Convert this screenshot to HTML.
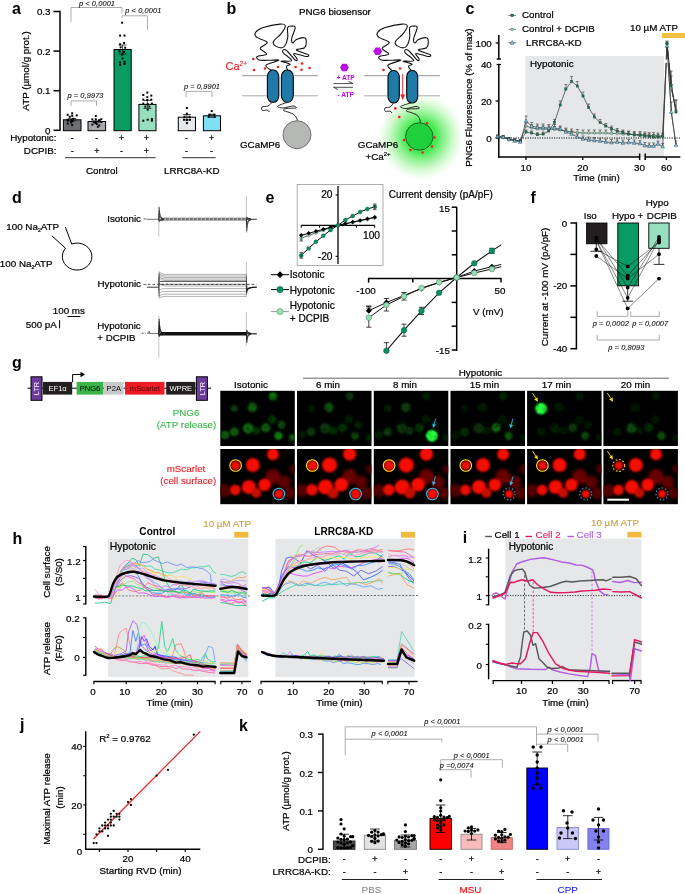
<!DOCTYPE html>
<html><head><meta charset="utf-8"><title>Figure</title>
<style>html,body{margin:0;padding:0;background:#fff}svg{display:block}text{font-family:'Liberation Sans', Arial, sans-serif}</style>
</head><body>
<svg width="685" height="894" viewBox="0 0 685 894" font-family="'Liberation Sans', Arial, sans-serif">
<rect width="685" height="894" fill="#fff"/>
<g id="pa">
<text x="12.0" y="14.0" font-size="16" font-weight="bold">a</text>
<line x1="60.0" y1="10.8" x2="60.0" y2="131.0" stroke="#000" stroke-width="1.5"/>
<line x1="53.5" y1="130.3" x2="60.0" y2="130.3" stroke="#000" stroke-width="1.5"/>
<text x="50.5" y="133.8" font-size="9.8" text-anchor="end" stroke="#000" stroke-width="0.22">0</text>
<line x1="53.5" y1="90.7" x2="60.0" y2="90.7" stroke="#000" stroke-width="1.5"/>
<text x="50.5" y="94.2" font-size="9.8" text-anchor="end" stroke="#000" stroke-width="0.22">0.1</text>
<line x1="53.5" y1="51.1" x2="60.0" y2="51.1" stroke="#000" stroke-width="1.5"/>
<text x="50.5" y="54.6" font-size="9.8" text-anchor="end" stroke="#000" stroke-width="0.22">0.2</text>
<line x1="53.5" y1="11.5" x2="60.0" y2="11.5" stroke="#000" stroke-width="1.5"/>
<text x="50.5" y="15.0" font-size="9.8" text-anchor="end" stroke="#000" stroke-width="0.22">0.3</text>
<text x="28.7" y="71.0" font-size="9.8" text-anchor="middle" stroke="#000" stroke-width="0.22" transform="rotate(-90 28.7 71.0)">ATP (µmol/g prot.)</text>
<rect x="63.4" y="119.8" width="17.6" height="10.9" fill="#6d6e71" stroke="#000" stroke-width="1"/>
<line x1="72.2" y1="118.6" x2="72.2" y2="121.0" stroke="#000" stroke-width="0.7"/>
<line x1="68.2" y1="118.6" x2="76.2" y2="118.6" stroke="#000" stroke-width="0.7"/>
<line x1="68.2" y1="121.0" x2="76.2" y2="121.0" stroke="#000" stroke-width="0.7"/>
<rect x="75.7" y="114.4" width="2.0" height="2.0" fill="#000"/>
<rect x="66.7" y="113.8" width="2.0" height="2.0" fill="#000"/>
<rect x="71.2" y="119.1" width="2.0" height="2.0" fill="#000"/>
<rect x="71.2" y="114.8" width="2.0" height="2.0" fill="#000"/>
<rect x="66.7" y="122.6" width="2.0" height="2.0" fill="#000"/>
<rect x="71.2" y="124.1" width="2.0" height="2.0" fill="#000"/>
<rect x="71.2" y="112.3" width="2.0" height="2.0" fill="#000"/>
<rect x="72.2" y="117.8" width="2.0" height="2.0" fill="#000"/>
<rect x="71.2" y="119.0" width="2.0" height="2.0" fill="#000"/>
<rect x="70.2" y="119.2" width="2.0" height="2.0" fill="#000"/>
<rect x="66.7" y="119.5" width="2.0" height="2.0" fill="#000"/>
<rect x="70.2" y="121.5" width="2.0" height="2.0" fill="#000"/>
<rect x="72.2" y="118.2" width="2.0" height="2.0" fill="#000"/>
<rect x="66.7" y="118.8" width="2.0" height="2.0" fill="#000"/>
<rect x="68.7" y="115.8" width="2.0" height="2.0" fill="#000"/>
<rect x="71.2" y="120.3" width="2.0" height="2.0" fill="#000"/>
<rect x="88.0" y="121.5" width="17.6" height="9.2" fill="#a7a9ac" stroke="#000" stroke-width="1"/>
<line x1="96.8" y1="120.8" x2="96.8" y2="122.2" stroke="#000" stroke-width="0.7"/>
<line x1="92.8" y1="120.8" x2="100.8" y2="120.8" stroke="#000" stroke-width="0.7"/>
<line x1="92.8" y1="122.2" x2="100.8" y2="122.2" stroke="#000" stroke-width="0.7"/>
<rect x="100.3" y="121.0" width="2.0" height="2.0" fill="#000"/>
<rect x="95.8" y="123.0" width="2.0" height="2.0" fill="#000"/>
<rect x="94.8" y="118.3" width="2.0" height="2.0" fill="#000"/>
<rect x="93.3" y="121.5" width="2.0" height="2.0" fill="#000"/>
<rect x="94.8" y="122.1" width="2.0" height="2.0" fill="#000"/>
<rect x="91.3" y="123.6" width="2.0" height="2.0" fill="#000"/>
<rect x="98.3" y="124.4" width="2.0" height="2.0" fill="#000"/>
<rect x="91.3" y="118.4" width="2.0" height="2.0" fill="#000"/>
<rect x="100.3" y="118.2" width="2.0" height="2.0" fill="#000"/>
<rect x="94.8" y="114.9" width="2.0" height="2.0" fill="#000"/>
<rect x="98.3" y="119.3" width="2.0" height="2.0" fill="#000"/>
<rect x="98.3" y="119.4" width="2.0" height="2.0" fill="#000"/>
<rect x="96.8" y="125.8" width="2.0" height="2.0" fill="#000"/>
<rect x="114.0" y="49.5" width="17.2" height="81.2" fill="#0a9a63" stroke="#000" stroke-width="1"/>
<line x1="122.6" y1="45.0" x2="122.6" y2="54.0" stroke="#000" stroke-width="0.7"/>
<line x1="118.6" y1="45.0" x2="126.6" y2="45.0" stroke="#000" stroke-width="0.7"/>
<line x1="118.6" y1="54.0" x2="126.6" y2="54.0" stroke="#000" stroke-width="0.7"/>
<rect x="138.9" y="104.4" width="17.1" height="26.3" fill="#98dfc0" stroke="#000" stroke-width="1"/>
<line x1="147.4" y1="100.4" x2="147.4" y2="108.4" stroke="#000" stroke-width="0.7"/>
<line x1="143.4" y1="100.4" x2="151.4" y2="100.4" stroke="#000" stroke-width="0.7"/>
<line x1="143.4" y1="108.4" x2="151.4" y2="108.4" stroke="#000" stroke-width="0.7"/>
<rect x="178.3" y="117.2" width="17.2" height="13.5" fill="#e6e7e8" stroke="#000" stroke-width="1"/>
<line x1="186.9" y1="114.5" x2="186.9" y2="119.9" stroke="#000" stroke-width="0.7"/>
<line x1="182.9" y1="114.5" x2="190.9" y2="114.5" stroke="#000" stroke-width="0.7"/>
<line x1="182.9" y1="119.9" x2="190.9" y2="119.9" stroke="#000" stroke-width="0.7"/>
<rect x="203.4" y="115.8" width="17.1" height="14.9" fill="#7fdff5" stroke="#000" stroke-width="1"/>
<line x1="211.9" y1="114.3" x2="211.9" y2="117.3" stroke="#000" stroke-width="0.7"/>
<line x1="207.9" y1="114.3" x2="215.9" y2="114.3" stroke="#000" stroke-width="0.7"/>
<line x1="207.9" y1="117.3" x2="215.9" y2="117.3" stroke="#000" stroke-width="0.7"/>
<rect x="121.1" y="21.7" width="2.0" height="2.0" fill="#000"/>
<rect x="119.1" y="34.6" width="2.0" height="2.0" fill="#000"/>
<rect x="123.5" y="34.6" width="2.0" height="2.0" fill="#000"/>
<rect x="119.1" y="43.3" width="2.0" height="2.0" fill="#000"/>
<rect x="123.1" y="41.9" width="2.0" height="2.0" fill="#000"/>
<rect x="119.7" y="46.3" width="2.0" height="2.0" fill="#000"/>
<rect x="124.2" y="46.7" width="2.0" height="2.0" fill="#000"/>
<rect x="118.5" y="50.3" width="2.0" height="2.0" fill="#000"/>
<rect x="123.1" y="50.9" width="2.0" height="2.0" fill="#000"/>
<rect x="121.1" y="53.7" width="2.0" height="2.0" fill="#000"/>
<rect x="121.5" y="57.4" width="2.0" height="2.0" fill="#000"/>
<rect x="119.1" y="61.4" width="2.0" height="2.0" fill="#000"/>
<rect x="123.5" y="60.8" width="2.0" height="2.0" fill="#000"/>
<rect x="119.1" y="63.8" width="2.0" height="2.0" fill="#000"/>
<rect x="123.5" y="63.0" width="2.0" height="2.0" fill="#000"/>
<rect x="146.3" y="91.6" width="2.0" height="2.0" fill="#000"/>
<rect x="142.3" y="94.0" width="2.0" height="2.0" fill="#000"/>
<rect x="150.3" y="94.6" width="2.0" height="2.0" fill="#000"/>
<rect x="146.3" y="96.2" width="2.0" height="2.0" fill="#000"/>
<rect x="142.3" y="98.6" width="2.0" height="2.0" fill="#000"/>
<rect x="146.3" y="99.0" width="2.0" height="2.0" fill="#000"/>
<rect x="150.3" y="98.6" width="2.0" height="2.0" fill="#000"/>
<rect x="142.3" y="102.6" width="2.0" height="2.0" fill="#000"/>
<rect x="146.7" y="103.2" width="2.0" height="2.0" fill="#000"/>
<rect x="150.9" y="102.6" width="2.0" height="2.0" fill="#000"/>
<rect x="144.3" y="105.6" width="2.0" height="2.0" fill="#000"/>
<rect x="148.3" y="105.6" width="2.0" height="2.0" fill="#000"/>
<rect x="146.7" y="108.7" width="2.0" height="2.0" fill="#000"/>
<rect x="142.3" y="119.7" width="2.0" height="2.0" fill="#000"/>
<rect x="146.7" y="118.7" width="2.0" height="2.0" fill="#000"/>
<rect x="150.9" y="118.1" width="2.0" height="2.0" fill="#000"/>
<rect x="150.9" y="119.7" width="2.0" height="2.0" fill="#000"/>
<rect x="185.9" y="107.0" width="2.0" height="2.0" fill="#000"/>
<rect x="185.9" y="112.7" width="2.0" height="2.0" fill="#000"/>
<rect x="183.5" y="115.7" width="2.0" height="2.0" fill="#000"/>
<rect x="188.5" y="115.7" width="2.0" height="2.0" fill="#000"/>
<rect x="183.1" y="118.7" width="2.0" height="2.0" fill="#000"/>
<rect x="185.9" y="119.1" width="2.0" height="2.0" fill="#000"/>
<rect x="188.9" y="118.7" width="2.0" height="2.0" fill="#000"/>
<rect x="185.9" y="122.1" width="2.0" height="2.0" fill="#000"/>
<rect x="210.7" y="110.1" width="2.0" height="2.0" fill="#000"/>
<rect x="208.7" y="113.7" width="2.0" height="2.0" fill="#000"/>
<rect x="213.1" y="113.7" width="2.0" height="2.0" fill="#000"/>
<rect x="207.7" y="115.7" width="2.0" height="2.0" fill="#000"/>
<rect x="213.7" y="115.7" width="2.0" height="2.0" fill="#000"/>
<text x="56.5" y="141.0" font-size="9.8" text-anchor="end" stroke="#000" stroke-width="0.22">Hypotonic:</text>
<text x="56.5" y="154.0" font-size="9.8" text-anchor="end" stroke="#000" stroke-width="0.22">DCPIB:</text>
<text x="72.2" y="140.5" font-size="9" text-anchor="middle" stroke="#000" stroke-width="0.22">-</text>
<text x="72.2" y="153.5" font-size="9" text-anchor="middle" stroke="#000" stroke-width="0.22">-</text>
<text x="96.8" y="140.5" font-size="9" text-anchor="middle" stroke="#000" stroke-width="0.22">-</text>
<text x="96.8" y="153.5" font-size="9" text-anchor="middle" stroke="#000" stroke-width="0.22">+</text>
<text x="121.4" y="140.5" font-size="9" text-anchor="middle" stroke="#000" stroke-width="0.22">+</text>
<text x="121.4" y="153.5" font-size="9" text-anchor="middle" stroke="#000" stroke-width="0.22">-</text>
<text x="146.4" y="140.5" font-size="9" text-anchor="middle" stroke="#000" stroke-width="0.22">+</text>
<text x="146.4" y="153.5" font-size="9" text-anchor="middle" stroke="#000" stroke-width="0.22">+</text>
<text x="186.6" y="140.5" font-size="9" text-anchor="middle" stroke="#000" stroke-width="0.22">-</text>
<text x="186.6" y="153.5" font-size="9" text-anchor="middle" stroke="#000" stroke-width="0.22">-</text>
<text x="211.6" y="140.5" font-size="9" text-anchor="middle" stroke="#000" stroke-width="0.22">+</text>
<text x="211.6" y="153.5" font-size="9" text-anchor="middle" stroke="#000" stroke-width="0.22">-</text>
<line x1="65.0" y1="157.7" x2="155.7" y2="157.7" stroke="#333" stroke-width="1"/>
<line x1="182.3" y1="157.7" x2="215.7" y2="157.7" stroke="#333" stroke-width="1"/>
<text x="86.0" y="174.0" font-size="9.8" stroke="#000" stroke-width="0.22">Control</text>
<text x="164.0" y="174.0" font-size="9.8" stroke="#000" stroke-width="0.22">LRRC8A-KD</text>
<path d="M71.0,22.0 V7.5 H122.0 V13.0" fill="none" stroke="#8a8a8a" stroke-width="0.7"/>
<text x="97.0" y="5.6" font-size="7.4" text-anchor="middle" font-style="italic" fill="#111" stroke="#111" stroke-width="0.11" letter-spacing="0.1">p &lt; 0,0001</text>
<path d="M122.0,17.5 V15.8 H147.4 V30.0" fill="none" stroke="#8a8a8a" stroke-width="0.7"/>
<text x="143.3" y="13.2" font-size="7.4" text-anchor="middle" font-style="italic" fill="#111" stroke="#111" stroke-width="0.11" letter-spacing="0.1">p &lt; 0,0001</text>
<path d="M71.0,105.9 V100.9 H96.5 V105.9" fill="none" stroke="#8a8a8a" stroke-width="0.7"/>
<text x="85.5" y="98.4" font-size="7.4" text-anchor="middle" font-style="italic" fill="#111" stroke="#111" stroke-width="0.11" letter-spacing="0.1">p = 0,9973</text>
<path d="M186.0,97.0 V91.4 H212.0 V97.0" fill="none" stroke="#8a8a8a" stroke-width="0.7"/>
<text x="202.0" y="88.6" font-size="7.4" text-anchor="middle" font-style="italic" fill="#111" stroke="#111" stroke-width="0.11" letter-spacing="0.1">p = 0,9901</text>
</g>
<g id="pb">
<defs><radialGradient id="glow"><stop offset="0" stop-color="#2fe03a" stop-opacity="1"/><stop offset="0.35" stop-color="#3fe84a" stop-opacity="0.95"/><stop offset="0.62" stop-color="#7bf07a" stop-opacity="0.6"/><stop offset="0.85" stop-color="#b8f8b0" stop-opacity="0.25"/><stop offset="1" stop-color="#ffffff" stop-opacity="0"/></radialGradient></defs>
<text x="226.5" y="13.5" font-size="16" font-weight="bold">b</text>
<text x="299.0" y="14.5" font-size="9.8" stroke="#000" stroke-width="0.22">PNG6 biosensor</text>
<circle cx="421.0" cy="137.0" r="45" fill="url(#glow)"/>
<line x1="242.0" y1="75.7" x2="267.0" y2="75.7" stroke="#777" stroke-width="0.8"/>
<line x1="294.0" y1="75.7" x2="318.0" y2="75.7" stroke="#777" stroke-width="0.8"/>
<line x1="242.0" y1="95.8" x2="267.0" y2="95.8" stroke="#b0b0b0" stroke-width="1.1"/>
<line x1="294.0" y1="95.8" x2="318.0" y2="95.8" stroke="#b0b0b0" stroke-width="1.1"/>
<path d="M272.5,71.0 C271.3,69.9 264.9,67.2 266.0,65.2 C267.2,63.3 278.4,61.2 278.9,60.3 C279.3,59.4 272.0,60.4 268.4,60.3 C264.7,60.2 261.0,60.7 259.0,60.0 C257.0,59.3 255.9,57.5 257.3,56.5 C258.7,55.4 266.1,55.6 266.6,54.1 C267.1,52.6 260.1,50.4 260.2,48.3 C260.3,46.1 267.8,44.5 267.2,42.4 C266.5,40.4 258.8,39.0 256.7,37.2 C254.5,35.4 254.4,34.2 255.5,32.5 C256.6,30.8 258.0,29.4 262.5,27.8 C267.0,26.3 275.9,24.4 280.0,24.1 C284.2,23.8 285.1,24.3 285.3,26.1 C285.5,27.9 283.3,30.9 281.2,33.7 C279.1,36.5 274.7,39.0 273.6,41.3 C272.5,43.5 273.5,44.9 275.4,45.9 C277.2,47.0 281.3,48.5 283.5,47.1 C285.8,45.7 286.9,41.9 287.6,38.4 C288.4,34.8 286.9,30.1 287.6,27.8 C288.4,25.6 290.3,26.1 291.7,26.1 C293.1,26.1 295.2,25.6 295.2,27.8 C295.2,30.1 292.1,35.6 291.7,38.4 C291.3,41.1 292.0,42.8 292.9,43.0 C293.7,43.2 294.2,40.5 296.4,39.5 C298.5,38.6 302.7,37.3 304.6,37.8 C306.4,38.2 306.3,40.0 306.3,41.9 C306.3,43.7 306.4,46.2 304.6,47.7 C302.7,49.2 295.7,48.8 296.4,50.0 C297.0,51.3 306.4,53.5 308.1,54.7 C309.8,55.9 308.3,56.7 305.7,56.5 C303.2,56.2 295.7,53.1 294.1,53.5 C292.4,54.0 296.8,57.6 297.0,58.8 C297.2,60.0 297.3,61.6 295.2,60.0 C293.2,58.4 288.1,51.4 285.9,50.0 C283.6,48.6 281.9,50.4 283.0,52.4 C284.0,54.3 292.0,58.9 291.7,60.5 C291.4,62.2 281.5,60.5 281.2,61.1 C280.9,61.8 289.0,63.1 290.0,64.1 C290.9,65.0 286.8,65.1 286.5,66.4 C286.1,67.7 287.7,70.2 288.0,71.0" fill="none" stroke="#111" stroke-width="1.1" stroke-linecap="round" stroke-linejoin="round"/>
<rect x="267.4" y="70.0" width="11.4" height="32.3" rx="5.2" ry="6.7" fill="#1f7aa8" stroke="#000" stroke-width="1.1"/>
<rect x="281.4" y="70.0" width="11.9" height="32.3" rx="5.5" ry="7.0" fill="#1f7aa8" stroke="#000" stroke-width="1.1"/>
<text x="225.5" y="69.5" font-size="11" fill="#ed1c24" stroke="#ed1c24" stroke-width="0.11">Ca<tspan font-size="6.5" dy="-4">2+</tspan></text>
<circle cx="253.3" cy="59.0" r="1.3" fill="#ed1c24"/>
<circle cx="254.0" cy="70.0" r="1.3" fill="#ed1c24"/>
<circle cx="265.0" cy="68.5" r="1.3" fill="#ed1c24"/>
<circle cx="278.0" cy="67.0" r="1.3" fill="#ed1c24"/>
<circle cx="295.6" cy="67.0" r="1.3" fill="#ed1c24"/>
<circle cx="302.0" cy="63.5" r="1.3" fill="#ed1c24"/>
<circle cx="301.5" cy="69.8" r="1.3" fill="#ed1c24"/>
<circle cx="309.6" cy="68.0" r="1.3" fill="#ed1c24"/>
<path d="M272.0,102.5 C271.3,103.1 269.7,105.2 268.0,106.0 C266.3,106.8 262.9,106.2 262.0,107.0 C261.1,107.8 261.7,110.0 262.5,110.5 C263.3,111.0 265.8,109.8 267.0,110.0 C268.2,110.2 269.1,111.7 269.5,112.0" fill="none" stroke="#111" stroke-width="0.9"/>
<path d="M287.0,102.5 C286.0,102.8 282.6,103.8 281.0,104.5 C279.4,105.2 277.2,105.9 277.5,106.5 C277.8,107.1 280.4,108.1 283.0,108.0 C285.6,107.9 290.8,106.0 293.0,106.0 C295.2,106.0 297.2,107.6 296.0,108.0 C294.8,108.4 288.1,108.1 286.0,108.5 C283.9,108.9 283.2,109.9 283.5,110.5 C283.8,111.1 286.4,111.4 288.0,112.0 C289.6,112.6 291.7,113.2 293.0,114.0 C294.3,114.8 295.2,115.9 296.0,117.0 C296.8,118.1 297.2,119.9 297.5,120.5" fill="none" stroke="#111" stroke-width="0.9"/>
<circle cx="297.0" cy="134.7" r="14" fill="#b5b8b5" stroke="#555" stroke-width="0.8"/>
<text x="240.0" y="148.0" font-size="9.8" stroke="#000" stroke-width="0.22">GCaMP6</text>
<polygon points="348.8,67.5 346.6,71.3 342.2,71.3 340.0,67.5 342.2,63.7 346.6,63.7" fill="#b80ce8"/>
<polygon points="382.1,51.2 379.9,55.0 375.5,55.0 373.3,51.2 375.5,47.4 379.9,47.4" fill="#b80ce8"/>
<text x="345.7" y="79.5" font-size="6.6" text-anchor="middle" font-weight="bold" fill="#b80ce8">+ ATP</text>
<text x="345.7" y="96.8" font-size="6.6" text-anchor="middle" font-weight="bold" fill="#b80ce8">- ATP</text>
<path d="M333.5,83.6 H353 L348.5,81.4" fill="none" stroke="#222" stroke-width="0.8"/>
<path d="M353,87.3 H333.5 L338,89.5" fill="none" stroke="#222" stroke-width="0.8"/>
<line x1="364.0" y1="75.7" x2="387.5" y2="75.7" stroke="#777" stroke-width="0.8"/>
<line x1="418.0" y1="75.7" x2="440.0" y2="75.7" stroke="#777" stroke-width="0.8"/>
<line x1="364.0" y1="95.8" x2="387.5" y2="95.8" stroke="#b0b0b0" stroke-width="1.1"/>
<line x1="418.0" y1="95.8" x2="440.0" y2="95.8" stroke="#b0b0b0" stroke-width="1.1"/>
<path d="M393.5,71.5 C392.5,70.3 386.7,67.3 388.0,65.2 C389.4,63.2 400.4,61.2 400.9,60.3 C401.3,59.4 394.0,60.4 390.4,60.3 C386.7,60.2 383.0,60.7 381.0,60.0 C379.0,59.3 377.9,57.5 379.3,56.5 C380.7,55.4 388.1,55.6 388.6,54.1 C389.1,52.6 382.1,50.4 382.2,48.3 C382.3,46.1 389.8,44.5 389.2,42.4 C388.5,40.4 380.8,39.0 378.7,37.2 C376.5,35.4 376.4,34.2 377.5,32.5 C378.6,30.8 380.0,29.4 384.5,27.8 C389.0,26.3 397.9,24.4 402.0,24.1 C406.2,23.8 407.1,24.3 407.3,26.1 C407.5,27.9 405.3,30.9 403.2,33.7 C401.1,36.5 396.7,39.0 395.6,41.3 C394.5,43.5 395.5,44.9 397.4,45.9 C399.2,47.0 403.3,48.5 405.5,47.1 C407.8,45.7 408.9,41.9 409.6,38.4 C410.4,34.8 408.9,30.1 409.6,27.8 C410.4,25.6 412.3,26.1 413.7,26.1 C415.1,26.1 417.2,25.6 417.2,27.8 C417.2,30.1 414.1,35.6 413.7,38.4 C413.3,41.1 414.0,42.8 414.9,43.0 C415.7,43.2 416.2,40.5 418.4,39.5 C420.5,38.6 424.7,37.3 426.6,37.8 C428.4,38.2 428.3,40.0 428.3,41.9 C428.3,43.7 428.4,46.2 426.6,47.7 C424.7,49.2 417.7,48.8 418.4,50.0 C419.0,51.3 428.4,53.5 430.1,54.7 C431.8,55.9 430.3,56.7 427.7,56.5 C425.2,56.2 417.7,53.1 416.1,53.5 C414.4,54.0 418.8,57.6 419.0,58.8 C419.2,60.0 419.3,61.6 417.2,60.0 C415.2,58.4 410.1,51.4 407.9,50.0 C405.6,48.6 403.9,50.4 405.0,52.4 C406.0,54.3 414.0,58.9 413.7,60.5 C413.4,62.2 403.5,60.5 403.2,61.1 C402.9,61.8 411.0,63.1 412.0,64.1 C412.9,65.0 408.5,65.0 408.5,66.4 C408.5,67.8 411.4,70.6 412.0,71.5" fill="none" stroke="#111" stroke-width="1.1" stroke-linecap="round" stroke-linejoin="round"/>
<rect x="388.0" y="70.5" width="11.3" height="32.5" rx="5.2" ry="6.7" fill="#1f7aa8" stroke="#000" stroke-width="1.1"/>
<rect x="406.7" y="70.5" width="11.0" height="32.5" rx="5.0" ry="6.5" fill="#1f7aa8" stroke="#000" stroke-width="1.1"/>
<line x1="402.7" y1="74.0" x2="402.7" y2="96.0" stroke="#ed1c24" stroke-width="0.9"/>
<polygon points="400.3,94.5 405.1,94.5 402.7,100" fill="#ed1c24"/>
<circle cx="383.5" cy="70.0" r="1.3" fill="#ed1c24"/>
<circle cx="400.0" cy="68.5" r="1.3" fill="#ed1c24"/>
<circle cx="395.4" cy="108.4" r="1.3" fill="#ed1c24"/>
<circle cx="399.3" cy="117.0" r="1.3" fill="#ed1c24"/>
<path d="M393.5,103.0 C392.9,103.7 391.4,106.2 390.0,107.0 C388.6,107.8 385.8,107.2 385.0,108.0 C384.2,108.8 384.7,111.0 385.5,111.5 C386.3,112.0 388.9,110.8 390.0,111.0 C391.1,111.2 391.7,112.7 392.0,113.0" fill="none" stroke="#111" stroke-width="0.9"/>
<path d="M411.0,103.0 C409.8,103.3 405.8,104.3 404.0,105.0 C402.2,105.7 400.2,106.4 400.5,107.0 C400.8,107.6 403.4,108.6 406.0,108.5 C408.6,108.4 413.8,106.5 416.0,106.5 C418.2,106.5 420.2,108.1 419.0,108.5 C417.8,108.9 411.1,108.6 409.0,109.0 C406.9,109.4 406.2,110.4 406.5,111.0 C406.8,111.6 409.4,111.9 411.0,112.5 C412.6,113.1 414.7,113.7 416.0,114.5 C417.3,115.3 418.2,116.2 419.0,117.5 C419.8,118.8 420.2,121.7 420.5,122.5" fill="none" stroke="#111" stroke-width="0.9"/>
<circle cx="419.3" cy="136.5" r="13.7" fill="#1fd03c" stroke="#0a4a12" stroke-width="0.8"/>
<circle cx="427.0" cy="123.3" r="1.3" fill="#ed1c24"/>
<circle cx="434.5" cy="137.5" r="1.3" fill="#ed1c24"/>
<circle cx="432.0" cy="146.5" r="1.3" fill="#ed1c24"/>
<circle cx="422.6" cy="152.5" r="1.3" fill="#ed1c24"/>
<circle cx="410.5" cy="150.0" r="1.3" fill="#ed1c24"/>
<circle cx="404.0" cy="140.0" r="1.3" fill="#ed1c24"/>
<text x="378.0" y="147.5" font-size="9.8" text-anchor="middle" stroke="#000" stroke-width="0.22">GCaMP6</text>
<text x="378.0" y="159.5" font-size="9.8" text-anchor="middle" stroke="#000" stroke-width="0.22">+Ca<tspan font-size="6" dy="-3.5">2+</tspan></text>
</g>
<g id="pc">
<text x="465.5" y="13.7" font-size="16" font-weight="bold">c</text>
<rect x="525.4" y="56.0" width="138.6" height="101.0" fill="#e6e7e8"/>
<text x="530.0" y="67.0" font-size="9.8" stroke="#000" stroke-width="0.22">Hypotonic</text>
<rect x="662.0" y="33.0" width="23.0" height="5.0" fill="#f2c040"/>
<text x="630.0" y="30.7" font-size="9.8" stroke="#000" stroke-width="0.22">10 µM ATP</text>
<line x1="498.8" y1="35.0" x2="498.8" y2="59.6" stroke="#000" stroke-width="1.5"/>
<line x1="496.6" y1="59.0" x2="501.0" y2="59.0" stroke="#000" stroke-width="1.3"/>
<line x1="495.6" y1="43.0" x2="498.8" y2="43.0" stroke="#000" stroke-width="1.3"/>
<line x1="498.8" y1="64.0" x2="498.8" y2="157.7" stroke="#000" stroke-width="1.5"/>
<line x1="496.6" y1="64.5" x2="501.0" y2="64.5" stroke="#000" stroke-width="1.3"/>
<line x1="495.6" y1="138.0" x2="498.8" y2="138.0" stroke="#000" stroke-width="1.3"/>
<text x="491.8" y="141.5" font-size="9.8" text-anchor="end" stroke="#000" stroke-width="0.22">0</text>
<line x1="495.6" y1="101.0" x2="498.8" y2="101.0" stroke="#000" stroke-width="1.3"/>
<text x="491.8" y="104.5" font-size="9.8" text-anchor="end" stroke="#000" stroke-width="0.22">20</text>
<text x="491.8" y="67.5" font-size="9.8" text-anchor="end" stroke="#000" stroke-width="0.22">40</text>
<text x="491.8" y="46.5" font-size="9.8" text-anchor="end" stroke="#000" stroke-width="0.22">100</text>
<text x="472.0" y="97.5" font-size="9.8" text-anchor="middle" stroke="#000" stroke-width="0.22" transform="rotate(-90 472.0 97.5)">PNG6 Fluorescence (% of max)</text>
<line x1="498.1" y1="157.0" x2="640.2" y2="157.0" stroke="#000" stroke-width="1.5"/>
<line x1="644.8" y1="157.0" x2="680.4" y2="157.0" stroke="#000" stroke-width="1.5"/>
<line x1="639.6" y1="153.5" x2="639.6" y2="160.0" stroke="#000" stroke-width="1.5"/>
<line x1="645.2" y1="153.5" x2="645.2" y2="160.0" stroke="#000" stroke-width="1.5"/>
<line x1="526.0" y1="157.0" x2="526.0" y2="160.0" stroke="#000" stroke-width="1.3"/>
<text x="526.0" y="171.0" font-size="9.8" text-anchor="middle" stroke="#000" stroke-width="0.22">10</text>
<line x1="582.7" y1="157.0" x2="582.7" y2="160.0" stroke="#000" stroke-width="1.3"/>
<text x="582.7" y="171.0" font-size="9.8" text-anchor="middle" stroke="#000" stroke-width="0.22">20</text>
<text x="639.5" y="171.0" font-size="9.8" text-anchor="middle" stroke="#000" stroke-width="0.22">30</text>
<line x1="666.4" y1="157.0" x2="666.4" y2="160.0" stroke="#000" stroke-width="1.3"/>
<text x="666.4" y="171.0" font-size="9.8" text-anchor="middle" stroke="#000" stroke-width="0.22">60</text>
<text x="596.6" y="181.0" font-size="9.8" text-anchor="middle" stroke="#000" stroke-width="0.22">Time (min)</text>
<line x1="498.8" y1="138.0" x2="681.0" y2="138.0" stroke="#000" stroke-width="0.9" stroke-dasharray="1.2,1.2"/>
<polyline points="662.7,136.5 667.0,43.0 671.3,85.0 676.0,112.0" fill="none" stroke="#333" stroke-width="0.7"/>
<polyline points="662.7,136.0 667.0,44.0 671.3,88.0 676.0,110.0" fill="none" stroke="#333" stroke-width="0.7"/>
<polyline points="662.7,146.5 667.0,46.0 671.3,112.0 676.0,145.0" fill="none" stroke="#333" stroke-width="0.7"/>
<rect x="664.2" y="59.6" width="17.0" height="3.2" fill="#fff"/>
<polyline points="497.5,137.0 503.2,137.5 508.9,139.0 514.6,140.0 520.3,141.0 526.0,126.0 531.7,128.0 537.4,129.0 543.1,129.0 548.8,129.0 554.5,129.5 560.2,130.0 565.9,131.0 571.6,132.0 577.3,132.5 583.0,133.0 588.7,133.0 594.4,133.0 600.1,133.0 605.8,133.0 611.5,133.3 617.2,133.5 622.9,134.0 628.6,134.0 634.3,134.5 640.0,134.5 644.8,135.0 649.2,135.5 653.6,135.5 658.0,136.0 662.7,136.0" fill="none" stroke="#333" stroke-width="0.7"/>
<line x1="497.5" y1="135.5" x2="497.5" y2="137.0" stroke="#3a3a3a" stroke-width="0.6"/>
<line x1="496.0" y1="135.5" x2="499.0" y2="135.5" stroke="#3a3a3a" stroke-width="0.6"/>
<line x1="503.2" y1="136.0" x2="503.2" y2="137.5" stroke="#3a3a3a" stroke-width="0.6"/>
<line x1="501.7" y1="136.0" x2="504.7" y2="136.0" stroke="#3a3a3a" stroke-width="0.6"/>
<line x1="508.9" y1="137.5" x2="508.9" y2="139.0" stroke="#3a3a3a" stroke-width="0.6"/>
<line x1="507.4" y1="137.5" x2="510.4" y2="137.5" stroke="#3a3a3a" stroke-width="0.6"/>
<line x1="514.6" y1="138.5" x2="514.6" y2="140.0" stroke="#3a3a3a" stroke-width="0.6"/>
<line x1="513.1" y1="138.5" x2="516.1" y2="138.5" stroke="#3a3a3a" stroke-width="0.6"/>
<line x1="520.3" y1="139.5" x2="520.3" y2="141.0" stroke="#3a3a3a" stroke-width="0.6"/>
<line x1="518.8" y1="139.5" x2="521.8" y2="139.5" stroke="#3a3a3a" stroke-width="0.6"/>
<line x1="526.0" y1="123.0" x2="526.0" y2="126.0" stroke="#3a3a3a" stroke-width="0.6"/>
<line x1="524.5" y1="123.0" x2="527.5" y2="123.0" stroke="#3a3a3a" stroke-width="0.6"/>
<line x1="531.7" y1="125.0" x2="531.7" y2="128.0" stroke="#3a3a3a" stroke-width="0.6"/>
<line x1="530.2" y1="125.0" x2="533.2" y2="125.0" stroke="#3a3a3a" stroke-width="0.6"/>
<line x1="537.4" y1="126.0" x2="537.4" y2="129.0" stroke="#3a3a3a" stroke-width="0.6"/>
<line x1="535.9" y1="126.0" x2="538.9" y2="126.0" stroke="#3a3a3a" stroke-width="0.6"/>
<line x1="543.1" y1="126.0" x2="543.1" y2="129.0" stroke="#3a3a3a" stroke-width="0.6"/>
<line x1="541.6" y1="126.0" x2="544.6" y2="126.0" stroke="#3a3a3a" stroke-width="0.6"/>
<line x1="548.8" y1="126.0" x2="548.8" y2="129.0" stroke="#3a3a3a" stroke-width="0.6"/>
<line x1="547.3" y1="126.0" x2="550.3" y2="126.0" stroke="#3a3a3a" stroke-width="0.6"/>
<line x1="554.5" y1="126.5" x2="554.5" y2="129.5" stroke="#3a3a3a" stroke-width="0.6"/>
<line x1="553.0" y1="126.5" x2="556.0" y2="126.5" stroke="#3a3a3a" stroke-width="0.6"/>
<line x1="560.2" y1="127.0" x2="560.2" y2="130.0" stroke="#3a3a3a" stroke-width="0.6"/>
<line x1="558.7" y1="127.0" x2="561.7" y2="127.0" stroke="#3a3a3a" stroke-width="0.6"/>
<line x1="565.9" y1="128.0" x2="565.9" y2="131.0" stroke="#3a3a3a" stroke-width="0.6"/>
<line x1="564.4" y1="128.0" x2="567.4" y2="128.0" stroke="#3a3a3a" stroke-width="0.6"/>
<line x1="571.6" y1="129.0" x2="571.6" y2="132.0" stroke="#3a3a3a" stroke-width="0.6"/>
<line x1="570.1" y1="129.0" x2="573.1" y2="129.0" stroke="#3a3a3a" stroke-width="0.6"/>
<line x1="577.3" y1="129.5" x2="577.3" y2="132.5" stroke="#3a3a3a" stroke-width="0.6"/>
<line x1="575.8" y1="129.5" x2="578.8" y2="129.5" stroke="#3a3a3a" stroke-width="0.6"/>
<line x1="583.0" y1="130.0" x2="583.0" y2="133.0" stroke="#3a3a3a" stroke-width="0.6"/>
<line x1="581.5" y1="130.0" x2="584.5" y2="130.0" stroke="#3a3a3a" stroke-width="0.6"/>
<line x1="588.7" y1="130.0" x2="588.7" y2="133.0" stroke="#3a3a3a" stroke-width="0.6"/>
<line x1="587.2" y1="130.0" x2="590.2" y2="130.0" stroke="#3a3a3a" stroke-width="0.6"/>
<line x1="594.4" y1="130.0" x2="594.4" y2="133.0" stroke="#3a3a3a" stroke-width="0.6"/>
<line x1="592.9" y1="130.0" x2="595.9" y2="130.0" stroke="#3a3a3a" stroke-width="0.6"/>
<line x1="600.1" y1="130.0" x2="600.1" y2="133.0" stroke="#3a3a3a" stroke-width="0.6"/>
<line x1="598.6" y1="130.0" x2="601.6" y2="130.0" stroke="#3a3a3a" stroke-width="0.6"/>
<line x1="605.8" y1="130.0" x2="605.8" y2="133.0" stroke="#3a3a3a" stroke-width="0.6"/>
<line x1="604.3" y1="130.0" x2="607.3" y2="130.0" stroke="#3a3a3a" stroke-width="0.6"/>
<line x1="611.5" y1="130.3" x2="611.5" y2="133.3" stroke="#3a3a3a" stroke-width="0.6"/>
<line x1="610.0" y1="130.3" x2="613.0" y2="130.3" stroke="#3a3a3a" stroke-width="0.6"/>
<line x1="617.2" y1="130.5" x2="617.2" y2="133.5" stroke="#3a3a3a" stroke-width="0.6"/>
<line x1="615.7" y1="130.5" x2="618.7" y2="130.5" stroke="#3a3a3a" stroke-width="0.6"/>
<line x1="622.9" y1="131.0" x2="622.9" y2="134.0" stroke="#3a3a3a" stroke-width="0.6"/>
<line x1="621.4" y1="131.0" x2="624.4" y2="131.0" stroke="#3a3a3a" stroke-width="0.6"/>
<line x1="628.6" y1="131.0" x2="628.6" y2="134.0" stroke="#3a3a3a" stroke-width="0.6"/>
<line x1="627.1" y1="131.0" x2="630.1" y2="131.0" stroke="#3a3a3a" stroke-width="0.6"/>
<line x1="634.3" y1="131.5" x2="634.3" y2="134.5" stroke="#3a3a3a" stroke-width="0.6"/>
<line x1="632.8" y1="131.5" x2="635.8" y2="131.5" stroke="#3a3a3a" stroke-width="0.6"/>
<line x1="640.0" y1="131.5" x2="640.0" y2="134.5" stroke="#3a3a3a" stroke-width="0.6"/>
<line x1="638.5" y1="131.5" x2="641.5" y2="131.5" stroke="#3a3a3a" stroke-width="0.6"/>
<line x1="644.8" y1="132.0" x2="644.8" y2="135.0" stroke="#3a3a3a" stroke-width="0.6"/>
<line x1="643.3" y1="132.0" x2="646.3" y2="132.0" stroke="#3a3a3a" stroke-width="0.6"/>
<line x1="649.2" y1="132.5" x2="649.2" y2="135.5" stroke="#3a3a3a" stroke-width="0.6"/>
<line x1="647.7" y1="132.5" x2="650.7" y2="132.5" stroke="#3a3a3a" stroke-width="0.6"/>
<line x1="653.6" y1="132.5" x2="653.6" y2="135.5" stroke="#3a3a3a" stroke-width="0.6"/>
<line x1="652.1" y1="132.5" x2="655.1" y2="132.5" stroke="#3a3a3a" stroke-width="0.6"/>
<line x1="658.0" y1="133.0" x2="658.0" y2="136.0" stroke="#3a3a3a" stroke-width="0.6"/>
<line x1="656.5" y1="133.0" x2="659.5" y2="133.0" stroke="#3a3a3a" stroke-width="0.6"/>
<line x1="662.7" y1="133.0" x2="662.7" y2="136.0" stroke="#3a3a3a" stroke-width="0.6"/>
<line x1="661.2" y1="133.0" x2="664.2" y2="133.0" stroke="#3a3a3a" stroke-width="0.6"/>
<circle cx="497.5" cy="137.0" r="1.35" fill="#8fd6b0" stroke="#3a5a4a" stroke-width="0.4"/>
<circle cx="503.2" cy="137.5" r="1.35" fill="#8fd6b0" stroke="#3a5a4a" stroke-width="0.4"/>
<circle cx="508.9" cy="139.0" r="1.35" fill="#8fd6b0" stroke="#3a5a4a" stroke-width="0.4"/>
<circle cx="514.6" cy="140.0" r="1.35" fill="#8fd6b0" stroke="#3a5a4a" stroke-width="0.4"/>
<circle cx="520.3" cy="141.0" r="1.35" fill="#8fd6b0" stroke="#3a5a4a" stroke-width="0.4"/>
<circle cx="526.0" cy="126.0" r="1.35" fill="#8fd6b0" stroke="#3a5a4a" stroke-width="0.4"/>
<circle cx="531.7" cy="128.0" r="1.35" fill="#8fd6b0" stroke="#3a5a4a" stroke-width="0.4"/>
<circle cx="537.4" cy="129.0" r="1.35" fill="#8fd6b0" stroke="#3a5a4a" stroke-width="0.4"/>
<circle cx="543.1" cy="129.0" r="1.35" fill="#8fd6b0" stroke="#3a5a4a" stroke-width="0.4"/>
<circle cx="548.8" cy="129.0" r="1.35" fill="#8fd6b0" stroke="#3a5a4a" stroke-width="0.4"/>
<circle cx="554.5" cy="129.5" r="1.35" fill="#8fd6b0" stroke="#3a5a4a" stroke-width="0.4"/>
<circle cx="560.2" cy="130.0" r="1.35" fill="#8fd6b0" stroke="#3a5a4a" stroke-width="0.4"/>
<circle cx="565.9" cy="131.0" r="1.35" fill="#8fd6b0" stroke="#3a5a4a" stroke-width="0.4"/>
<circle cx="571.6" cy="132.0" r="1.35" fill="#8fd6b0" stroke="#3a5a4a" stroke-width="0.4"/>
<circle cx="577.3" cy="132.5" r="1.35" fill="#8fd6b0" stroke="#3a5a4a" stroke-width="0.4"/>
<circle cx="583.0" cy="133.0" r="1.35" fill="#8fd6b0" stroke="#3a5a4a" stroke-width="0.4"/>
<circle cx="588.7" cy="133.0" r="1.35" fill="#8fd6b0" stroke="#3a5a4a" stroke-width="0.4"/>
<circle cx="594.4" cy="133.0" r="1.35" fill="#8fd6b0" stroke="#3a5a4a" stroke-width="0.4"/>
<circle cx="600.1" cy="133.0" r="1.35" fill="#8fd6b0" stroke="#3a5a4a" stroke-width="0.4"/>
<circle cx="605.8" cy="133.0" r="1.35" fill="#8fd6b0" stroke="#3a5a4a" stroke-width="0.4"/>
<circle cx="611.5" cy="133.3" r="1.35" fill="#8fd6b0" stroke="#3a5a4a" stroke-width="0.4"/>
<circle cx="617.2" cy="133.5" r="1.35" fill="#8fd6b0" stroke="#3a5a4a" stroke-width="0.4"/>
<circle cx="622.9" cy="134.0" r="1.35" fill="#8fd6b0" stroke="#3a5a4a" stroke-width="0.4"/>
<circle cx="628.6" cy="134.0" r="1.35" fill="#8fd6b0" stroke="#3a5a4a" stroke-width="0.4"/>
<circle cx="634.3" cy="134.5" r="1.35" fill="#8fd6b0" stroke="#3a5a4a" stroke-width="0.4"/>
<circle cx="640.0" cy="134.5" r="1.35" fill="#8fd6b0" stroke="#3a5a4a" stroke-width="0.4"/>
<circle cx="644.8" cy="135.0" r="1.35" fill="#8fd6b0" stroke="#3a5a4a" stroke-width="0.4"/>
<circle cx="649.2" cy="135.5" r="1.35" fill="#8fd6b0" stroke="#3a5a4a" stroke-width="0.4"/>
<circle cx="653.6" cy="135.5" r="1.35" fill="#8fd6b0" stroke="#3a5a4a" stroke-width="0.4"/>
<circle cx="658.0" cy="136.0" r="1.35" fill="#8fd6b0" stroke="#3a5a4a" stroke-width="0.4"/>
<circle cx="662.7" cy="136.0" r="1.35" fill="#8fd6b0" stroke="#3a5a4a" stroke-width="0.4"/>
<polyline points="497.5,137.0 503.2,137.0 508.9,139.0 514.6,140.5 520.3,141.0 526.0,132.0 531.7,133.0 537.4,134.7 543.1,134.0 548.8,131.0 554.5,122.5 560.2,105.0 565.9,89.0 571.6,81.5 577.3,86.0 583.0,96.0 588.7,107.5 594.4,117.0 600.1,122.5 605.8,126.0 611.5,128.6 617.2,131.0 622.9,132.5 628.6,134.0 634.3,135.0 640.0,135.5 644.8,136.0 649.2,136.5 653.6,137.0 658.0,137.0 662.7,136.5" fill="none" stroke="#333" stroke-width="0.7"/>
<line x1="497.5" y1="135.5" x2="497.5" y2="137.0" stroke="#3a3a3a" stroke-width="0.6"/>
<line x1="496.0" y1="135.5" x2="499.0" y2="135.5" stroke="#3a3a3a" stroke-width="0.6"/>
<line x1="503.2" y1="135.5" x2="503.2" y2="137.0" stroke="#3a3a3a" stroke-width="0.6"/>
<line x1="501.7" y1="135.5" x2="504.7" y2="135.5" stroke="#3a3a3a" stroke-width="0.6"/>
<line x1="508.9" y1="137.5" x2="508.9" y2="139.0" stroke="#3a3a3a" stroke-width="0.6"/>
<line x1="507.4" y1="137.5" x2="510.4" y2="137.5" stroke="#3a3a3a" stroke-width="0.6"/>
<line x1="514.6" y1="139.0" x2="514.6" y2="140.5" stroke="#3a3a3a" stroke-width="0.6"/>
<line x1="513.1" y1="139.0" x2="516.1" y2="139.0" stroke="#3a3a3a" stroke-width="0.6"/>
<line x1="520.3" y1="139.5" x2="520.3" y2="141.0" stroke="#3a3a3a" stroke-width="0.6"/>
<line x1="518.8" y1="139.5" x2="521.8" y2="139.5" stroke="#3a3a3a" stroke-width="0.6"/>
<line x1="526.0" y1="130.0" x2="526.0" y2="132.0" stroke="#3a3a3a" stroke-width="0.6"/>
<line x1="524.5" y1="130.0" x2="527.5" y2="130.0" stroke="#3a3a3a" stroke-width="0.6"/>
<line x1="531.7" y1="131.0" x2="531.7" y2="133.0" stroke="#3a3a3a" stroke-width="0.6"/>
<line x1="530.2" y1="131.0" x2="533.2" y2="131.0" stroke="#3a3a3a" stroke-width="0.6"/>
<line x1="537.4" y1="132.7" x2="537.4" y2="134.7" stroke="#3a3a3a" stroke-width="0.6"/>
<line x1="535.9" y1="132.7" x2="538.9" y2="132.7" stroke="#3a3a3a" stroke-width="0.6"/>
<line x1="543.1" y1="132.0" x2="543.1" y2="134.0" stroke="#3a3a3a" stroke-width="0.6"/>
<line x1="541.6" y1="132.0" x2="544.6" y2="132.0" stroke="#3a3a3a" stroke-width="0.6"/>
<line x1="548.8" y1="128.5" x2="548.8" y2="131.0" stroke="#3a3a3a" stroke-width="0.6"/>
<line x1="547.3" y1="128.5" x2="550.3" y2="128.5" stroke="#3a3a3a" stroke-width="0.6"/>
<line x1="554.5" y1="119.5" x2="554.5" y2="122.5" stroke="#3a3a3a" stroke-width="0.6"/>
<line x1="553.0" y1="119.5" x2="556.0" y2="119.5" stroke="#3a3a3a" stroke-width="0.6"/>
<line x1="560.2" y1="101.0" x2="560.2" y2="105.0" stroke="#3a3a3a" stroke-width="0.6"/>
<line x1="558.7" y1="101.0" x2="561.7" y2="101.0" stroke="#3a3a3a" stroke-width="0.6"/>
<line x1="565.9" y1="84.5" x2="565.9" y2="89.0" stroke="#3a3a3a" stroke-width="0.6"/>
<line x1="564.4" y1="84.5" x2="567.4" y2="84.5" stroke="#3a3a3a" stroke-width="0.6"/>
<line x1="571.6" y1="76.5" x2="571.6" y2="81.5" stroke="#3a3a3a" stroke-width="0.6"/>
<line x1="570.1" y1="76.5" x2="573.1" y2="76.5" stroke="#3a3a3a" stroke-width="0.6"/>
<line x1="577.3" y1="81.5" x2="577.3" y2="86.0" stroke="#3a3a3a" stroke-width="0.6"/>
<line x1="575.8" y1="81.5" x2="578.8" y2="81.5" stroke="#3a3a3a" stroke-width="0.6"/>
<line x1="583.0" y1="92.0" x2="583.0" y2="96.0" stroke="#3a3a3a" stroke-width="0.6"/>
<line x1="581.5" y1="92.0" x2="584.5" y2="92.0" stroke="#3a3a3a" stroke-width="0.6"/>
<line x1="588.7" y1="104.0" x2="588.7" y2="107.5" stroke="#3a3a3a" stroke-width="0.6"/>
<line x1="587.2" y1="104.0" x2="590.2" y2="104.0" stroke="#3a3a3a" stroke-width="0.6"/>
<line x1="594.4" y1="114.0" x2="594.4" y2="117.0" stroke="#3a3a3a" stroke-width="0.6"/>
<line x1="592.9" y1="114.0" x2="595.9" y2="114.0" stroke="#3a3a3a" stroke-width="0.6"/>
<line x1="600.1" y1="119.5" x2="600.1" y2="122.5" stroke="#3a3a3a" stroke-width="0.6"/>
<line x1="598.6" y1="119.5" x2="601.6" y2="119.5" stroke="#3a3a3a" stroke-width="0.6"/>
<line x1="605.8" y1="123.5" x2="605.8" y2="126.0" stroke="#3a3a3a" stroke-width="0.6"/>
<line x1="604.3" y1="123.5" x2="607.3" y2="123.5" stroke="#3a3a3a" stroke-width="0.6"/>
<line x1="611.5" y1="126.1" x2="611.5" y2="128.6" stroke="#3a3a3a" stroke-width="0.6"/>
<line x1="610.0" y1="126.1" x2="613.0" y2="126.1" stroke="#3a3a3a" stroke-width="0.6"/>
<line x1="617.2" y1="128.5" x2="617.2" y2="131.0" stroke="#3a3a3a" stroke-width="0.6"/>
<line x1="615.7" y1="128.5" x2="618.7" y2="128.5" stroke="#3a3a3a" stroke-width="0.6"/>
<line x1="622.9" y1="130.0" x2="622.9" y2="132.5" stroke="#3a3a3a" stroke-width="0.6"/>
<line x1="621.4" y1="130.0" x2="624.4" y2="130.0" stroke="#3a3a3a" stroke-width="0.6"/>
<line x1="628.6" y1="131.5" x2="628.6" y2="134.0" stroke="#3a3a3a" stroke-width="0.6"/>
<line x1="627.1" y1="131.5" x2="630.1" y2="131.5" stroke="#3a3a3a" stroke-width="0.6"/>
<line x1="634.3" y1="132.5" x2="634.3" y2="135.0" stroke="#3a3a3a" stroke-width="0.6"/>
<line x1="632.8" y1="132.5" x2="635.8" y2="132.5" stroke="#3a3a3a" stroke-width="0.6"/>
<line x1="640.0" y1="133.0" x2="640.0" y2="135.5" stroke="#3a3a3a" stroke-width="0.6"/>
<line x1="638.5" y1="133.0" x2="641.5" y2="133.0" stroke="#3a3a3a" stroke-width="0.6"/>
<line x1="644.8" y1="133.5" x2="644.8" y2="136.0" stroke="#3a3a3a" stroke-width="0.6"/>
<line x1="643.3" y1="133.5" x2="646.3" y2="133.5" stroke="#3a3a3a" stroke-width="0.6"/>
<line x1="649.2" y1="134.0" x2="649.2" y2="136.5" stroke="#3a3a3a" stroke-width="0.6"/>
<line x1="647.7" y1="134.0" x2="650.7" y2="134.0" stroke="#3a3a3a" stroke-width="0.6"/>
<line x1="653.6" y1="134.5" x2="653.6" y2="137.0" stroke="#3a3a3a" stroke-width="0.6"/>
<line x1="652.1" y1="134.5" x2="655.1" y2="134.5" stroke="#3a3a3a" stroke-width="0.6"/>
<line x1="658.0" y1="134.5" x2="658.0" y2="137.0" stroke="#3a3a3a" stroke-width="0.6"/>
<line x1="656.5" y1="134.5" x2="659.5" y2="134.5" stroke="#3a3a3a" stroke-width="0.6"/>
<line x1="662.7" y1="134.0" x2="662.7" y2="136.5" stroke="#3a3a3a" stroke-width="0.6"/>
<line x1="661.2" y1="134.0" x2="664.2" y2="134.0" stroke="#3a3a3a" stroke-width="0.6"/>
<rect x="496.4" y="135.9" width="2.2" height="2.2" fill="#0d7d57" stroke="#1a3a2a" stroke-width="0.4"/>
<rect x="502.1" y="135.9" width="2.2" height="2.2" fill="#0d7d57" stroke="#1a3a2a" stroke-width="0.4"/>
<rect x="507.8" y="137.9" width="2.2" height="2.2" fill="#0d7d57" stroke="#1a3a2a" stroke-width="0.4"/>
<rect x="513.5" y="139.4" width="2.2" height="2.2" fill="#0d7d57" stroke="#1a3a2a" stroke-width="0.4"/>
<rect x="519.2" y="139.9" width="2.2" height="2.2" fill="#0d7d57" stroke="#1a3a2a" stroke-width="0.4"/>
<rect x="524.9" y="130.9" width="2.2" height="2.2" fill="#0d7d57" stroke="#1a3a2a" stroke-width="0.4"/>
<rect x="530.6" y="131.9" width="2.2" height="2.2" fill="#0d7d57" stroke="#1a3a2a" stroke-width="0.4"/>
<rect x="536.3" y="133.6" width="2.2" height="2.2" fill="#0d7d57" stroke="#1a3a2a" stroke-width="0.4"/>
<rect x="542.0" y="132.9" width="2.2" height="2.2" fill="#0d7d57" stroke="#1a3a2a" stroke-width="0.4"/>
<rect x="547.7" y="129.9" width="2.2" height="2.2" fill="#0d7d57" stroke="#1a3a2a" stroke-width="0.4"/>
<rect x="553.4" y="121.4" width="2.2" height="2.2" fill="#0d7d57" stroke="#1a3a2a" stroke-width="0.4"/>
<rect x="559.1" y="103.9" width="2.2" height="2.2" fill="#0d7d57" stroke="#1a3a2a" stroke-width="0.4"/>
<rect x="564.8" y="87.9" width="2.2" height="2.2" fill="#0d7d57" stroke="#1a3a2a" stroke-width="0.4"/>
<rect x="570.5" y="80.4" width="2.2" height="2.2" fill="#0d7d57" stroke="#1a3a2a" stroke-width="0.4"/>
<rect x="576.2" y="84.9" width="2.2" height="2.2" fill="#0d7d57" stroke="#1a3a2a" stroke-width="0.4"/>
<rect x="581.9" y="94.9" width="2.2" height="2.2" fill="#0d7d57" stroke="#1a3a2a" stroke-width="0.4"/>
<rect x="587.6" y="106.4" width="2.2" height="2.2" fill="#0d7d57" stroke="#1a3a2a" stroke-width="0.4"/>
<rect x="593.3" y="115.9" width="2.2" height="2.2" fill="#0d7d57" stroke="#1a3a2a" stroke-width="0.4"/>
<rect x="599.0" y="121.4" width="2.2" height="2.2" fill="#0d7d57" stroke="#1a3a2a" stroke-width="0.4"/>
<rect x="604.7" y="124.9" width="2.2" height="2.2" fill="#0d7d57" stroke="#1a3a2a" stroke-width="0.4"/>
<rect x="610.4" y="127.5" width="2.2" height="2.2" fill="#0d7d57" stroke="#1a3a2a" stroke-width="0.4"/>
<rect x="616.1" y="129.9" width="2.2" height="2.2" fill="#0d7d57" stroke="#1a3a2a" stroke-width="0.4"/>
<rect x="621.8" y="131.4" width="2.2" height="2.2" fill="#0d7d57" stroke="#1a3a2a" stroke-width="0.4"/>
<rect x="627.5" y="132.9" width="2.2" height="2.2" fill="#0d7d57" stroke="#1a3a2a" stroke-width="0.4"/>
<rect x="633.2" y="133.9" width="2.2" height="2.2" fill="#0d7d57" stroke="#1a3a2a" stroke-width="0.4"/>
<rect x="638.9" y="134.4" width="2.2" height="2.2" fill="#0d7d57" stroke="#1a3a2a" stroke-width="0.4"/>
<rect x="643.7" y="134.9" width="2.2" height="2.2" fill="#0d7d57" stroke="#1a3a2a" stroke-width="0.4"/>
<rect x="648.1" y="135.4" width="2.2" height="2.2" fill="#0d7d57" stroke="#1a3a2a" stroke-width="0.4"/>
<rect x="652.5" y="135.9" width="2.2" height="2.2" fill="#0d7d57" stroke="#1a3a2a" stroke-width="0.4"/>
<rect x="656.9" y="135.9" width="2.2" height="2.2" fill="#0d7d57" stroke="#1a3a2a" stroke-width="0.4"/>
<rect x="661.6" y="135.4" width="2.2" height="2.2" fill="#0d7d57" stroke="#1a3a2a" stroke-width="0.4"/>
<polyline points="497.5,136.5 503.2,137.0 508.9,139.5 514.6,141.0 520.3,142.0 526.0,121.0 531.7,126.0 537.4,127.5 543.1,127.5 548.8,128.0 554.5,128.0 560.2,129.0 565.9,132.0 571.6,134.0 577.3,137.0 583.0,139.0 588.7,140.0 594.4,140.5 600.1,141.0 605.8,142.0 611.5,142.5 617.2,142.0 622.9,143.0 628.6,142.5 634.3,143.0 640.0,143.5 644.8,145.5 649.2,146.0 653.6,146.0 658.0,144.0 662.7,146.5" fill="none" stroke="#333" stroke-width="0.7"/>
<line x1="497.5" y1="135.0" x2="497.5" y2="136.5" stroke="#3a3a3a" stroke-width="0.6"/>
<line x1="496.0" y1="135.0" x2="499.0" y2="135.0" stroke="#3a3a3a" stroke-width="0.6"/>
<line x1="503.2" y1="135.5" x2="503.2" y2="137.0" stroke="#3a3a3a" stroke-width="0.6"/>
<line x1="501.7" y1="135.5" x2="504.7" y2="135.5" stroke="#3a3a3a" stroke-width="0.6"/>
<line x1="508.9" y1="138.0" x2="508.9" y2="139.5" stroke="#3a3a3a" stroke-width="0.6"/>
<line x1="507.4" y1="138.0" x2="510.4" y2="138.0" stroke="#3a3a3a" stroke-width="0.6"/>
<line x1="514.6" y1="139.5" x2="514.6" y2="141.0" stroke="#3a3a3a" stroke-width="0.6"/>
<line x1="513.1" y1="139.5" x2="516.1" y2="139.5" stroke="#3a3a3a" stroke-width="0.6"/>
<line x1="520.3" y1="140.5" x2="520.3" y2="142.0" stroke="#3a3a3a" stroke-width="0.6"/>
<line x1="518.8" y1="140.5" x2="521.8" y2="140.5" stroke="#3a3a3a" stroke-width="0.6"/>
<line x1="526.0" y1="116.0" x2="526.0" y2="121.0" stroke="#3a3a3a" stroke-width="0.6"/>
<line x1="524.5" y1="116.0" x2="527.5" y2="116.0" stroke="#3a3a3a" stroke-width="0.6"/>
<line x1="531.7" y1="122.5" x2="531.7" y2="126.0" stroke="#3a3a3a" stroke-width="0.6"/>
<line x1="530.2" y1="122.5" x2="533.2" y2="122.5" stroke="#3a3a3a" stroke-width="0.6"/>
<line x1="537.4" y1="124.0" x2="537.4" y2="127.5" stroke="#3a3a3a" stroke-width="0.6"/>
<line x1="535.9" y1="124.0" x2="538.9" y2="124.0" stroke="#3a3a3a" stroke-width="0.6"/>
<line x1="543.1" y1="124.0" x2="543.1" y2="127.5" stroke="#3a3a3a" stroke-width="0.6"/>
<line x1="541.6" y1="124.0" x2="544.6" y2="124.0" stroke="#3a3a3a" stroke-width="0.6"/>
<line x1="548.8" y1="124.5" x2="548.8" y2="128.0" stroke="#3a3a3a" stroke-width="0.6"/>
<line x1="547.3" y1="124.5" x2="550.3" y2="124.5" stroke="#3a3a3a" stroke-width="0.6"/>
<line x1="554.5" y1="124.5" x2="554.5" y2="128.0" stroke="#3a3a3a" stroke-width="0.6"/>
<line x1="553.0" y1="124.5" x2="556.0" y2="124.5" stroke="#3a3a3a" stroke-width="0.6"/>
<line x1="560.2" y1="126.0" x2="560.2" y2="129.0" stroke="#3a3a3a" stroke-width="0.6"/>
<line x1="558.7" y1="126.0" x2="561.7" y2="126.0" stroke="#3a3a3a" stroke-width="0.6"/>
<line x1="565.9" y1="129.0" x2="565.9" y2="132.0" stroke="#3a3a3a" stroke-width="0.6"/>
<line x1="564.4" y1="129.0" x2="567.4" y2="129.0" stroke="#3a3a3a" stroke-width="0.6"/>
<line x1="571.6" y1="131.0" x2="571.6" y2="134.0" stroke="#3a3a3a" stroke-width="0.6"/>
<line x1="570.1" y1="131.0" x2="573.1" y2="131.0" stroke="#3a3a3a" stroke-width="0.6"/>
<line x1="577.3" y1="134.0" x2="577.3" y2="137.0" stroke="#3a3a3a" stroke-width="0.6"/>
<line x1="575.8" y1="134.0" x2="578.8" y2="134.0" stroke="#3a3a3a" stroke-width="0.6"/>
<line x1="583.0" y1="136.0" x2="583.0" y2="139.0" stroke="#3a3a3a" stroke-width="0.6"/>
<line x1="581.5" y1="136.0" x2="584.5" y2="136.0" stroke="#3a3a3a" stroke-width="0.6"/>
<line x1="588.7" y1="137.0" x2="588.7" y2="140.0" stroke="#3a3a3a" stroke-width="0.6"/>
<line x1="587.2" y1="137.0" x2="590.2" y2="137.0" stroke="#3a3a3a" stroke-width="0.6"/>
<line x1="594.4" y1="137.5" x2="594.4" y2="140.5" stroke="#3a3a3a" stroke-width="0.6"/>
<line x1="592.9" y1="137.5" x2="595.9" y2="137.5" stroke="#3a3a3a" stroke-width="0.6"/>
<line x1="600.1" y1="138.0" x2="600.1" y2="141.0" stroke="#3a3a3a" stroke-width="0.6"/>
<line x1="598.6" y1="138.0" x2="601.6" y2="138.0" stroke="#3a3a3a" stroke-width="0.6"/>
<line x1="605.8" y1="139.0" x2="605.8" y2="142.0" stroke="#3a3a3a" stroke-width="0.6"/>
<line x1="604.3" y1="139.0" x2="607.3" y2="139.0" stroke="#3a3a3a" stroke-width="0.6"/>
<line x1="611.5" y1="139.5" x2="611.5" y2="142.5" stroke="#3a3a3a" stroke-width="0.6"/>
<line x1="610.0" y1="139.5" x2="613.0" y2="139.5" stroke="#3a3a3a" stroke-width="0.6"/>
<line x1="617.2" y1="139.0" x2="617.2" y2="142.0" stroke="#3a3a3a" stroke-width="0.6"/>
<line x1="615.7" y1="139.0" x2="618.7" y2="139.0" stroke="#3a3a3a" stroke-width="0.6"/>
<line x1="622.9" y1="140.0" x2="622.9" y2="143.0" stroke="#3a3a3a" stroke-width="0.6"/>
<line x1="621.4" y1="140.0" x2="624.4" y2="140.0" stroke="#3a3a3a" stroke-width="0.6"/>
<line x1="628.6" y1="139.5" x2="628.6" y2="142.5" stroke="#3a3a3a" stroke-width="0.6"/>
<line x1="627.1" y1="139.5" x2="630.1" y2="139.5" stroke="#3a3a3a" stroke-width="0.6"/>
<line x1="634.3" y1="140.0" x2="634.3" y2="143.0" stroke="#3a3a3a" stroke-width="0.6"/>
<line x1="632.8" y1="140.0" x2="635.8" y2="140.0" stroke="#3a3a3a" stroke-width="0.6"/>
<line x1="640.0" y1="140.5" x2="640.0" y2="143.5" stroke="#3a3a3a" stroke-width="0.6"/>
<line x1="638.5" y1="140.5" x2="641.5" y2="140.5" stroke="#3a3a3a" stroke-width="0.6"/>
<line x1="644.8" y1="142.5" x2="644.8" y2="145.5" stroke="#3a3a3a" stroke-width="0.6"/>
<line x1="643.3" y1="142.5" x2="646.3" y2="142.5" stroke="#3a3a3a" stroke-width="0.6"/>
<line x1="649.2" y1="143.0" x2="649.2" y2="146.0" stroke="#3a3a3a" stroke-width="0.6"/>
<line x1="647.7" y1="143.0" x2="650.7" y2="143.0" stroke="#3a3a3a" stroke-width="0.6"/>
<line x1="653.6" y1="143.0" x2="653.6" y2="146.0" stroke="#3a3a3a" stroke-width="0.6"/>
<line x1="652.1" y1="143.0" x2="655.1" y2="143.0" stroke="#3a3a3a" stroke-width="0.6"/>
<line x1="658.0" y1="141.0" x2="658.0" y2="144.0" stroke="#3a3a3a" stroke-width="0.6"/>
<line x1="656.5" y1="141.0" x2="659.5" y2="141.0" stroke="#3a3a3a" stroke-width="0.6"/>
<line x1="662.7" y1="143.5" x2="662.7" y2="146.5" stroke="#3a3a3a" stroke-width="0.6"/>
<line x1="661.2" y1="143.5" x2="664.2" y2="143.5" stroke="#3a3a3a" stroke-width="0.6"/>
<polygon points="497.5,134.5 495.7,137.8 499.3,137.8" fill="#7fd0ea" stroke="#223a55" stroke-width="0.5"/>
<polygon points="503.2,135.0 501.4,138.3 505.0,138.3" fill="#7fd0ea" stroke="#223a55" stroke-width="0.5"/>
<polygon points="508.9,137.5 507.1,140.8 510.7,140.8" fill="#7fd0ea" stroke="#223a55" stroke-width="0.5"/>
<polygon points="514.6,139.0 512.8,142.3 516.4,142.3" fill="#7fd0ea" stroke="#223a55" stroke-width="0.5"/>
<polygon points="520.3,140.0 518.5,143.3 522.1,143.3" fill="#7fd0ea" stroke="#223a55" stroke-width="0.5"/>
<polygon points="526.0,119.0 524.2,122.3 527.8,122.3" fill="#7fd0ea" stroke="#223a55" stroke-width="0.5"/>
<polygon points="531.7,124.0 529.9,127.3 533.5,127.3" fill="#7fd0ea" stroke="#223a55" stroke-width="0.5"/>
<polygon points="537.4,125.5 535.6,128.8 539.2,128.8" fill="#7fd0ea" stroke="#223a55" stroke-width="0.5"/>
<polygon points="543.1,125.5 541.3,128.8 544.9,128.8" fill="#7fd0ea" stroke="#223a55" stroke-width="0.5"/>
<polygon points="548.8,126.0 547.0,129.3 550.6,129.3" fill="#7fd0ea" stroke="#223a55" stroke-width="0.5"/>
<polygon points="554.5,126.0 552.7,129.3 556.3,129.3" fill="#7fd0ea" stroke="#223a55" stroke-width="0.5"/>
<polygon points="560.2,127.0 558.4,130.3 562.0,130.3" fill="#7fd0ea" stroke="#223a55" stroke-width="0.5"/>
<polygon points="565.9,130.0 564.1,133.3 567.7,133.3" fill="#7fd0ea" stroke="#223a55" stroke-width="0.5"/>
<polygon points="571.6,132.0 569.8,135.3 573.4,135.3" fill="#7fd0ea" stroke="#223a55" stroke-width="0.5"/>
<polygon points="577.3,135.0 575.5,138.3 579.1,138.3" fill="#7fd0ea" stroke="#223a55" stroke-width="0.5"/>
<polygon points="583.0,137.0 581.2,140.3 584.8,140.3" fill="#7fd0ea" stroke="#223a55" stroke-width="0.5"/>
<polygon points="588.7,138.0 586.9,141.3 590.5,141.3" fill="#7fd0ea" stroke="#223a55" stroke-width="0.5"/>
<polygon points="594.4,138.5 592.6,141.8 596.2,141.8" fill="#7fd0ea" stroke="#223a55" stroke-width="0.5"/>
<polygon points="600.1,139.0 598.3,142.3 601.9,142.3" fill="#7fd0ea" stroke="#223a55" stroke-width="0.5"/>
<polygon points="605.8,140.0 604.0,143.3 607.6,143.3" fill="#7fd0ea" stroke="#223a55" stroke-width="0.5"/>
<polygon points="611.5,140.5 609.7,143.8 613.3,143.8" fill="#7fd0ea" stroke="#223a55" stroke-width="0.5"/>
<polygon points="617.2,140.0 615.4,143.3 619.0,143.3" fill="#7fd0ea" stroke="#223a55" stroke-width="0.5"/>
<polygon points="622.9,141.0 621.1,144.3 624.7,144.3" fill="#7fd0ea" stroke="#223a55" stroke-width="0.5"/>
<polygon points="628.6,140.5 626.8,143.8 630.4,143.8" fill="#7fd0ea" stroke="#223a55" stroke-width="0.5"/>
<polygon points="634.3,141.0 632.5,144.3 636.1,144.3" fill="#7fd0ea" stroke="#223a55" stroke-width="0.5"/>
<polygon points="640.0,141.5 638.2,144.8 641.8,144.8" fill="#7fd0ea" stroke="#223a55" stroke-width="0.5"/>
<polygon points="644.8,143.5 643.0,146.8 646.6,146.8" fill="#7fd0ea" stroke="#223a55" stroke-width="0.5"/>
<polygon points="649.2,144.0 647.4,147.3 651.0,147.3" fill="#7fd0ea" stroke="#223a55" stroke-width="0.5"/>
<polygon points="653.6,144.0 651.8,147.3 655.4,147.3" fill="#7fd0ea" stroke="#223a55" stroke-width="0.5"/>
<polygon points="658.0,142.0 656.2,145.3 659.8,145.3" fill="#7fd0ea" stroke="#223a55" stroke-width="0.5"/>
<polygon points="662.7,144.5 660.9,147.8 664.5,147.8" fill="#7fd0ea" stroke="#223a55" stroke-width="0.5"/>
<polyline points="667.0,44.0 671.3,88.0 676.0,110.0" fill="none" stroke="#333" stroke-width="0.7"/>
<line x1="667.0" y1="42.0" x2="667.0" y2="44.0" stroke="#3a3a3a" stroke-width="0.6"/>
<line x1="665.5" y1="42.0" x2="668.5" y2="42.0" stroke="#3a3a3a" stroke-width="0.6"/>
<line x1="671.3" y1="76.0" x2="671.3" y2="88.0" stroke="#3a3a3a" stroke-width="0.6"/>
<line x1="669.8" y1="76.0" x2="672.8" y2="76.0" stroke="#3a3a3a" stroke-width="0.6"/>
<line x1="676.0" y1="100.0" x2="676.0" y2="110.0" stroke="#3a3a3a" stroke-width="0.6"/>
<line x1="674.5" y1="100.0" x2="677.5" y2="100.0" stroke="#3a3a3a" stroke-width="0.6"/>
<circle cx="667.0" cy="44.0" r="1.35" fill="#8fd6b0" stroke="#3a5a4a" stroke-width="0.4"/>
<circle cx="671.3" cy="88.0" r="1.35" fill="#8fd6b0" stroke="#3a5a4a" stroke-width="0.4"/>
<circle cx="676.0" cy="110.0" r="1.35" fill="#8fd6b0" stroke="#3a5a4a" stroke-width="0.4"/>
<polyline points="667.0,43.0 671.3,85.0 676.0,112.0" fill="none" stroke="#333" stroke-width="0.7"/>
<line x1="667.0" y1="41.0" x2="667.0" y2="43.0" stroke="#3a3a3a" stroke-width="0.6"/>
<line x1="665.5" y1="41.0" x2="668.5" y2="41.0" stroke="#3a3a3a" stroke-width="0.6"/>
<line x1="671.3" y1="71.0" x2="671.3" y2="85.0" stroke="#3a3a3a" stroke-width="0.6"/>
<line x1="669.8" y1="71.0" x2="672.8" y2="71.0" stroke="#3a3a3a" stroke-width="0.6"/>
<line x1="676.0" y1="100.0" x2="676.0" y2="112.0" stroke="#3a3a3a" stroke-width="0.6"/>
<line x1="674.5" y1="100.0" x2="677.5" y2="100.0" stroke="#3a3a3a" stroke-width="0.6"/>
<rect x="665.9" y="41.9" width="2.2" height="2.2" fill="#0d7d57" stroke="#1a3a2a" stroke-width="0.4"/>
<rect x="670.2" y="83.9" width="2.2" height="2.2" fill="#0d7d57" stroke="#1a3a2a" stroke-width="0.4"/>
<rect x="674.9" y="110.9" width="2.2" height="2.2" fill="#0d7d57" stroke="#1a3a2a" stroke-width="0.4"/>
<polyline points="667.0,46.0 671.3,112.0 676.0,145.0" fill="none" stroke="#333" stroke-width="0.7"/>
<line x1="667.0" y1="44.0" x2="667.0" y2="46.0" stroke="#3a3a3a" stroke-width="0.6"/>
<line x1="665.5" y1="44.0" x2="668.5" y2="44.0" stroke="#3a3a3a" stroke-width="0.6"/>
<line x1="671.3" y1="102.0" x2="671.3" y2="112.0" stroke="#3a3a3a" stroke-width="0.6"/>
<line x1="669.8" y1="102.0" x2="672.8" y2="102.0" stroke="#3a3a3a" stroke-width="0.6"/>
<line x1="676.0" y1="141.0" x2="676.0" y2="145.0" stroke="#3a3a3a" stroke-width="0.6"/>
<line x1="674.5" y1="141.0" x2="677.5" y2="141.0" stroke="#3a3a3a" stroke-width="0.6"/>
<polygon points="667.0,44.0 665.2,47.3 668.8,47.3" fill="#7fd0ea" stroke="#223a55" stroke-width="0.5"/>
<polygon points="671.3,110.0 669.5,113.3 673.1,113.3" fill="#7fd0ea" stroke="#223a55" stroke-width="0.5"/>
<polygon points="676.0,143.0 674.2,146.3 677.8,146.3" fill="#7fd0ea" stroke="#223a55" stroke-width="0.5"/>
<line x1="508.5" y1="15.4" x2="516.0" y2="15.4" stroke="#444" stroke-width="0.7"/>
<rect x="510.9" y="14.1" width="2.6" height="2.6" fill="#0d7d57" stroke="#1a3a2a" stroke-width="0.4"/>
<text x="522.0" y="18.2" font-size="9.8" stroke="#000" stroke-width="0.22">Control</text>
<line x1="508.5" y1="29.3" x2="516.0" y2="29.3" stroke="#444" stroke-width="0.7"/>
<circle cx="512.2" cy="29.3" r="1.4" fill="#8fd6b0" stroke="#3a5a4a" stroke-width="0.4"/>
<text x="522.0" y="32.4" font-size="9.8" stroke="#000" stroke-width="0.22">Control + DCPIB</text>
<line x1="508.5" y1="42.7" x2="516.0" y2="42.7" stroke="#444" stroke-width="0.7"/>
<polygon points="512.2,40.6 510.2,44.2 514.2,44.2" fill="#7fd0ea" stroke="#223a55" stroke-width="0.5"/>
<text x="526.0" y="46.0" font-size="9.8" stroke="#000" stroke-width="0.22">LRRC8A-KD</text>
</g>
<g id="pd">
<text x="12.0" y="202.8" font-size="16" font-weight="bold">d</text>
<text x="6.3" y="230.0" font-size="9.8" stroke="#000" stroke-width="0.22">100 Na<tspan font-size="5.2" dy="2.2">2</tspan><tspan dy="-2.2">ATP</tspan></text>
<text x="-0.2" y="267.2" font-size="9.8" stroke="#000" stroke-width="0.22">100 Na<tspan font-size="5.2" dy="2.2">2</tspan><tspan dy="-2.2">ATP</tspan></text>
<path d="M65.3,227 L71.7,244.0 A14.8,13.5 0 1 1 65.5,248.2 L51.8,235.8" fill="none" stroke="#000" stroke-width="1"/>
<text x="52.8" y="313.5" font-size="9.8" stroke="#000" stroke-width="0.22">100 ms</text>
<line x1="67.5" y1="316.5" x2="80.4" y2="316.5" stroke="#000" stroke-width="1"/>
<text x="25.8" y="327.5" font-size="9.8" stroke="#000" stroke-width="0.22">500 pA</text>
<line x1="59.6" y1="320.0" x2="59.6" y2="328.4" stroke="#000" stroke-width="1"/>
<text x="141.0" y="222.0" font-size="9.8" text-anchor="end" stroke="#000" stroke-width="0.22">Isotonic</text>
<text x="141.0" y="286.7" font-size="9.8" text-anchor="end" stroke="#000" stroke-width="0.22">Hypotonic</text>
<text x="97.2" y="328.8" font-size="9.8" stroke="#000" stroke-width="0.22">Hypotonic</text>
<text x="97.2" y="341.0" font-size="9.8" stroke="#000" stroke-width="0.22">+ DCPIB</text>
<line x1="158.8" y1="206.0" x2="158.8" y2="236.6" stroke="#9a9a9a" stroke-width="0.6"/>
<line x1="246.4" y1="196.0" x2="246.4" y2="233.0" stroke="#9a9a9a" stroke-width="0.6"/>
<line x1="158.8" y1="272.5" x2="158.8" y2="297.0" stroke="#9a9a9a" stroke-width="0.6"/>
<line x1="246.4" y1="262.0" x2="246.4" y2="295.0" stroke="#9a9a9a" stroke-width="0.6"/>
<line x1="158.8" y1="316.0" x2="158.8" y2="357.5" stroke="#9a9a9a" stroke-width="0.6"/>
<line x1="246.4" y1="312.0" x2="246.4" y2="345.7" stroke="#9a9a9a" stroke-width="0.6"/>
<line x1="143.5" y1="219.0" x2="146.5" y2="219.0" stroke="#222" stroke-width="0.7"/>
<line x1="147.0" y1="219.3" x2="158.8" y2="219.3" stroke="#333" stroke-width="0.7"/>
<line x1="160.8" y1="217.9" x2="246.4" y2="217.9" stroke="#666" stroke-width="0.45"/>
<line x1="160.8" y1="218.5" x2="246.4" y2="218.5" stroke="#666" stroke-width="0.45"/>
<line x1="160.8" y1="219.9" x2="246.4" y2="219.9" stroke="#666" stroke-width="0.45"/>
<line x1="160.8" y1="220.4" x2="246.4" y2="220.4" stroke="#666" stroke-width="0.45"/>
<line x1="161.8" y1="219.1" x2="246.4" y2="219.1" stroke="#222" stroke-width="0.9" stroke-dasharray="3,1"/>
<path d="M158.8,219.3 L159.2,216.3 Q159.7,218.7 163.3,218.9" fill="none" stroke="#222" stroke-width="0.5"/>
<path d="M158.8,219.3 L159.2,219.9 Q159.7,219.9 163.3,219.7" fill="none" stroke="#222" stroke-width="0.5"/>
<path d="M158.8,219.3 L159.2,213.3 Q159.7,218.7 163.3,218.9" fill="none" stroke="#222" stroke-width="0.5"/>
<path d="M158.8,219.3 L159.2,220.6 Q159.7,219.9 163.3,219.7" fill="none" stroke="#222" stroke-width="0.5"/>
<path d="M158.8,219.3 L159.2,210.3 Q159.7,218.7 163.3,218.9" fill="none" stroke="#222" stroke-width="0.5"/>
<path d="M158.8,219.3 L159.2,221.2 Q159.7,219.9 163.3,219.7" fill="none" stroke="#222" stroke-width="0.5"/>
<path d="M158.8,219.3 L159.2,207.3 Q159.7,218.7 163.3,218.9" fill="none" stroke="#222" stroke-width="0.5"/>
<path d="M158.8,219.3 L159.2,221.8 Q159.7,219.9 163.3,219.7" fill="none" stroke="#222" stroke-width="0.5"/>
<path d="M246.4,219.3 L246.8,218.7 Q247.3,218.7 250.9,218.9" fill="none" stroke="#222" stroke-width="0.5"/>
<path d="M246.4,219.3 L246.8,222.3 Q247.3,219.9 250.9,219.7" fill="none" stroke="#222" stroke-width="0.5"/>
<path d="M246.4,219.3 L246.8,218.1 Q247.3,218.7 250.9,218.9" fill="none" stroke="#222" stroke-width="0.5"/>
<path d="M246.4,219.3 L246.8,225.3 Q247.3,219.9 250.9,219.7" fill="none" stroke="#222" stroke-width="0.5"/>
<path d="M246.4,219.3 L246.8,217.4 Q247.3,218.7 250.9,218.9" fill="none" stroke="#222" stroke-width="0.5"/>
<path d="M246.4,219.3 L246.8,228.3 Q247.3,219.9 250.9,219.7" fill="none" stroke="#222" stroke-width="0.5"/>
<path d="M246.4,219.3 L246.8,216.8 Q247.3,218.7 250.9,218.9" fill="none" stroke="#222" stroke-width="0.5"/>
<path d="M246.4,219.3 L246.8,231.3 Q247.3,219.9 250.9,219.7" fill="none" stroke="#222" stroke-width="0.5"/>
<line x1="246.4" y1="219.3" x2="256.9" y2="219.3" stroke="#222" stroke-width="0.9"/>
<line x1="143.5" y1="284.4" x2="146.5" y2="284.4" stroke="#222" stroke-width="0.7"/>
<line x1="148.0" y1="284.4" x2="256.4" y2="284.4" stroke="#222" stroke-width="0.8" stroke-dasharray="2.5,2"/>
<line x1="147.0" y1="287.2" x2="158.8" y2="287.2" stroke="#222" stroke-width="0.9"/>
<path d="M158.8,287.2 L159.2,271.7 Q160.8,274.2 164.8,274.4 H246.4 L246.7,290.2" fill="none" stroke="#444" stroke-width="0.42"/>
<path d="M158.8,287.2 L159.2,273.3 Q160.8,275.8 164.8,276.0 H246.4 L246.7,290.2" fill="none" stroke="#444" stroke-width="0.42"/>
<path d="M158.8,287.2 L159.2,274.8 Q160.8,277.3 164.8,277.5 H246.4 L246.7,290.2" fill="none" stroke="#444" stroke-width="0.42"/>
<path d="M158.8,287.2 L159.2,276.3 Q160.8,278.8 164.8,279.0 H246.4 L246.7,290.2" fill="none" stroke="#444" stroke-width="0.42"/>
<path d="M158.8,287.2 L159.2,277.7 Q160.8,280.2 164.8,280.4 H246.4 L246.7,290.2" fill="none" stroke="#444" stroke-width="0.42"/>
<path d="M158.8,287.2 L159.2,283.3 Q160.8,285.8 164.8,286.0 H246.4 L246.7,290.2" fill="none" stroke="#444" stroke-width="0.42"/>
<path d="M158.8,287.2 L159.2,290.3 Q160.8,288.8 164.8,288.6 H246.4 L246.7,286.2" fill="none" stroke="#444" stroke-width="0.42"/>
<path d="M158.8,287.2 L159.2,293.1 Q160.8,291.6 164.8,291.4 H246.4 L246.7,286.2" fill="none" stroke="#444" stroke-width="0.42"/>
<path d="M158.8,287.2 L159.2,295.9 Q160.8,294.4 164.8,294.2 H246.4 L246.7,286.2" fill="none" stroke="#444" stroke-width="0.42"/>
<path d="M158.8,287.2 L159.2,298.1 Q160.8,296.6 164.8,296.4 H246.4 L246.7,286.2" fill="none" stroke="#444" stroke-width="0.42"/>
<line x1="159.8" y1="281.4" x2="246.4" y2="281.4" stroke="#222" stroke-width="0.8"/>
<line x1="159.8" y1="284.3" x2="246.4" y2="284.3" stroke="#333" stroke-width="0.6"/>
<path d="M246.4,287.2 L246.8,289.2 Q247.3,287.8 250.9,287.6" fill="none" stroke="#222" stroke-width="0.5"/>
<path d="M246.4,287.2 L246.8,291.2 Q247.3,287.8 250.9,287.6" fill="none" stroke="#222" stroke-width="0.5"/>
<path d="M246.4,287.2 L246.8,293.2 Q247.3,287.8 250.9,287.6" fill="none" stroke="#222" stroke-width="0.5"/>
<path d="M246.9,290.2 Q248.4,287.2 256.9,287.2" fill="none" stroke="#111" stroke-width="1.2"/>
<line x1="141.5" y1="333.3" x2="146.0" y2="333.3" stroke="#222" stroke-width="0.7" stroke-dasharray="2.2,1.8"/>
<path d="M147,333.2 H149 V331.3 L149.5,333.4 H158.8" fill="none" stroke="#333" stroke-width="0.7"/>
<line x1="161.3" y1="333.8" x2="246.4" y2="333.8" stroke="#111" stroke-width="3.4"/>
<line x1="159.8" y1="334.0" x2="164.8" y2="334.0" stroke="#333" stroke-width="2.4"/>
<path d="M158.8,333.8 L159.2,330.8 Q159.7,333.2 163.3,333.4" fill="none" stroke="#111" stroke-width="0.5"/>
<path d="M158.8,333.8 L159.2,334.4 Q159.7,334.4 163.3,334.2" fill="none" stroke="#111" stroke-width="0.5"/>
<path d="M158.8,333.8 L159.2,327.8 Q159.7,333.2 163.3,333.4" fill="none" stroke="#111" stroke-width="0.5"/>
<path d="M158.8,333.8 L159.2,335.0 Q159.7,334.4 163.3,334.2" fill="none" stroke="#111" stroke-width="0.5"/>
<path d="M158.8,333.8 L159.2,324.8 Q159.7,333.2 163.3,333.4" fill="none" stroke="#111" stroke-width="0.5"/>
<path d="M158.8,333.8 L159.2,335.6 Q159.7,334.4 163.3,334.2" fill="none" stroke="#111" stroke-width="0.5"/>
<path d="M158.8,333.8 L159.2,321.8 Q159.7,333.2 163.3,333.4" fill="none" stroke="#111" stroke-width="0.5"/>
<path d="M158.8,333.8 L159.2,336.2 Q159.7,334.4 163.3,334.2" fill="none" stroke="#111" stroke-width="0.5"/>
<path d="M158.8,333.8 L159.2,318.8 Q159.7,333.2 163.3,333.4" fill="none" stroke="#111" stroke-width="0.5"/>
<path d="M158.8,333.8 L159.2,336.8 Q159.7,334.4 163.3,334.2" fill="none" stroke="#111" stroke-width="0.5"/>
<path d="M246.4,333.8 L246.8,332.8 Q247.3,333.2 250.9,333.4" fill="none" stroke="#111" stroke-width="0.5"/>
<path d="M246.4,333.8 L246.8,336.1 Q247.3,334.4 250.9,334.2" fill="none" stroke="#111" stroke-width="0.5"/>
<path d="M246.4,333.8 L246.8,331.8 Q247.3,333.2 250.9,333.4" fill="none" stroke="#111" stroke-width="0.5"/>
<path d="M246.4,333.8 L246.8,338.3 Q247.3,334.4 250.9,334.2" fill="none" stroke="#111" stroke-width="0.5"/>
<path d="M246.4,333.8 L246.8,330.8 Q247.3,333.2 250.9,333.4" fill="none" stroke="#111" stroke-width="0.5"/>
<path d="M246.4,333.8 L246.8,340.6 Q247.3,334.4 250.9,334.2" fill="none" stroke="#111" stroke-width="0.5"/>
<path d="M246.4,333.8 L246.8,329.8 Q247.3,333.2 250.9,333.4" fill="none" stroke="#111" stroke-width="0.5"/>
<path d="M246.4,333.8 L246.8,342.8 Q247.3,334.4 250.9,334.2" fill="none" stroke="#111" stroke-width="0.5"/>
<line x1="246.4" y1="333.8" x2="256.9" y2="333.8" stroke="#111" stroke-width="1.1"/>
</g>
<g id="pe">
<text x="265.5" y="202.8" font-size="16" font-weight="bold">e</text>
<rect x="297.2" y="184.4" width="85.8" height="81.0" fill="#fff" stroke="#999" stroke-width="0.8"/>
<line x1="338.0" y1="186.0" x2="338.0" y2="264.0" stroke="#000" stroke-width="1.3"/>
<line x1="301.2" y1="225.3" x2="374.7" y2="225.3" stroke="#000" stroke-width="1.3"/>
<line x1="335.5" y1="195.0" x2="338.0" y2="195.0" stroke="#000" stroke-width="1"/>
<line x1="335.5" y1="256.3" x2="338.0" y2="256.3" stroke="#000" stroke-width="1"/>
<line x1="301.2" y1="225.3" x2="301.2" y2="227.8" stroke="#000" stroke-width="1"/>
<line x1="319.6" y1="225.3" x2="319.6" y2="227.8" stroke="#000" stroke-width="1"/>
<line x1="356.4" y1="225.3" x2="356.4" y2="227.8" stroke="#000" stroke-width="1"/>
<line x1="374.7" y1="225.3" x2="374.7" y2="227.8" stroke="#000" stroke-width="1"/>
<text x="332.5" y="198.4" font-size="10.2" text-anchor="end" stroke="#000" stroke-width="0.22">20</text>
<text x="332.5" y="260.0" font-size="10.2" text-anchor="end" stroke="#000" stroke-width="0.22">-20</text>
<text x="380.0" y="238.8" font-size="10.2" text-anchor="end" stroke="#000" stroke-width="0.22">100</text>
<polyline points="301.2,238.2 308.6,235.5 315.9,232.8 323.3,230.2 330.6,227.7 338.0,225.3 345.4,223.8 352.7,222.3 360.1,220.8 367.4,219.3 374.8,217.8" fill="none" stroke="#333" stroke-width="0.8"/>
<circle cx="301.2" cy="238.2" r="1.7" fill="#98dcb8" stroke="#4a7a62" stroke-width="0.4"/>
<circle cx="308.6" cy="235.5" r="1.7" fill="#98dcb8" stroke="#4a7a62" stroke-width="0.4"/>
<circle cx="315.9" cy="232.8" r="1.7" fill="#98dcb8" stroke="#4a7a62" stroke-width="0.4"/>
<circle cx="323.3" cy="230.2" r="1.7" fill="#98dcb8" stroke="#4a7a62" stroke-width="0.4"/>
<circle cx="330.6" cy="227.7" r="1.7" fill="#98dcb8" stroke="#4a7a62" stroke-width="0.4"/>
<circle cx="338.0" cy="225.3" r="1.7" fill="#98dcb8" stroke="#4a7a62" stroke-width="0.4"/>
<circle cx="345.4" cy="223.8" r="1.7" fill="#98dcb8" stroke="#4a7a62" stroke-width="0.4"/>
<circle cx="352.7" cy="222.3" r="1.7" fill="#98dcb8" stroke="#4a7a62" stroke-width="0.4"/>
<circle cx="360.1" cy="220.8" r="1.7" fill="#98dcb8" stroke="#4a7a62" stroke-width="0.4"/>
<circle cx="367.4" cy="219.3" r="1.7" fill="#98dcb8" stroke="#4a7a62" stroke-width="0.4"/>
<circle cx="374.8" cy="217.8" r="1.7" fill="#98dcb8" stroke="#4a7a62" stroke-width="0.4"/>
<polyline points="301.2,235.3 308.6,233.3 315.9,231.3 323.3,229.3 330.6,227.3 338.0,225.3 345.4,223.7 352.7,222.0 360.1,220.4 367.4,218.8 374.8,217.2" fill="none" stroke="#000" stroke-width="1"/>
<polygon points="301.2,233.1 303.4,235.3 301.2,237.5 299.1,235.3" fill="#000"/>
<polygon points="308.6,231.1 310.8,233.3 308.6,235.5 306.4,233.3" fill="#000"/>
<polygon points="315.9,229.1 318.1,231.3 315.9,233.5 313.8,231.3" fill="#000"/>
<polygon points="323.3,227.1 325.5,229.3 323.3,231.5 321.1,229.3" fill="#000"/>
<polygon points="330.6,225.1 332.8,227.3 330.6,229.5 328.4,227.3" fill="#000"/>
<polygon points="338.0,223.1 340.2,225.3 338.0,227.5 335.8,225.3" fill="#000"/>
<polygon points="345.4,221.5 347.6,223.7 345.4,225.9 343.2,223.7" fill="#000"/>
<polygon points="352.7,219.8 354.9,222.0 352.7,224.2 350.5,222.0" fill="#000"/>
<polygon points="360.1,218.2 362.2,220.4 360.1,222.6 357.9,220.4" fill="#000"/>
<polygon points="367.4,216.6 369.6,218.8 367.4,221.0 365.2,218.8" fill="#000"/>
<polygon points="374.8,215.0 376.9,217.2 374.8,219.4 372.6,217.2" fill="#000"/>
<polyline points="301.2,255.4 308.6,248.4 315.9,241.8 323.3,235.8 330.6,230.0 338.0,225.3 345.4,220.0 352.7,216.0 360.1,212.0 367.4,209.0 374.8,206.8" fill="none" stroke="#000" stroke-width="1"/>
<circle cx="301.2" cy="255.4" r="2" fill="#0a8f5d" stroke="#06603e" stroke-width="0.4"/>
<circle cx="308.6" cy="248.4" r="2" fill="#0a8f5d" stroke="#06603e" stroke-width="0.4"/>
<circle cx="315.9" cy="241.8" r="2" fill="#0a8f5d" stroke="#06603e" stroke-width="0.4"/>
<circle cx="323.3" cy="235.8" r="2" fill="#0a8f5d" stroke="#06603e" stroke-width="0.4"/>
<circle cx="330.6" cy="230.0" r="2" fill="#0a8f5d" stroke="#06603e" stroke-width="0.4"/>
<circle cx="338.0" cy="225.3" r="2" fill="#0a8f5d" stroke="#06603e" stroke-width="0.4"/>
<circle cx="345.4" cy="220.0" r="2" fill="#0a8f5d" stroke="#06603e" stroke-width="0.4"/>
<circle cx="352.7" cy="216.0" r="2" fill="#0a8f5d" stroke="#06603e" stroke-width="0.4"/>
<circle cx="360.1" cy="212.0" r="2" fill="#0a8f5d" stroke="#06603e" stroke-width="0.4"/>
<circle cx="367.4" cy="209.0" r="2" fill="#0a8f5d" stroke="#06603e" stroke-width="0.4"/>
<circle cx="374.8" cy="206.8" r="2" fill="#0a8f5d" stroke="#06603e" stroke-width="0.4"/>
<line x1="301.2" y1="252.6" x2="301.2" y2="258.2" stroke="#222" stroke-width="0.7"/>
<line x1="299.4" y1="252.6" x2="303.1" y2="252.6" stroke="#222" stroke-width="0.7"/>
<line x1="299.4" y1="258.2" x2="303.1" y2="258.2" stroke="#222" stroke-width="0.7"/>
<line x1="374.8" y1="204.0" x2="374.8" y2="209.6" stroke="#222" stroke-width="0.7"/>
<line x1="372.9" y1="204.0" x2="376.6" y2="204.0" stroke="#222" stroke-width="0.7"/>
<line x1="372.9" y1="209.6" x2="376.6" y2="209.6" stroke="#222" stroke-width="0.7"/>
<line x1="301.2" y1="235.4" x2="301.2" y2="241.0" stroke="#222" stroke-width="0.7"/>
<line x1="299.4" y1="235.4" x2="303.1" y2="235.4" stroke="#222" stroke-width="0.7"/>
<line x1="299.4" y1="241.0" x2="303.1" y2="241.0" stroke="#222" stroke-width="0.7"/>
<line x1="271.0" y1="274.7" x2="289.0" y2="274.7" stroke="#000" stroke-width="1"/>
<polygon points="280.0,271.3 283.4,274.7 280.0,278.1 276.6,274.7" fill="#000"/>
<text x="289.8" y="278.4" font-size="10.1" stroke="#000" stroke-width="0.22">Isotonic</text>
<line x1="271.0" y1="289.6" x2="289.0" y2="289.6" stroke="#000" stroke-width="1"/>
<circle cx="280.0" cy="289.6" r="3.2" fill="#0a8f5d" stroke="#06603e" stroke-width="0.5"/>
<text x="289.8" y="293.7" font-size="10.1" stroke="#000" stroke-width="0.22">Hypotonic</text>
<line x1="271.0" y1="311.6" x2="289.0" y2="311.6" stroke="#777" stroke-width="0.8"/>
<circle cx="280.0" cy="311.6" r="3.2" fill="#98dcb8" stroke="#4a9a72" stroke-width="0.5"/>
<text x="289.8" y="309.2" font-size="10.1" stroke="#000" stroke-width="0.22">Hypotonic</text>
<text x="289.8" y="321.8" font-size="10.1" stroke="#000" stroke-width="0.22">+ DCPIB</text>
<text x="388.8" y="198.0" font-size="10" stroke="#000" stroke-width="0.22">Current density (pA/pF)</text>
<line x1="456.7" y1="206.8" x2="456.7" y2="351.0" stroke="#000" stroke-width="1.5"/>
<line x1="451.7" y1="207.2" x2="456.7" y2="207.2" stroke="#000" stroke-width="1.5"/>
<line x1="451.7" y1="231.0" x2="456.7" y2="231.0" stroke="#000" stroke-width="1.5"/>
<line x1="451.7" y1="254.8" x2="456.7" y2="254.8" stroke="#000" stroke-width="1.5"/>
<line x1="451.7" y1="302.4" x2="456.7" y2="302.4" stroke="#000" stroke-width="1.5"/>
<line x1="451.7" y1="326.2" x2="456.7" y2="326.2" stroke="#000" stroke-width="1.5"/>
<line x1="451.7" y1="350.0" x2="456.7" y2="350.0" stroke="#000" stroke-width="1.5"/>
<line x1="368.0" y1="278.6" x2="501.6" y2="278.6" stroke="#000" stroke-width="1.5"/>
<line x1="368.6" y1="278.6" x2="368.6" y2="282.6" stroke="#000" stroke-width="1.5"/>
<line x1="412.8" y1="278.6" x2="412.8" y2="282.6" stroke="#000" stroke-width="1.5"/>
<line x1="501.0" y1="278.6" x2="501.0" y2="282.6" stroke="#000" stroke-width="1.5"/>
<text x="450.0" y="212.0" font-size="9.8" text-anchor="end" stroke="#000" stroke-width="0.22">15</text>
<text x="450.0" y="354.0" font-size="9.8" text-anchor="end" stroke="#000" stroke-width="0.22">-15</text>
<text x="366.0" y="293.7" font-size="9.8" text-anchor="middle" stroke="#000" stroke-width="0.22">-100</text>
<text x="500.0" y="294.2" font-size="9.8" text-anchor="middle" stroke="#000" stroke-width="0.22">50</text>
<text x="488.3" y="315.3" font-size="9.8" text-anchor="middle" stroke="#000" stroke-width="0.22">V (mV)</text>
<clipPath id="ecl"><rect x="360" y="200" width="141.5" height="160"/></clipPath>
<g clip-path="url(#ecl)">
<polyline points="368.8,317.7 386.4,305.0 404.0,296.3 421.5,288.0 439.1,282.3 456.7,277.5 474.3,273.0 491.9,269.0 501.5,266.6" fill="none" stroke="#111" stroke-width="1"/>
<polyline points="368.8,310.7 386.4,302.5 404.0,295.5 421.5,288.5 439.1,282.6 456.7,277.5 474.3,271.0 491.9,266.7 501.5,264.4" fill="none" stroke="#111" stroke-width="1"/>
<polyline points="386.4,350.7 404.0,330.2 421.5,310.9 439.1,292.8 456.7,277.5 474.3,263.3 491.9,250.9 501.5,244.6" fill="none" stroke="#111" stroke-width="1.1"/>
</g>
<line x1="368.8" y1="306.2" x2="368.8" y2="310.7" stroke="#111" stroke-width="0.8"/>
<line x1="366.2" y1="306.2" x2="371.4" y2="306.2" stroke="#111" stroke-width="0.8"/>
<line x1="368.8" y1="317.7" x2="368.8" y2="327.2" stroke="#111" stroke-width="0.8"/>
<line x1="366.2" y1="327.2" x2="371.4" y2="327.2" stroke="#111" stroke-width="0.8"/>
<line x1="368.8" y1="306.2" x2="368.8" y2="306.2" stroke="#111" stroke-width="0.8"/>
<line x1="366.2" y1="306.2" x2="371.4" y2="306.2" stroke="#111" stroke-width="0.8"/>
<line x1="366.2" y1="308.0" x2="371.4" y2="308.0" stroke="#111" stroke-width="0.8"/>
<line x1="386.4" y1="298.5" x2="386.4" y2="302.5" stroke="#111" stroke-width="0.8"/>
<line x1="383.8" y1="298.5" x2="389.0" y2="298.5" stroke="#111" stroke-width="0.8"/>
<line x1="386.4" y1="305.0" x2="386.4" y2="311.0" stroke="#111" stroke-width="0.8"/>
<line x1="383.8" y1="311.0" x2="389.0" y2="311.0" stroke="#111" stroke-width="0.8"/>
<line x1="404.0" y1="292.5" x2="404.0" y2="300.1" stroke="#111" stroke-width="0.8"/>
<line x1="401.4" y1="292.5" x2="406.6" y2="292.5" stroke="#111" stroke-width="0.8"/>
<line x1="401.4" y1="300.1" x2="406.6" y2="300.1" stroke="#111" stroke-width="0.8"/>
<line x1="386.4" y1="342.7" x2="386.4" y2="350.7" stroke="#111" stroke-width="0.8"/>
<line x1="383.8" y1="342.7" x2="389.0" y2="342.7" stroke="#111" stroke-width="0.8"/>
<line x1="404.0" y1="324.2" x2="404.0" y2="336.2" stroke="#111" stroke-width="0.8"/>
<line x1="401.4" y1="324.2" x2="406.6" y2="324.2" stroke="#111" stroke-width="0.8"/>
<line x1="401.4" y1="336.2" x2="406.6" y2="336.2" stroke="#111" stroke-width="0.8"/>
<line x1="421.5" y1="307.3" x2="421.5" y2="314.5" stroke="#111" stroke-width="0.8"/>
<line x1="418.9" y1="307.3" x2="424.1" y2="307.3" stroke="#111" stroke-width="0.8"/>
<line x1="418.9" y1="314.5" x2="424.1" y2="314.5" stroke="#111" stroke-width="0.8"/>
<line x1="491.9" y1="248.3" x2="491.9" y2="253.5" stroke="#111" stroke-width="0.8"/>
<line x1="489.3" y1="248.3" x2="494.5" y2="248.3" stroke="#111" stroke-width="0.8"/>
<line x1="489.3" y1="253.5" x2="494.5" y2="253.5" stroke="#111" stroke-width="0.8"/>
<polygon points="368.8,307.7 371.8,310.7 368.8,313.7 365.8,310.7" fill="#000"/>
<polygon points="386.4,299.5 389.4,302.5 386.4,305.5 383.4,302.5" fill="#000"/>
<polygon points="404.0,292.5 407.0,295.5 404.0,298.5 401.0,295.5" fill="#000"/>
<polygon points="421.5,285.5 424.5,288.5 421.5,291.5 418.5,288.5" fill="#000"/>
<polygon points="439.1,279.6 442.1,282.6 439.1,285.6 436.1,282.6" fill="#000"/>
<polygon points="456.7,274.5 459.7,277.5 456.7,280.5 453.7,277.5" fill="#000"/>
<polygon points="474.3,268.0 477.3,271.0 474.3,274.0 471.3,271.0" fill="#000"/>
<polygon points="491.9,263.7 494.9,266.7 491.9,269.7 488.9,266.7" fill="#000"/>
<circle cx="368.8" cy="317.7" r="2.8" fill="#98dcb8" stroke="#3f7a5c" stroke-width="0.5"/>
<circle cx="386.4" cy="305.0" r="2.8" fill="#98dcb8" stroke="#3f7a5c" stroke-width="0.5"/>
<circle cx="404.0" cy="296.3" r="2.8" fill="#98dcb8" stroke="#3f7a5c" stroke-width="0.5"/>
<circle cx="421.5" cy="288.0" r="2.8" fill="#98dcb8" stroke="#3f7a5c" stroke-width="0.5"/>
<circle cx="439.1" cy="282.3" r="2.8" fill="#98dcb8" stroke="#3f7a5c" stroke-width="0.5"/>
<circle cx="456.7" cy="277.5" r="2.8" fill="#98dcb8" stroke="#3f7a5c" stroke-width="0.5"/>
<circle cx="474.3" cy="273.0" r="2.8" fill="#98dcb8" stroke="#3f7a5c" stroke-width="0.5"/>
<circle cx="491.9" cy="269.0" r="2.8" fill="#98dcb8" stroke="#3f7a5c" stroke-width="0.5"/>
<circle cx="386.4" cy="350.7" r="2.8" fill="#0a8f5d" stroke="#06603e" stroke-width="0.5"/>
<circle cx="404.0" cy="330.2" r="2.8" fill="#0a8f5d" stroke="#06603e" stroke-width="0.5"/>
<circle cx="421.5" cy="310.9" r="2.8" fill="#0a8f5d" stroke="#06603e" stroke-width="0.5"/>
<circle cx="439.1" cy="292.8" r="2.8" fill="#0a8f5d" stroke="#06603e" stroke-width="0.5"/>
<circle cx="456.7" cy="277.5" r="2.8" fill="#0a8f5d" stroke="#06603e" stroke-width="0.5"/>
<circle cx="474.3" cy="263.3" r="2.8" fill="#0a8f5d" stroke="#06603e" stroke-width="0.5"/>
<circle cx="491.9" cy="250.9" r="2.8" fill="#0a8f5d" stroke="#06603e" stroke-width="0.5"/>
<circle cx="456.7" cy="277.5" r="2.8" fill="#98dcb8" stroke="#3f7a5c" stroke-width="0.5"/>
</g>
<g id="pf">
<text x="530.5" y="202.6" font-size="16" font-weight="bold">f</text>
<line x1="576.4" y1="222.3" x2="576.4" y2="349.4" stroke="#000" stroke-width="1.5"/>
<line x1="570.4" y1="223.0" x2="576.4" y2="223.0" stroke="#000" stroke-width="1.5"/>
<line x1="570.4" y1="254.4" x2="576.4" y2="254.4" stroke="#000" stroke-width="1.5"/>
<line x1="570.4" y1="285.9" x2="576.4" y2="285.9" stroke="#000" stroke-width="1.5"/>
<line x1="570.4" y1="317.3" x2="576.4" y2="317.3" stroke="#000" stroke-width="1.5"/>
<line x1="570.4" y1="348.7" x2="576.4" y2="348.7" stroke="#000" stroke-width="1.5"/>
<text x="567.3" y="227.0" font-size="9.8" text-anchor="end" stroke="#000" stroke-width="0.22">0</text>
<text x="567.3" y="289.3" font-size="9.8" text-anchor="end" stroke="#000" stroke-width="0.22">-20</text>
<text x="567.3" y="352.0" font-size="9.8" text-anchor="end" stroke="#000" stroke-width="0.22">-40</text>
<text x="547.8" y="287.0" font-size="9.8" text-anchor="middle" stroke="#000" stroke-width="0.22" transform="rotate(-90 547.8 287.0)">Current at -100 mV (pA/pF)</text>
<text x="590.2" y="218.5" font-size="9.8" text-anchor="middle" stroke="#000" stroke-width="0.22">Iso</text>
<text x="612.0" y="218.5" font-size="9.8" stroke="#000" stroke-width="0.22">Hypo +</text>
<text x="661.8" y="218.5" font-size="9.8" text-anchor="middle" stroke="#000" stroke-width="0.22">DCPIB</text>
<text x="657.2" y="206.0" font-size="9.8" text-anchor="middle" stroke="#000" stroke-width="0.22">Hypo</text>
<rect x="586.6" y="223.0" width="20.4" height="20.8" fill="#231f20" stroke="#000" stroke-width="0.8"/>
<rect x="617.8" y="223.0" width="20.8" height="62.8" fill="#0a9a63" stroke="#000" stroke-width="0.9"/>
<rect x="648.8" y="223.0" width="20.3" height="25.3" fill="#98dfc0" stroke="#000" stroke-width="0.9"/>
<line x1="596.3" y1="243.8" x2="596.3" y2="251.3" stroke="#000" stroke-width="0.8"/>
<line x1="590.3" y1="251.3" x2="602.3" y2="251.3" stroke="#000" stroke-width="0.8"/>
<line x1="627.7" y1="285.8" x2="627.7" y2="301.2" stroke="#000" stroke-width="0.8"/>
<line x1="622.3" y1="301.2" x2="633.1" y2="301.2" stroke="#000" stroke-width="0.8"/>
<line x1="659.0" y1="248.3" x2="659.0" y2="264.4" stroke="#000" stroke-width="0.8"/>
<line x1="653.6" y1="264.4" x2="664.4" y2="264.4" stroke="#000" stroke-width="0.8"/>
<polyline points="596.3,237.7 627.7,287.6 659.0,237.0" fill="none" stroke="#111" stroke-width="0.5"/>
<polyline points="596.3,240.5 627.7,297.8 659.0,239.5" fill="none" stroke="#111" stroke-width="0.5"/>
<polyline points="596.3,240.6 627.7,308.5 659.0,278.6" fill="none" stroke="#111" stroke-width="0.5"/>
<polyline points="596.3,249.5 627.7,266.4 659.0,242.5" fill="none" stroke="#111" stroke-width="0.5"/>
<polyline points="596.3,256.0 627.7,278.6 659.0,254.2" fill="none" stroke="#111" stroke-width="0.5"/>
<polyline points="596.3,238.5 627.7,275.7 659.0,241.0" fill="none" stroke="#111" stroke-width="0.5"/>
<circle cx="596.3" cy="237.7" r="1.9" fill="#000"/>
<circle cx="627.7" cy="287.6" r="1.9" fill="#000"/>
<circle cx="659.0" cy="237.0" r="1.9" fill="#000"/>
<circle cx="596.3" cy="240.5" r="1.9" fill="#000"/>
<circle cx="627.7" cy="297.8" r="1.9" fill="#000"/>
<circle cx="659.0" cy="239.5" r="1.9" fill="#000"/>
<circle cx="596.3" cy="240.6" r="1.9" fill="#000"/>
<circle cx="627.7" cy="308.5" r="1.9" fill="#000"/>
<circle cx="659.0" cy="278.6" r="1.9" fill="#000"/>
<circle cx="596.3" cy="249.5" r="1.9" fill="#000"/>
<circle cx="627.7" cy="266.4" r="1.9" fill="#000"/>
<circle cx="659.0" cy="242.5" r="1.9" fill="#000"/>
<circle cx="596.3" cy="256.0" r="1.9" fill="#000"/>
<circle cx="627.7" cy="278.6" r="1.9" fill="#000"/>
<circle cx="659.0" cy="254.2" r="1.9" fill="#000"/>
<circle cx="596.3" cy="238.5" r="1.9" fill="#000"/>
<circle cx="627.7" cy="275.7" r="1.9" fill="#000"/>
<circle cx="659.0" cy="241.0" r="1.9" fill="#000"/>
<path d="M597.2,311.4 V316.4 H627.7 V311.4" fill="none" stroke="#8a8a8a" stroke-width="0.7"/>
<path d="M630.7,311.4 V316.4 H659.4 V311.4" fill="none" stroke="#8a8a8a" stroke-width="0.7"/>
<path d="M597.2,335 V340 H659.4 V335" fill="none" stroke="#8a8a8a" stroke-width="0.7"/>
<text x="610.8" y="326.0" font-size="7.4" text-anchor="middle" font-style="italic" fill="#111" stroke="#111" stroke-width="0.11" letter-spacing="0.1">p = 0,0002</text>
<text x="650.2" y="326.0" font-size="7.4" text-anchor="middle" font-style="italic" fill="#111" stroke="#111" stroke-width="0.11" letter-spacing="0.1">p = 0,0007</text>
<text x="626.4" y="350.3" font-size="7.4" text-anchor="middle" font-style="italic" fill="#111" stroke="#111" stroke-width="0.11" letter-spacing="0.1">p = 0,8093</text>
</g>
<g id="pg">
<defs><filter id="bl" x="-50%" y="-50%" width="200%" height="200%"><feGaussianBlur stdDeviation="0.9"/></filter><filter id="gtex" x="-50%" y="-50%" width="200%" height="200%"><feGaussianBlur stdDeviation="0.9" result="b"/><feTurbulence type="fractalNoise" baseFrequency="0.28" numOctaves="2" seed="4" result="n"/><feColorMatrix in="n" type="matrix" values="1.1 1.1 0 0 -0.35  1.1 1.1 0 0 -0.35  1.1 1.1 0 0 -0.35  0 0 0 0 1" result="n2"/><feComposite in="b" in2="n2" operator="arithmetic" k1="1.15" k2="0.2" k3="0" k4="0"/></filter><filter id="bl2" x="-50%" y="-50%" width="200%" height="200%"><feGaussianBlur stdDeviation="1.8"/></filter></defs>
<text x="12.0" y="367.5" font-size="16" font-weight="bold">g</text>
<line x1="27.5" y1="388.2" x2="211.0" y2="388.2" stroke="#000" stroke-width="1"/>
<rect x="31.0" y="376.8" width="11.0" height="23.5" fill="#6f3a9e" stroke="#000" stroke-width="1"/>
<text x="39.3" y="388.5" font-size="7.3" text-anchor="middle" fill="#fff" transform="rotate(-90 39.3 388.5)">LTR</text>
<rect x="196.4" y="376.8" width="11.0" height="23.5" fill="#6f3a9e" stroke="#000" stroke-width="1"/>
<text x="204.7" y="388.5" font-size="7.3" text-anchor="middle" fill="#fff" transform="rotate(-90 204.7 388.5)">LTR</text>
<rect x="43.0" y="381.9" width="29.2" height="12.7" fill="#231f20"/>
<text x="57.6" y="391.0" font-size="7.6" text-anchor="middle" fill="#fff">EF1α</text>
<path d="M72.6,382 V374.5 H82" fill="none" stroke="#000" stroke-width="1"/>
<polygon points="80.5,371.7 85,374.5 80.5,377.3" fill="#000"/>
<rect x="76.6" y="381.9" width="26.8" height="12.7" fill="#39b54a"/>
<text x="90.0" y="391.0" font-size="7.6" text-anchor="middle">PNG6</text>
<rect x="104.0" y="381.9" width="19.6" height="12.7" fill="#c9c9c9"/>
<text x="113.8" y="391.0" font-size="7.6" text-anchor="middle">P2A</text>
<rect x="125.0" y="381.9" width="39.5" height="12.7" fill="#ed1c24"/>
<text x="144.8" y="391.0" font-size="7.6" text-anchor="middle" fill="#4a0508">mScarlet</text>
<rect x="166.2" y="381.9" width="29.2" height="12.7" fill="#231f20"/>
<text x="180.8" y="391.0" font-size="7.6" text-anchor="middle" fill="#fff">WPRE</text>
<text x="186.0" y="416.0" font-size="9.8" text-anchor="middle" fill="#39b54a" stroke="#39b54a" stroke-width="0.11">PNG6</text>
<text x="186.5" y="428.3" font-size="9.8" text-anchor="middle" fill="#39b54a" stroke="#39b54a" stroke-width="0.11">(ATP release)</text>
<text x="186.0" y="471.7" font-size="9.8" text-anchor="middle" fill="#ed1c24" stroke="#ed1c24" stroke-width="0.11">mScarlet</text>
<text x="188.3" y="484.0" font-size="9.8" text-anchor="middle" fill="#ed1c24" stroke="#ed1c24" stroke-width="0.11">(cell surface)</text>
<text x="480.5" y="376.0" font-size="9.8" text-anchor="middle" stroke="#000" stroke-width="0.22">Hypotonic</text>
<line x1="303.0" y1="378.2" x2="669.0" y2="378.2" stroke="#555" stroke-width="0.9"/>
<text x="251.0" y="387.6" font-size="9.8" text-anchor="middle" stroke="#000" stroke-width="0.22">Isotonic</text>
<text x="328.0" y="387.6" font-size="9.8" text-anchor="middle" stroke="#000" stroke-width="0.22">6 min</text>
<text x="405.0" y="387.6" font-size="9.8" text-anchor="middle" stroke="#000" stroke-width="0.22">8 min</text>
<text x="484.4" y="387.6" font-size="9.8" text-anchor="middle" stroke="#000" stroke-width="0.22">15 min</text>
<text x="556.5" y="387.6" font-size="9.8" text-anchor="middle" stroke="#000" stroke-width="0.22">17 min</text>
<text x="635.5" y="387.6" font-size="9.8" text-anchor="middle" stroke="#000" stroke-width="0.22">20 min</text>
<clipPath id="cg0"><rect x="220.3" y="390.8" width="74.5" height="55.2"/></clipPath>
<rect x="220.3" y="390.8" width="74.5" height="55.2" fill="#000"/>
<g clip-path="url(#cg0)"><g filter="url(#gtex)">
<circle cx="272.9" cy="396.2" r="3.96" fill="#116f11" opacity="0.83"/>
<circle cx="234.3" cy="408.6" r="3.52" fill="#0b480b" opacity="0.70"/>
<circle cx="252.3" cy="407.3" r="4.84" fill="#0f5f0f" opacity="0.78"/>
<circle cx="272.3" cy="419.5" r="4.4" fill="#093c09" opacity="0.66"/>
<circle cx="248.3" cy="428.2" r="5.28" fill="#106710" opacity="0.80"/>
<circle cx="265.8" cy="427.8" r="4.5760000000000005" fill="#0f5f0f" opacity="0.78"/>
<circle cx="281.5" cy="424.8" r="3.96" fill="#0c500c" opacity="0.73"/>
<circle cx="234.3" cy="431.8" r="4.4" fill="#0f5f0f" opacity="0.78"/>
<circle cx="225.0" cy="434.8" r="4.4" fill="#0e5b0e" opacity="0.76"/>
<circle cx="278.3" cy="435.8" r="4.136" fill="#137713" opacity="0.85"/>
<circle cx="292.3" cy="437.5" r="3.52" fill="#0e580e" opacity="0.75"/>
<circle cx="256.3" cy="430.8" r="3.96" fill="#093909" opacity="0.65"/>
</g></g>
<clipPath id="cr0"><rect x="220.3" y="449" width="74.5" height="55.2"/></clipPath>
<rect x="220.3" y="449.0" width="74.5" height="55.2" fill="#000"/>
<g clip-path="url(#cr0)"><g filter="url(#bl2)">
<circle cx="272.9" cy="476.6" r="7.5" fill="#670000"/>
<circle cx="284.3" cy="482.0" r="6.5" fill="#5b0000"/>
<circle cx="225.0" cy="490.6" r="6.5" fill="#500000"/>
<circle cx="290.3" cy="493.0" r="6" fill="#500000"/>
<circle cx="293.3" cy="469.0" r="4.5" fill="#440000"/>
</g><g filter="url(#bl)">
<circle cx="272.9" cy="454.2" r="6" fill="#f50806"/>
<circle cx="235.6" cy="465.5" r="4.6" fill="#f50806"/>
<circle cx="252.8" cy="465.0" r="7" fill="#f50806"/>
<circle cx="235.3" cy="489.9" r="5.3" fill="#e80806"/>
<circle cx="248.8" cy="487.0" r="7" fill="#f50806"/>
<circle cx="264.6" cy="484.7" r="6.3" fill="#f50806"/>
<circle cx="278.9" cy="494.0" r="4.6" fill="#f50806"/>
<circle cx="256.3" cy="493.0" r="5" fill="#c40806"/>
</g></g>
<circle cx="235.6" cy="465.5" r="5.8" fill="none" stroke="#ffe81a" stroke-width="1.1"/>
<circle cx="278.9" cy="494.0" r="5.8" fill="none" stroke="#3db8ec" stroke-width="1.1"/>
<clipPath id="cg1"><rect x="297" y="390.8" width="74.5" height="55.2"/></clipPath>
<rect x="297.0" y="390.8" width="74.5" height="55.2" fill="#000"/>
<g clip-path="url(#cg1)"><g filter="url(#gtex)">
<circle cx="349.6" cy="396.2" r="3.96" fill="#0a400a" opacity="0.68"/>
<circle cx="311.0" cy="408.6" r="3.52" fill="#062906" opacity="0.60"/>
<circle cx="329.0" cy="407.3" r="4.84" fill="#0d540d" opacity="0.74"/>
<circle cx="349.0" cy="419.5" r="4.4" fill="#062906" opacity="0.60"/>
<circle cx="325.0" cy="428.2" r="5.28" fill="#0a400a" opacity="0.68"/>
<circle cx="342.5" cy="427.8" r="4.5760000000000005" fill="#093c09" opacity="0.66"/>
<circle cx="358.2" cy="424.8" r="3.96" fill="#072c07" opacity="0.61"/>
<circle cx="311.0" cy="431.8" r="4.4" fill="#0a400a" opacity="0.68"/>
<circle cx="301.7" cy="434.8" r="4.4" fill="#062906" opacity="0.60"/>
<circle cx="355.0" cy="435.8" r="4.136" fill="#0b480b" opacity="0.70"/>
<circle cx="369.0" cy="437.5" r="3.52" fill="#073107" opacity="0.62"/>
<circle cx="333.0" cy="430.8" r="3.96" fill="#093c09" opacity="0.66"/>
</g></g>
<clipPath id="cr1"><rect x="297" y="449" width="74.5" height="55.2"/></clipPath>
<rect x="297.0" y="449.0" width="74.5" height="55.2" fill="#000"/>
<g clip-path="url(#cr1)"><g filter="url(#bl2)">
<circle cx="349.6" cy="476.6" r="7.5" fill="#670000"/>
<circle cx="361.0" cy="482.0" r="6.5" fill="#5b0000"/>
<circle cx="301.7" cy="490.6" r="6.5" fill="#500000"/>
<circle cx="367.0" cy="493.0" r="6" fill="#500000"/>
<circle cx="370.0" cy="469.0" r="4.5" fill="#440000"/>
</g><g filter="url(#bl)">
<circle cx="349.6" cy="454.2" r="6.6" fill="#f50806"/>
<circle cx="312.3" cy="465.5" r="5.199999999999999" fill="#f50806"/>
<circle cx="329.5" cy="465.0" r="7.6" fill="#f50806"/>
<circle cx="312.0" cy="489.9" r="5.8999999999999995" fill="#e80806"/>
<circle cx="325.5" cy="487.0" r="7.6" fill="#f50806"/>
<circle cx="341.3" cy="484.7" r="6.8999999999999995" fill="#f50806"/>
<circle cx="355.6" cy="494.0" r="5.199999999999999" fill="#f50806"/>
<circle cx="333.0" cy="493.0" r="5.6" fill="#c40806"/>
</g></g>
<circle cx="312.3" cy="465.5" r="5.8" fill="none" stroke="#ffe81a" stroke-width="1.1"/>
<circle cx="355.6" cy="494.0" r="5.8" fill="none" stroke="#3db8ec" stroke-width="1.1"/>
<clipPath id="cg2"><rect x="373.8" y="390.8" width="74.5" height="55.2"/></clipPath>
<rect x="373.8" y="390.8" width="74.5" height="55.2" fill="#000"/>
<g clip-path="url(#cg2)"><g filter="url(#gtex)">
<circle cx="426.4" cy="396.2" r="3.96" fill="#072c07" opacity="0.61"/>
<circle cx="387.8" cy="408.6" r="3.52" fill="#073007" opacity="0.62"/>
<circle cx="405.8" cy="407.3" r="4.84" fill="#0b460b" opacity="0.69"/>
<circle cx="425.8" cy="419.5" r="4.4" fill="#062606" opacity="0.59"/>
<circle cx="401.8" cy="428.2" r="5.28" fill="#0a3f0a" opacity="0.67"/>
<circle cx="419.3" cy="427.8" r="4.5760000000000005" fill="#093c09" opacity="0.66"/>
<circle cx="435.0" cy="424.8" r="3.96" fill="#062606" opacity="0.59"/>
<circle cx="387.8" cy="431.8" r="4.4" fill="#0a420a" opacity="0.68"/>
<circle cx="378.5" cy="434.8" r="4.4" fill="#062606" opacity="0.59"/>
<circle cx="431.8" cy="435.8" r="5.6" fill="#22f53a" opacity="1.00"/>
<circle cx="445.8" cy="437.5" r="3.52" fill="#062806" opacity="0.60"/>
<circle cx="409.8" cy="430.8" r="3.96" fill="#0a3f0a" opacity="0.67"/>
</g></g>
<clipPath id="cr2"><rect x="373.8" y="449" width="74.5" height="55.2"/></clipPath>
<rect x="373.8" y="449.0" width="74.5" height="55.2" fill="#000"/>
<g clip-path="url(#cr2)"><g filter="url(#bl2)">
<circle cx="426.4" cy="476.6" r="7.5" fill="#670000"/>
<circle cx="437.8" cy="482.0" r="6.5" fill="#5b0000"/>
<circle cx="378.5" cy="490.6" r="6.5" fill="#500000"/>
<circle cx="443.8" cy="493.0" r="6" fill="#500000"/>
<circle cx="446.8" cy="469.0" r="4.5" fill="#440000"/>
</g><g filter="url(#bl)">
<circle cx="426.4" cy="454.2" r="6.6" fill="#f50806"/>
<circle cx="389.1" cy="465.5" r="5.199999999999999" fill="#f50806"/>
<circle cx="406.3" cy="465.0" r="7.6" fill="#f50806"/>
<circle cx="388.8" cy="489.9" r="5.8999999999999995" fill="#e80806"/>
<circle cx="402.3" cy="487.0" r="7.6" fill="#f50806"/>
<circle cx="418.1" cy="484.7" r="6.8999999999999995" fill="#f50806"/>
<circle cx="432.4" cy="494.0" r="5.199999999999999" fill="#f50806"/>
<circle cx="409.8" cy="493.0" r="5.6" fill="#c40806"/>
</g></g>
<circle cx="389.1" cy="465.5" r="5.8" fill="none" stroke="#ffe81a" stroke-width="1.1"/>
<circle cx="432.4" cy="494.0" r="5.8" fill="none" stroke="#3db8ec" stroke-width="1.1"/>
<clipPath id="cg3"><rect x="450.5" y="390.8" width="74.5" height="55.2"/></clipPath>
<rect x="450.5" y="390.8" width="74.5" height="55.2" fill="#000"/>
<g clip-path="url(#cg3)"><g filter="url(#gtex)">
<circle cx="503.1" cy="396.2" r="3.96" fill="#073007" opacity="0.62"/>
<circle cx="464.5" cy="408.6" r="3.52" fill="#052105" opacity="0.57"/>
<circle cx="482.5" cy="407.3" r="4.84" fill="#062606" opacity="0.59"/>
<circle cx="502.5" cy="419.5" r="4.4" fill="#052105" opacity="0.57"/>
<circle cx="478.5" cy="428.2" r="5.28" fill="#0a3f0a" opacity="0.67"/>
<circle cx="496.0" cy="427.8" r="4.5760000000000005" fill="#106610" opacity="0.80"/>
<circle cx="511.7" cy="424.8" r="3.96" fill="#052105" opacity="0.57"/>
<circle cx="464.5" cy="431.8" r="4.4" fill="#093909" opacity="0.65"/>
<circle cx="455.2" cy="434.8" r="4.4" fill="#052005" opacity="0.57"/>
<circle cx="508.5" cy="435.8" r="4.136" fill="#0e580e" opacity="0.75"/>
<circle cx="522.5" cy="437.5" r="3.52" fill="#052305" opacity="0.58"/>
<circle cx="486.5" cy="430.8" r="3.96" fill="#062606" opacity="0.59"/>
</g></g>
<clipPath id="cr3"><rect x="450.5" y="449" width="74.5" height="55.2"/></clipPath>
<rect x="450.5" y="449.0" width="74.5" height="55.2" fill="#000"/>
<g clip-path="url(#cr3)"><g filter="url(#bl2)">
<circle cx="503.1" cy="476.6" r="7.5" fill="#670000"/>
<circle cx="514.5" cy="482.0" r="6.5" fill="#5b0000"/>
<circle cx="455.2" cy="490.6" r="6.5" fill="#500000"/>
<circle cx="520.5" cy="493.0" r="6" fill="#500000"/>
<circle cx="523.5" cy="469.0" r="4.5" fill="#440000"/>
</g><g filter="url(#bl)">
<circle cx="503.1" cy="454.2" r="6" fill="#f50806"/>
<circle cx="465.8" cy="465.5" r="4.6" fill="#f50806"/>
<circle cx="483.0" cy="465.0" r="7" fill="#f50806"/>
<circle cx="465.5" cy="489.9" r="5.3" fill="#e80806"/>
<circle cx="479.0" cy="487.0" r="7" fill="#f50806"/>
<circle cx="494.8" cy="484.7" r="6.3" fill="#f50806"/>
<circle cx="509.1" cy="494.0" r="4.0" fill="#f50806"/>
<circle cx="486.5" cy="493.0" r="5" fill="#c40806"/>
</g></g>
<circle cx="465.8" cy="465.5" r="5.8" fill="none" stroke="#ffe81a" stroke-width="1.1"/>
<circle cx="509.1" cy="494.0" r="6" fill="none" stroke="#35b3e8" stroke-width="1.1" stroke-dasharray="1.3,2.1"/>
<clipPath id="cg4"><rect x="527.1" y="390.8" width="74.5" height="55.2"/></clipPath>
<rect x="527.1" y="390.8" width="74.5" height="55.2" fill="#000"/>
<g clip-path="url(#cg4)"><g filter="url(#gtex)">
<circle cx="579.7" cy="396.2" r="3.96" fill="#062806" opacity="0.60"/>
<circle cx="541.1" cy="408.6" r="5.6" fill="#22f53a" opacity="1.00"/>
<circle cx="559.1" cy="407.3" r="4.84" fill="#052005" opacity="0.57"/>
<circle cx="579.1" cy="419.5" r="4.4" fill="#052005" opacity="0.57"/>
<circle cx="555.1" cy="428.2" r="5.28" fill="#062606" opacity="0.59"/>
<circle cx="572.6" cy="427.8" r="4.5760000000000005" fill="#0a420a" opacity="0.68"/>
<circle cx="588.3" cy="424.8" r="3.96" fill="#052005" opacity="0.57"/>
<circle cx="541.1" cy="431.8" r="4.4" fill="#062806" opacity="0.60"/>
<circle cx="585.1" cy="435.8" r="4.136" fill="#0c4e0c" opacity="0.72"/>
<circle cx="599.1" cy="437.5" r="3.52" fill="#052005" opacity="0.57"/>
<circle cx="563.1" cy="430.8" r="3.96" fill="#052005" opacity="0.57"/>
</g></g>
<clipPath id="cr4"><rect x="527.1" y="449" width="74.5" height="55.2"/></clipPath>
<rect x="527.1" y="449.0" width="74.5" height="55.2" fill="#000"/>
<g clip-path="url(#cr4)"><g filter="url(#bl2)">
<circle cx="579.7" cy="476.6" r="7.5" fill="#670000"/>
<circle cx="591.1" cy="482.0" r="6.5" fill="#5b0000"/>
<circle cx="531.8" cy="490.6" r="6.5" fill="#500000"/>
<circle cx="597.1" cy="493.0" r="6" fill="#500000"/>
<circle cx="600.1" cy="469.0" r="4.5" fill="#440000"/>
</g><g filter="url(#bl)">
<circle cx="579.7" cy="454.2" r="6" fill="#f50806"/>
<circle cx="542.4" cy="465.5" r="4.6" fill="#f50806"/>
<circle cx="559.6" cy="465.0" r="7" fill="#f50806"/>
<circle cx="542.1" cy="489.9" r="5.3" fill="#e80806"/>
<circle cx="555.6" cy="487.0" r="7" fill="#f50806"/>
<circle cx="571.4" cy="484.7" r="6.3" fill="#f50806"/>
<circle cx="585.7" cy="494.0" r="4.0" fill="#f50806"/>
<circle cx="563.1" cy="493.0" r="5" fill="#c40806"/>
</g></g>
<circle cx="542.4" cy="465.5" r="5.8" fill="none" stroke="#ffe81a" stroke-width="1.1"/>
<circle cx="585.7" cy="494.0" r="6" fill="none" stroke="#35b3e8" stroke-width="1.1" stroke-dasharray="1.3,2.1"/>
<clipPath id="cg5"><rect x="603.4" y="390.8" width="74.5" height="55.2"/></clipPath>
<rect x="603.4" y="390.8" width="74.5" height="55.2" fill="#000"/>
<g clip-path="url(#cg5)"><g filter="url(#gtex)">
<circle cx="656.0" cy="396.2" r="3.96" fill="#062806" opacity="0.60"/>
<circle cx="635.4" cy="407.3" r="4.84" fill="#052005" opacity="0.57"/>
<circle cx="655.4" cy="419.5" r="4.4" fill="#052005" opacity="0.57"/>
<circle cx="631.4" cy="428.2" r="5.28" fill="#0c4b0c" opacity="0.71"/>
<circle cx="648.9" cy="427.8" r="4.5760000000000005" fill="#083508" opacity="0.64"/>
<circle cx="617.4" cy="431.8" r="4.4" fill="#052105" opacity="0.57"/>
<circle cx="661.4" cy="435.8" r="4.136" fill="#0e580e" opacity="0.75"/>
<circle cx="675.4" cy="437.5" r="3.52" fill="#052005" opacity="0.57"/>
<circle cx="639.4" cy="430.8" r="3.96" fill="#052005" opacity="0.57"/>
</g></g>
<clipPath id="cr5"><rect x="603.4" y="449" width="74.5" height="55.2"/></clipPath>
<rect x="603.4" y="449.0" width="74.5" height="55.2" fill="#000"/>
<g clip-path="url(#cr5)"><g filter="url(#bl2)">
<circle cx="656.0" cy="476.6" r="7.5" fill="#670000"/>
<circle cx="667.4" cy="482.0" r="6.5" fill="#5b0000"/>
<circle cx="608.1" cy="490.6" r="6.5" fill="#500000"/>
<circle cx="673.4" cy="493.0" r="6" fill="#500000"/>
<circle cx="676.4" cy="469.0" r="4.5" fill="#440000"/>
</g><g filter="url(#bl)">
<circle cx="656.0" cy="454.2" r="6" fill="#f50806"/>
<circle cx="618.7" cy="465.5" r="4.2" fill="#f50806"/>
<circle cx="635.9" cy="465.0" r="7" fill="#f50806"/>
<circle cx="618.4" cy="489.9" r="5.3" fill="#e80806"/>
<circle cx="631.9" cy="487.0" r="7" fill="#f50806"/>
<circle cx="647.7" cy="484.7" r="6.3" fill="#f50806"/>
<circle cx="662.0" cy="494.0" r="4.0" fill="#f50806"/>
<circle cx="639.4" cy="493.0" r="5" fill="#c40806"/>
</g></g>
<circle cx="618.7" cy="465.5" r="6" fill="none" stroke="#ffe01a" stroke-width="1.1" stroke-dasharray="1.6,1.9"/>
<circle cx="662.0" cy="494.0" r="6" fill="none" stroke="#35b3e8" stroke-width="1.1" stroke-dasharray="1.3,2.1"/>
<line x1="435.9" y1="418.4" x2="434.2" y2="424.1" stroke="#35b3e8" stroke-width="0.9"/>
<polygon points="433.0,427.9 432.3,423.5 436.1,424.7" fill="#35b3e8"/>
<line x1="435.4" y1="476.3" x2="434.0" y2="481.8" stroke="#35b3e8" stroke-width="0.9"/>
<polygon points="433.0,485.7 432.1,481.3 435.9,482.3" fill="#35b3e8"/>
<line x1="513.0" y1="418.4" x2="511.3" y2="424.5" stroke="#35b3e8" stroke-width="0.9"/>
<polygon points="510.2,428.4 509.4,424.0 513.2,425.1" fill="#35b3e8"/>
<line x1="513.0" y1="476.3" x2="511.5" y2="481.8" stroke="#35b3e8" stroke-width="0.9"/>
<polygon points="510.4,485.7 509.5,481.3 513.4,482.4" fill="#35b3e8"/>
<line x1="532.5" y1="393.0" x2="535.8" y2="398.3" stroke="#ffe01a" stroke-width="0.9"/>
<polygon points="537.9,401.7 534.1,399.4 537.5,397.2" fill="#ffe01a"/>
<line x1="532.5" y1="451.0" x2="535.8" y2="456.1" stroke="#ffe01a" stroke-width="0.9"/>
<polygon points="537.9,459.5 534.1,457.2 537.4,455.1" fill="#ffe01a"/>
<line x1="607.3" y1="393.0" x2="610.8" y2="398.4" stroke="#ffe01a" stroke-width="0.9"/>
<polygon points="613.0,401.7 609.1,399.5 612.5,397.3" fill="#ffe01a"/>
<line x1="607.3" y1="451.0" x2="610.8" y2="456.2" stroke="#ffe01a" stroke-width="0.9"/>
<polygon points="613.0,459.5 609.1,457.3 612.4,455.1" fill="#ffe01a"/>
<rect x="607.3" y="498.7" width="21.7" height="2.0" fill="#fff"/>
</g>
<g id="ph">
<text x="12.5" y="543.5" font-size="16" font-weight="bold">h</text>
<text x="157.3" y="535.0" font-size="10.1" text-anchor="middle" font-weight="bold">Control</text>
<text x="343.8" y="535.0" font-size="10.1" text-anchor="middle" font-weight="bold">LRRC8A-KD</text>
<text x="203.2" y="527.4" font-size="9.8" fill="#c9a13c" stroke="#c9a13c" stroke-width="0.11">10 µM ATP</text>
<rect x="234.2" y="531.8" width="14.2" height="5.8" fill="#f2b93f"/>
<rect x="401.0" y="531.8" width="14.0" height="5.8" fill="#f2b93f"/>
<rect x="108.1" y="538.9" width="140.3" height="138.1" fill="#e6e7e8"/>
<rect x="275.5" y="538.9" width="139.2" height="138.1" fill="#e6e7e8"/>
<text x="109.7" y="550.0" font-size="10.4" stroke="#000" stroke-width="0.22">Hypotonic</text>
<line x1="85.8" y1="546.0" x2="85.8" y2="604.5" stroke="#000" stroke-width="1.4"/>
<line x1="83.0" y1="546.5" x2="85.8" y2="546.5" stroke="#000" stroke-width="1.1"/>
<line x1="83.0" y1="604.0" x2="85.8" y2="604.0" stroke="#000" stroke-width="1.1"/>
<line x1="83.0" y1="560.5" x2="85.8" y2="560.5" stroke="#000" stroke-width="1.1"/>
<line x1="83.0" y1="578.4" x2="85.8" y2="578.4" stroke="#000" stroke-width="1.1"/>
<line x1="83.0" y1="596.2" x2="85.8" y2="596.2" stroke="#000" stroke-width="1.1"/>
<text x="80.6" y="565.3" font-size="9.8" text-anchor="end" stroke="#000" stroke-width="0.22">1.2</text>
<text x="80.6" y="600.8" font-size="9.8" text-anchor="end" stroke="#000" stroke-width="0.22">1</text>
<text x="50.2" y="572.0" font-size="9.8" text-anchor="middle" stroke="#000" stroke-width="0.22" transform="rotate(-90 50.2 572.0)">Cell surface</text>
<text x="62.0" y="572.0" font-size="9.8" text-anchor="middle" stroke="#000" stroke-width="0.22" transform="rotate(-90 62.0 572.0)">(S/S0)</text>
<line x1="85.8" y1="617.2" x2="85.8" y2="675.8" stroke="#000" stroke-width="1.4"/>
<line x1="83.0" y1="617.8" x2="85.8" y2="617.8" stroke="#000" stroke-width="1.1"/>
<line x1="83.0" y1="675.3" x2="85.8" y2="675.3" stroke="#000" stroke-width="1.1"/>
<line x1="83.0" y1="637.5" x2="85.8" y2="637.5" stroke="#000" stroke-width="1.1"/>
<line x1="83.0" y1="657.4" x2="85.8" y2="657.4" stroke="#000" stroke-width="1.1"/>
<text x="79.7" y="622.3" font-size="9.8" text-anchor="end" stroke="#000" stroke-width="0.22">0.2</text>
<text x="79.7" y="661.2" font-size="9.8" text-anchor="end" stroke="#000" stroke-width="0.22">0</text>
<text x="50.2" y="648.5" font-size="9.8" text-anchor="middle" stroke="#000" stroke-width="0.22" transform="rotate(-90 50.2 648.5)">ATP release</text>
<text x="62.0" y="648.5" font-size="9.8" text-anchor="middle" stroke="#000" stroke-width="0.22" transform="rotate(-90 62.0 648.5)">(F/F0)</text>
<line x1="93.4" y1="681.5" x2="215.6" y2="681.5" stroke="#000" stroke-width="1.4"/>
<line x1="220.3" y1="681.5" x2="251.0" y2="681.5" stroke="#000" stroke-width="1.4"/>
<line x1="93.9" y1="681.5" x2="93.9" y2="684.3" stroke="#000" stroke-width="1.1"/>
<line x1="215.1" y1="681.5" x2="215.1" y2="684.3" stroke="#000" stroke-width="1.1"/>
<line x1="220.8" y1="681.5" x2="220.8" y2="684.3" stroke="#000" stroke-width="1.1"/>
<line x1="126.2" y1="681.5" x2="126.2" y2="684.3" stroke="#000" stroke-width="1.1"/>
<line x1="161.7" y1="681.5" x2="161.7" y2="684.3" stroke="#000" stroke-width="1.1"/>
<line x1="197.5" y1="681.5" x2="197.5" y2="684.3" stroke="#000" stroke-width="1.1"/>
<line x1="241.9" y1="681.5" x2="241.9" y2="684.3" stroke="#000" stroke-width="1.1"/>
<text x="92.9" y="694.6" font-size="9.8" text-anchor="middle" stroke="#000" stroke-width="0.22">0</text>
<text x="124.8" y="694.6" font-size="9.8" text-anchor="middle" stroke="#000" stroke-width="0.22">10</text>
<text x="161.2" y="694.6" font-size="9.8" text-anchor="middle" stroke="#000" stroke-width="0.22">20</text>
<text x="197.5" y="694.6" font-size="9.8" text-anchor="middle" stroke="#000" stroke-width="0.22">30</text>
<text x="241.9" y="694.6" font-size="9.8" text-anchor="middle" stroke="#000" stroke-width="0.22">70</text>
<text x="169.8" y="706.4" font-size="9.8" text-anchor="middle" stroke="#000" stroke-width="0.22">Time (min)</text>
<line x1="260.5" y1="681.5" x2="382.7" y2="681.5" stroke="#000" stroke-width="1.4"/>
<line x1="387.4" y1="681.5" x2="417.6" y2="681.5" stroke="#000" stroke-width="1.4"/>
<line x1="261.0" y1="681.5" x2="261.0" y2="684.3" stroke="#000" stroke-width="1.1"/>
<line x1="382.2" y1="681.5" x2="382.2" y2="684.3" stroke="#000" stroke-width="1.1"/>
<line x1="387.9" y1="681.5" x2="387.9" y2="684.3" stroke="#000" stroke-width="1.1"/>
<line x1="293.4" y1="681.5" x2="293.4" y2="684.3" stroke="#000" stroke-width="1.1"/>
<line x1="328.8" y1="681.5" x2="328.8" y2="684.3" stroke="#000" stroke-width="1.1"/>
<line x1="364.3" y1="681.5" x2="364.3" y2="684.3" stroke="#000" stroke-width="1.1"/>
<line x1="409.0" y1="681.5" x2="409.0" y2="684.3" stroke="#000" stroke-width="1.1"/>
<text x="260.5" y="694.6" font-size="9.8" text-anchor="middle" stroke="#000" stroke-width="0.22">0</text>
<text x="292.4" y="694.6" font-size="9.8" text-anchor="middle" stroke="#000" stroke-width="0.22">10</text>
<text x="328.8" y="694.6" font-size="9.8" text-anchor="middle" stroke="#000" stroke-width="0.22">20</text>
<text x="364.3" y="694.6" font-size="9.8" text-anchor="middle" stroke="#000" stroke-width="0.22">30</text>
<text x="409.0" y="694.6" font-size="9.8" text-anchor="middle" stroke="#000" stroke-width="0.22">70</text>
<text x="339.4" y="706.4" font-size="9.8" text-anchor="middle" stroke="#000" stroke-width="0.22">Time (min)</text>
<line x1="94.0" y1="595.9" x2="251.0" y2="595.9" stroke="#555" stroke-width="0.7" stroke-dasharray="2,1.5"/>
<line x1="262.0" y1="595.5" x2="418.0" y2="595.5" stroke="#333" stroke-width="0.7" stroke-dasharray="2,1.5"/>
<polyline points="94.8,602.9 99.6,603.1 104.5,602.0 110.5,603.6 112.9,597.0 116.5,580.8 121.3,569.9 124.9,565.7 128.6,562.6 132.2,558.3 135.8,559.6 139.4,565.5 143.0,554.2 147.8,554.7 153.1,558.5 158.2,556.8 161.1,565.0 164.7,579.4 169.5,587.4 174.3,591.4 178.0,587.3 181.6,584.5 185.2,592.3 191.2,593.6 194.6,594.7 198.1,595.1 201.5,594.3 205.0,596.7 208.4,595.9 211.9,596.7 215.3,595.9" fill="none" stroke="#22c080" stroke-width="0.85" stroke-linejoin="round"/>
<polyline points="220.3,602.6 224.1,602.9 227.8,603.7 231.6,604.4 235.3,605.5 239.1,605.6 242.8,605.4 246.6,605.4" fill="none" stroke="#22c080" stroke-width="0.85"/>
<polyline points="94.8,596.2 98.4,597.7 102.0,595.9 105.7,596.8 109.3,597.0 114.1,586.9 117.7,579.8 121.3,572.5 126.1,567.1 131.0,566.2 135.0,566.0 139.0,565.0 143.0,565.7 146.9,566.2 150.7,565.9 154.6,568.9 158.4,569.8 162.3,571.0 167.1,572.6 171.9,572.9 176.7,571.4 181.6,569.0 186.4,569.8 191.2,567.9 195.2,567.8 199.2,566.8 203.3,566.8 209.3,565.5 212.9,571.3 216.0,573.3" fill="none" stroke="#3fd6a0" stroke-width="0.85" stroke-linejoin="round"/>
<polyline points="220.3,574.3 224.1,574.5 227.8,575.7 231.6,576.4 235.3,575.3 239.1,572.7 242.8,571.8 246.6,574.1" fill="none" stroke="#3fd6a0" stroke-width="0.85"/>
<polyline points="94.8,595.2 98.4,595.1 102.0,597.3 105.7,597.6 109.3,597.0 115.3,583.6 119.5,575.3 123.7,567.9 127.3,565.9 131.0,564.6 134.6,563.4 138.2,560.3 141.8,562.7 145.4,562.3 149.0,561.8 152.7,559.4 157.5,561.5 162.3,563.6 167.1,561.9 171.9,563.9 176.7,565.6 181.6,564.1 186.4,567.4 191.2,567.0 195.2,567.0 199.2,568.1 203.3,569.0 206.9,571.2 210.5,574.8 211.7,587.6 215.3,589.4" fill="none" stroke="#6a8cff" stroke-width="0.85" stroke-linejoin="round"/>
<polyline points="220.3,584.2 224.1,586.0 227.8,585.6 231.6,585.3 235.3,587.5 239.1,588.5 242.8,587.3 246.6,587.0" fill="none" stroke="#6a8cff" stroke-width="0.85"/>
<polyline points="94.8,589.3 99.6,595.3 104.5,596.4 109.3,599.1 114.1,582.4 120.1,565.2 126.1,560.1 129.8,561.3 133.4,563.5 137.0,566.9 140.6,569.7 145.4,574.0 150.2,578.7 154.3,581.9 158.3,585.5 162.3,588.0 166.3,590.5 170.3,592.7 174.3,594.2 177.7,595.1 181.1,595.2 184.5,596.7 187.8,595.5 191.2,595.0 194.6,595.3 198.1,595.8 201.5,596.8 205.0,595.8 208.4,596.6 211.9,598.1 215.3,596.6" fill="none" stroke="#ff8fd0" stroke-width="0.85" stroke-linejoin="round"/>
<polyline points="220.3,595.5 224.1,597.6 227.8,599.6 231.6,600.5 235.3,601.1 239.1,601.2 242.8,603.0 246.6,603.4" fill="none" stroke="#ff8fd0" stroke-width="0.85"/>
<polyline points="94.8,596.2 98.7,599.3 102.5,597.9 106.4,597.6 110.2,598.5 114.1,598.8 118.9,593.0 123.7,573.7 127.3,570.9 131.0,567.4 135.8,564.2 140.6,564.0 145.4,568.0 150.2,570.9 154.3,573.5 158.3,572.6 162.3,575.8 167.1,575.2 171.9,575.5 176.7,577.7 181.6,576.1 186.4,577.1 190.0,578.5 193.6,584.0 198.4,583.8 203.3,587.1 207.3,588.5 211.3,587.7 215.3,588.2" fill="none" stroke="#ffe066" stroke-width="0.85" stroke-linejoin="round"/>
<polyline points="220.3,589.6 224.1,590.5 227.8,590.2 231.6,590.4 235.3,592.2 239.1,592.1 242.8,591.2 246.6,594.3" fill="none" stroke="#ffe066" stroke-width="0.85"/>
<polyline points="94.8,594.4 98.2,596.3 101.6,595.4 104.9,595.8 108.3,596.4 111.7,596.1 116.5,581.5 120.1,573.0 123.7,566.4 128.6,566.5 133.4,563.2 138.2,564.4 143.0,565.2 147.0,569.3 151.0,570.4 155.1,572.7 158.7,572.3 162.3,574.9 165.9,575.7 169.5,579.2 172.9,580.9 176.3,579.7 179.6,582.9 183.0,583.3 186.4,583.2 189.8,581.8 193.1,585.1 196.5,584.0 199.9,583.8 203.3,584.9 207.3,585.3 211.3,586.7 215.3,585.8" fill="none" stroke="#f4a261" stroke-width="0.85" stroke-linejoin="round"/>
<polyline points="220.3,581.3 224.1,582.3 227.8,581.8 231.6,580.9 235.3,578.6 239.1,577.2 242.8,577.9 246.6,576.2" fill="none" stroke="#f4a261" stroke-width="0.85"/>
<polyline points="94.8,597.5 98.7,598.8 102.7,597.4 106.6,595.6 110.5,597.5 115.3,584.1 121.3,572.1 125.5,567.4 129.8,562.3 134.0,564.7 138.2,567.3 141.8,571.4 145.4,577.3 150.2,580.3 155.1,585.5 158.7,586.5 162.3,587.2 165.9,585.8 169.5,587.8 172.9,584.6 176.3,584.6 179.6,583.1 183.0,585.1 186.4,582.3 190.4,582.6 194.4,581.6 198.4,580.9 202.4,580.8 206.5,582.0 210.5,583.8 215.3,583.4" fill="none" stroke="#c77dff" stroke-width="0.85" stroke-linejoin="round"/>
<polyline points="220.3,581.0 224.1,582.1 227.8,583.2 231.6,582.9 235.3,582.6 239.1,583.9 242.8,586.1 246.6,584.3" fill="none" stroke="#c77dff" stroke-width="0.85"/>
<polyline points="94.8,596.3 98.2,597.9 101.6,597.8 104.9,597.2 108.3,598.0 111.7,597.5 116.5,584.7 120.1,578.4 123.7,573.2 128.6,573.4 133.4,570.8 138.2,575.3 141.8,583.9 147.8,590.4 152.7,592.9 157.5,593.2 162.3,593.3 167.1,589.7 171.9,590.9 176.7,588.8 181.6,590.1 186.4,594.9 190.4,594.5 194.4,593.3 198.4,595.1 201.8,596.3 205.2,595.8 208.6,597.0 211.9,597.2 215.3,596.6" fill="none" stroke="#3a86ff" stroke-width="0.85" stroke-linejoin="round"/>
<polyline points="220.3,594.8 224.1,594.9 227.8,596.1 231.6,595.8 235.3,596.0 239.1,594.1 242.8,597.1 246.6,597.8" fill="none" stroke="#3a86ff" stroke-width="0.85"/>
<polyline points="94.8,597.6 98.2,597.2 101.6,599.1 104.9,595.5 108.3,597.3 111.7,598.8 116.5,587.4 122.5,582.8 128.6,589.9 134.6,591.7 140.6,589.9 144.2,587.2 147.8,582.6 151.4,584.5 155.1,586.0 158.7,588.9 162.3,590.6 166.3,590.8 170.3,590.5 174.3,591.5 177.7,593.1 181.1,592.9 184.5,592.5 187.8,593.0 191.2,596.6 194.6,595.4 198.1,595.1 201.5,592.4 205.0,595.5 208.4,595.5 211.9,596.8 215.3,595.4" fill="none" stroke="#ff6b6b" stroke-width="0.85" stroke-linejoin="round"/>
<polyline points="220.3,597.0 224.1,597.1 227.8,598.1 231.6,596.4 235.3,599.6 239.1,599.5 242.8,599.1 246.6,601.4" fill="none" stroke="#ff6b6b" stroke-width="0.85"/>
<polyline points="94.8,598.5 98.2,595.5 101.6,596.1 104.9,596.8 108.3,596.6 111.7,596.0 116.5,587.3 120.1,587.7 123.7,584.3 128.6,581.7 133.4,581.0 137.4,584.9 141.4,585.5 145.4,587.4 149.4,587.7 153.5,587.4 157.5,589.6 160.8,587.9 164.2,589.7 167.6,590.8 171.0,591.8 174.3,591.2 177.7,591.7 181.1,592.2 184.5,592.1 187.8,592.4 191.2,592.0 194.6,591.6 198.1,592.7 201.5,592.2 205.0,591.5 208.4,591.8 211.9,592.4 215.3,592.5" fill="none" stroke="#9be36d" stroke-width="0.85" stroke-linejoin="round"/>
<polyline points="220.3,591.7 224.1,592.2 227.8,592.3 231.6,592.7 235.3,592.7 239.1,591.9 242.8,593.6 246.6,594.4" fill="none" stroke="#9be36d" stroke-width="0.85"/>
<polyline points="94.8,596.8 98.2,596.5 101.6,597.4 104.9,596.4 108.3,595.8 111.7,597.9 117.7,589.8 121.9,590.1 126.1,587.2 130.2,587.0 134.2,589.7 138.2,593.2 142.2,592.8 146.2,593.3 150.2,595.2 154.3,596.4 158.3,596.4 162.3,596.1 165.7,597.4 169.2,596.8 172.6,596.3 176.1,597.0 179.5,598.1 182.9,597.6 186.4,597.8 190.0,596.0 193.6,596.9 197.2,597.7 200.8,596.8 204.5,598.1 208.1,597.8 211.7,598.1 215.3,597.3" fill="none" stroke="#e040fb" stroke-width="0.85" stroke-linejoin="round"/>
<polyline points="220.3,598.8 224.1,601.7 227.8,600.8 231.6,599.9 235.3,600.5 239.1,603.1 242.8,600.8 246.6,602.2" fill="none" stroke="#e040fb" stroke-width="0.85"/>
<polyline points="94.8,595.8 98.2,595.3 101.6,594.7 104.9,596.3 108.3,596.8 111.7,597.9 116.5,579.3 120.1,573.8 123.7,569.7 128.0,567.6 132.2,565.5 136.4,567.8 140.6,569.9 145.4,572.5 150.2,572.8 154.3,575.2 158.3,577.8 162.3,578.4 166.3,580.6 170.3,580.4 174.3,582.8 177.7,584.6 181.1,585.3 184.5,585.5 187.8,586.1 191.2,585.7 194.6,589.0 198.1,588.1 201.5,589.0 205.0,587.6 208.4,588.5 211.9,587.4 215.3,589.4" fill="none" stroke="#ff9aa2" stroke-width="0.85" stroke-linejoin="round"/>
<polyline points="220.3,588.9 224.1,588.9 227.8,586.1 231.6,587.6 235.3,588.1 239.1,585.7 242.8,585.5 246.6,586.0" fill="none" stroke="#ff9aa2" stroke-width="0.85"/>
<polyline points="94.8,596.8 98.2,596.0 101.6,597.2 104.9,597.3 108.3,597.5 111.7,597.5 115.3,588.3 121.3,579.6 126.1,576.2 131.0,575.7 135.2,577.0 139.4,578.8 145.4,586.9 149.4,588.6 153.5,590.6 157.5,590.4 161.5,589.9 165.5,590.2 169.5,589.2 172.9,588.9 176.3,588.9 179.6,588.0 183.0,589.1 186.4,588.5 190.4,586.9 194.4,585.2 198.4,584.4 202.4,581.7 206.5,582.9 210.5,583.4 215.3,585.8" fill="none" stroke="#8a5cf6" stroke-width="0.85" stroke-linejoin="round"/>
<polyline points="220.3,582.0 224.1,584.8 227.8,585.9 231.6,585.7 235.3,588.0 239.1,589.1 242.8,591.0 246.6,592.4" fill="none" stroke="#8a5cf6" stroke-width="0.85"/>
<polyline points="94.8,596.8 98.2,596.1 101.6,596.7 104.9,596.8 108.3,597.5 111.7,597.1 116.5,583.9 122.5,570.1 126.7,569.5 131.0,567.8 135.8,569.5 140.6,572.4 145.4,575.7 150.2,579.9 154.3,582.6 158.3,584.2 162.3,589.1 165.9,590.3 169.5,595.2 172.9,594.5 176.3,595.5 179.6,592.5 183.0,594.1 186.4,595.2 189.8,595.7 193.1,597.4 196.5,595.8 199.9,596.9 203.3,596.6 207.3,597.1 211.3,597.0 215.3,596.9" fill="none" stroke="#7cc8f2" stroke-width="0.85" stroke-linejoin="round"/>
<polyline points="220.3,595.3 224.1,595.7 227.8,594.1 231.6,596.0 235.3,593.8 239.1,594.8 242.8,596.3 246.6,594.0" fill="none" stroke="#7cc8f2" stroke-width="0.85"/>
<polyline points="94.8,597.8 98.7,599.0 102.7,598.1 106.6,597.5 110.5,598.5 115.3,585.1 118.9,579.8 122.5,573.0 126.7,576.5 131.0,577.6 134.6,579.2 138.2,582.4 141.8,584.2 145.4,588.3 149.0,590.0 152.7,594.8 157.5,594.6 162.3,595.3 165.7,596.6 169.2,597.2 172.6,596.1 176.1,595.6 179.5,597.0 182.9,596.3 186.4,596.7 190.0,597.7 193.6,597.3 197.2,595.7 200.8,598.2 204.5,596.1 208.1,596.7 211.7,595.4 215.3,595.9" fill="none" stroke="#ff5fa2" stroke-width="0.85" stroke-linejoin="round"/>
<polyline points="220.3,600.2 224.1,599.4 227.8,603.2 231.6,603.5 235.3,601.9 239.1,602.3 242.8,602.9 246.6,606.1" fill="none" stroke="#ff5fa2" stroke-width="0.85"/>
<polyline points="94.8,597.4 98.2,597.7 101.6,597.4 104.9,597.4 108.3,596.5 111.7,597.4 115.3,586.9 118.9,586.3 122.5,584.9 126.1,585.8 129.8,586.0 133.4,586.2 137.4,587.9 141.4,588.2 145.4,590.8 148.8,590.6 152.2,590.3 155.5,590.4 158.9,590.7 162.3,591.0 165.7,591.3 169.2,591.7 172.6,591.8 176.1,591.6 179.5,592.8 182.9,590.1 186.4,590.6 190.0,593.2 193.6,589.0 197.2,590.3 200.8,591.0 204.5,591.0 208.1,591.3 211.7,590.8 215.3,591.1" fill="none" stroke="#00c878" stroke-width="0.85" stroke-linejoin="round"/>
<polyline points="220.3,590.9 224.1,591.2 227.8,592.3 231.6,590.4 235.3,591.9 239.1,593.2 242.8,592.8 246.6,593.3" fill="none" stroke="#00c878" stroke-width="0.85"/>
<polyline points="94.8,597.0 98.2,595.9 101.6,597.1 104.9,597.3 108.3,597.0 111.7,597.3 116.5,580.9 120.1,574.3 123.7,570.1 128.0,568.5 132.2,565.5 135.8,566.9 139.4,568.6 143.0,568.1 147.0,571.9 151.0,575.4 155.1,575.6 159.1,577.5 163.1,578.4 167.1,581.1 171.0,580.5 174.8,581.5 178.7,580.6 182.5,581.7 186.4,582.2 189.8,580.7 193.1,583.8 196.5,583.4 199.9,581.2 203.3,583.6 207.3,583.3 211.3,584.4 215.3,584.6" fill="none" stroke="#b8a0ff" stroke-width="0.85" stroke-linejoin="round"/>
<polyline points="220.3,580.1 224.1,578.8 227.8,580.3 231.6,582.1 235.3,580.6 239.1,580.6 242.8,580.6 246.6,581.1" fill="none" stroke="#b8a0ff" stroke-width="0.85"/>
<polyline points="94.8,595.7 98.2,597.3 101.6,596.6 104.9,596.8 108.3,599.0 111.7,596.9 116.5,581.6 120.1,577.8 123.7,573.0 128.6,570.4 133.4,569.1 137.4,571.6 141.4,572.8 145.4,572.6 149.0,574.8 152.7,575.7 156.3,577.8 159.9,578.4 163.5,579.4 167.1,580.0 170.7,582.2 174.3,583.4 177.7,582.6 181.1,584.4 184.5,583.7 187.8,585.1 191.2,586.5 194.6,587.4 198.1,586.0 201.5,586.5 205.0,587.1 208.4,585.8 211.9,587.4 215.3,587.7" fill="none" stroke="#ffb3c1" stroke-width="0.85" stroke-linejoin="round"/>
<polyline points="220.3,586.4 224.1,587.7 227.8,586.7 231.6,586.2 235.3,588.4 239.1,588.9 242.8,588.6 246.6,590.2" fill="none" stroke="#ffb3c1" stroke-width="0.85"/>
<path d="M94.0,596.5 C95.0,596.5 98.8,596.9 101.0,596.8 C103.2,596.7 106.8,597.9 108.6,596.0 C110.4,594.1 111.6,586.9 113.0,584.0 C114.4,581.1 116.0,578.1 117.8,576.5 C119.6,574.9 122.6,573.7 125.0,573.0 C127.4,572.3 130.6,571.6 133.6,571.8 C136.6,572.0 140.5,573.2 145.0,574.5 C149.5,575.8 157.1,579.0 163.8,580.4 C170.6,581.8 182.2,582.8 190.0,583.6 C197.8,584.4 211.8,585.4 215.6,585.7" fill="none" stroke="#000" stroke-width="2.4" stroke-linecap="round"/>
<path d="M220.3,588.8 C222.5,588.5 229.0,587.0 233.4,587.0 C237.8,587.0 244.4,588.7 246.6,589.0" fill="none" stroke="#000" stroke-width="2.4" stroke-linecap="round"/>
<polyline points="94.8,648.4 98.0,651.0 101.2,654.4 104.5,656.1 107.7,656.6 110.9,657.0 114.1,657.0 118.9,633.4 122.5,630.4 126.1,628.1 128.6,638.9 131.4,651.1 134.8,653.0 138.2,655.9 141.4,658.7 144.6,659.4 147.8,663.1 151.8,663.5 155.9,665.8 159.9,667.9 163.1,669.0 166.3,668.4 169.5,668.6 173.5,671.2 177.6,672.4 181.6,673.5 185.6,675.4 189.6,674.9 193.6,675.5" fill="none" stroke="#ff8a8a" stroke-width="0.85" stroke-linejoin="round"/>
<polyline points="220.3,663.2 234.2,663.6 237.5,646.5 241.5,654.0 246.6,657.4" fill="none" stroke="#ff8a8a" stroke-width="0.85"/>
<polyline points="94.8,649.9 98.2,652.5 101.6,652.6 104.9,653.9 108.3,655.9 111.7,657.8 115.0,656.8 118.3,658.1 121.6,657.6 124.9,657.2 128.3,658.1 131.6,657.7 134.9,658.3 138.2,658.6 141.6,658.7 145.1,658.4 148.5,660.8 152.0,661.3 155.4,661.8 158.8,661.4 162.3,662.3 165.5,661.0 168.7,658.5 171.9,658.2 175.5,644.9 181.1,643.7 184.5,652.2 186.9,664.1 191.4,665.5 196.0,666.1 199.2,667.3 202.4,668.1 205.7,668.3 208.9,668.3 212.1,670.5 215.3,670.2" fill="none" stroke="#ff7a7a" stroke-width="0.85" stroke-linejoin="round"/>
<polyline points="220.3,662.9 234.2,663.2 237.5,646.6 241.5,653.7 246.6,654.8" fill="none" stroke="#ff7a7a" stroke-width="0.85"/>
<polyline points="94.8,650.7 98.0,651.4 101.2,652.6 104.5,652.9 107.7,654.0 110.9,653.7 114.1,655.6 118.1,654.5 122.1,653.3 126.1,651.0 128.6,631.7 132.9,620.8 137.0,624.5 139.4,636.5 141.8,646.1 146.6,651.0 152.7,654.4 155.9,655.3 159.1,657.1 162.3,656.8 165.7,658.1 169.2,659.3 172.6,659.1 176.1,660.4 179.5,660.0 182.9,661.2 186.4,661.8 189.6,662.5 192.8,663.8 196.0,665.1 199.2,664.1 202.4,664.8 205.7,666.1 208.9,665.9 212.1,667.4 215.3,667.8" fill="none" stroke="#a855f7" stroke-width="0.85" stroke-linejoin="round"/>
<polyline points="220.3,672.4 234.2,672.7 237.5,644.8 241.5,651.7 246.6,656.0" fill="none" stroke="#a855f7" stroke-width="0.85"/>
<polyline points="94.8,651.1 98.0,651.1 101.2,652.5 104.5,654.0 107.7,653.9 110.9,656.1 114.1,656.6 118.0,655.7 121.9,654.8 125.8,653.7 129.8,653.4 132.9,630.5 135.8,641.3 138.2,632.9 140.6,646.1 145.4,643.7 149.0,652.2 155.1,647.3 157.5,654.7 161.5,655.4 165.5,655.7 169.5,656.8 172.9,658.8 176.3,658.3 179.6,659.6 183.0,659.8 186.4,660.8 189.6,661.0 192.8,660.4 196.0,661.6 199.2,661.5 202.4,662.3 205.7,661.9 208.9,663.2 212.1,662.8 215.3,663.5" fill="none" stroke="#4a7dff" stroke-width="0.85" stroke-linejoin="round"/>
<polyline points="220.3,671.5 234.2,671.1 237.5,648.7 241.5,656.1 246.6,657.9" fill="none" stroke="#4a7dff" stroke-width="0.85"/>
<polyline points="94.8,650.2 98.2,651.7 101.6,653.2 104.9,654.6 108.3,655.4 111.7,657.0 115.1,657.5 118.4,657.8 121.8,658.2 125.2,656.9 128.6,657.2 131.9,656.1 135.3,658.6 138.7,657.2 142.0,657.7 145.4,658.1 148.8,657.1 152.2,658.2 155.5,658.0 158.9,657.1 162.3,658.4 165.7,659.1 169.2,657.7 172.6,659.5 176.1,659.4 179.5,659.8 182.9,660.1 186.4,660.8 189.8,660.2 193.1,661.0 196.5,660.5 199.9,661.3 203.3,661.1 205.7,653.4 208.6,646.1 212.9,648.1 214.8,660.6 215.8,661.8" fill="none" stroke="#6aa0ff" stroke-width="0.85" stroke-linejoin="round"/>
<polyline points="220.3,665.3 234.2,665.7 237.5,649.6 241.5,654.0 246.6,660.0" fill="none" stroke="#6aa0ff" stroke-width="0.85"/>
<polyline points="94.8,651.0 98.0,652.1 101.2,653.0 104.5,654.0 107.7,655.4 110.9,656.2 114.1,657.4 117.7,655.7 121.3,655.3 124.9,655.2 128.6,654.7 132.2,653.6 135.8,653.4 139.4,629.3 141.8,622.0 146.6,624.5 152.7,634.1 157.5,646.1 162.3,652.9 165.5,653.6 168.7,655.0 171.9,656.1 175.5,657.9 179.2,658.0 182.8,659.3 186.4,661.0 189.6,661.6 192.8,661.2 196.0,662.4 199.2,663.6 202.4,664.1 205.7,664.4 208.9,664.8 212.1,665.9 215.3,666.6" fill="none" stroke="#8ef5c8" stroke-width="0.85" stroke-linejoin="round"/>
<polyline points="220.3,672.6 234.2,672.7 237.5,645.8 241.5,651.2 246.6,655.5" fill="none" stroke="#8ef5c8" stroke-width="0.85"/>
<polyline points="94.8,650.5 98.0,652.4 101.2,650.9 104.5,653.3 107.7,654.9 110.9,655.8 114.1,656.6 117.5,657.5 121.0,655.7 124.4,654.0 127.9,654.7 131.3,652.6 134.8,653.5 138.2,652.2 141.8,636.5 144.2,641.3 146.6,638.9 149.0,646.1 153.1,649.8 155.1,646.1 157.5,654.3 161.5,655.5 165.5,656.9 169.5,657.1 172.8,656.9 176.1,657.4 179.3,659.7 182.6,660.1 185.9,660.0 189.1,661.6 192.4,662.1 195.7,662.9 199.0,661.9 202.2,663.7 205.5,665.1 208.8,665.7 212.0,666.4 215.3,666.6" fill="none" stroke="#3b3bff" stroke-width="0.85" stroke-linejoin="round"/>
<polyline points="220.3,664.6 234.2,665.1 237.5,644.3 241.5,652.2 246.6,654.2" fill="none" stroke="#3b3bff" stroke-width="0.85"/>
<polyline points="94.8,650.8 98.0,654.2 101.2,654.2 104.5,653.7 107.7,656.2 110.9,655.4 114.1,656.3 117.5,657.4 120.9,657.6 124.3,656.8 127.8,657.1 131.2,657.1 134.6,655.5 138.0,656.4 141.4,656.5 144.8,655.5 148.2,656.4 151.6,655.7 155.1,655.8 158.7,646.1 161.8,621.6 164.7,646.1 167.1,652.2 170.0,646.1 172.7,638.4 175.5,649.8 180.4,656.0 184.0,657.0 187.6,659.1 191.2,659.5 194.4,659.7 197.6,659.3 200.8,660.6 205.2,653.4 207.6,659.0 211.4,661.6 215.3,661.8" fill="none" stroke="#22d38a" stroke-width="0.85" stroke-linejoin="round"/>
<polyline points="220.3,663.8 234.2,663.8 237.5,648.2 241.5,654.7 246.6,657.4" fill="none" stroke="#22d38a" stroke-width="0.85"/>
<polyline points="94.8,649.8 98.0,650.1 101.2,652.4 104.5,652.5 107.7,654.9 110.9,655.2 114.1,657.2 117.7,657.3 121.3,656.3 124.9,655.4 128.6,655.4 132.2,655.1 135.8,654.6 140.6,638.9 144.2,635.3 147.8,646.1 151.4,651.2 155.1,653.4 158.7,655.5 162.3,656.7 165.7,658.1 169.2,659.5 172.6,660.5 176.1,661.6 179.5,662.5 182.9,663.0 186.4,664.2 189.6,664.7 192.8,665.4 196.0,666.1 199.2,665.9 202.4,667.4 205.7,668.2 208.9,668.4 212.1,669.6 215.3,670.2" fill="none" stroke="#e040fb" stroke-width="0.85" stroke-linejoin="round"/>
<polyline points="220.3,672.6 234.2,673.0 237.5,644.4 241.5,652.4 246.6,655.3" fill="none" stroke="#e040fb" stroke-width="0.85"/>
<polyline points="94.8,649.9 98.4,650.9 102.0,653.4 105.7,654.2 109.3,655.8 114.1,648.6 117.7,646.6 123.7,649.8 128.6,655.8 131.8,655.1 135.0,656.7 138.2,657.8 141.6,657.9 145.1,658.3 148.5,658.5 152.0,660.5 155.4,661.1 158.8,662.1 162.3,661.6 165.6,663.2 168.9,662.9 172.2,663.4 175.5,663.5 178.9,663.4 182.2,663.8 185.5,664.9 188.8,664.5 192.1,665.1 195.4,665.4 198.7,665.9 202.0,666.7 205.4,666.0 208.7,666.9 212.0,666.8 215.3,667.3" fill="none" stroke="#b8a040" stroke-width="0.85" stroke-linejoin="round"/>
<polyline points="220.3,670.9 234.2,670.9 237.5,644.2 241.5,650.7 246.6,653.6" fill="none" stroke="#b8a040" stroke-width="0.85"/>
<polyline points="94.8,651.5 98.2,651.7 101.6,652.4 104.9,654.0 108.3,657.2 111.7,657.0 116.5,652.2 120.1,651.0 126.1,656.8 129.6,654.9 133.0,654.3 136.5,654.4 139.9,653.3 143.4,653.9 146.8,652.6 150.2,651.6 153.5,652.1 156.7,650.2 159.9,649.9 163.1,650.6 166.3,651.2 169.5,652.3 173.5,653.0 177.6,653.6 181.6,654.6 184.9,656.1 188.3,657.3 191.7,658.7 195.1,659.7 198.4,660.9 201.8,661.4 205.2,661.6 208.6,662.4 211.9,662.3 215.3,664.2" fill="none" stroke="#f5f58a" stroke-width="0.85" stroke-linejoin="round"/>
<polyline points="220.3,663.9 234.2,664.1 237.5,645.1 241.5,649.2 246.6,653.1" fill="none" stroke="#f5f58a" stroke-width="0.85"/>
<polyline points="94.8,649.7 98.2,651.3 101.6,653.3 104.9,654.6 108.3,656.8 111.7,657.6 115.0,658.4 118.3,659.6 121.6,660.7 124.9,660.3 128.3,661.3 131.6,662.2 134.9,662.3 138.2,663.2 141.6,663.7 145.1,663.3 148.5,663.7 152.0,665.2 155.4,665.0 158.8,666.1 162.3,666.7 165.7,666.5 169.2,666.8 172.6,667.2 176.1,668.6 179.5,667.1 182.9,669.1 186.4,669.0 189.6,669.1 192.8,670.1 196.0,670.3 199.2,670.3 202.4,671.2 205.7,671.8 208.9,672.4 212.1,672.7 215.3,673.1" fill="none" stroke="#ff5fa2" stroke-width="0.85" stroke-linejoin="round"/>
<polyline points="220.3,668.4 234.2,668.0 237.5,651.0 241.5,655.8 246.6,661.4" fill="none" stroke="#ff5fa2" stroke-width="0.85"/>
<polyline points="94.8,648.0 98.2,649.2 101.6,651.9 104.9,654.0 108.3,655.5 111.7,657.5 115.0,658.7 118.3,659.8 121.6,659.6 124.9,659.9 128.3,659.4 131.6,661.8 134.9,661.3 138.2,661.8 141.6,661.6 145.1,662.7 148.5,662.5 152.0,663.6 155.4,664.3 158.8,664.5 162.3,665.1 165.5,664.8 168.7,666.4 171.9,665.5 175.1,665.2 178.4,666.4 181.6,666.4 184.8,666.6 188.0,667.3 191.2,668.0 194.6,667.7 198.1,668.8 201.5,670.2 205.0,670.3 208.4,670.3 211.9,671.0 215.3,671.4" fill="none" stroke="#ff8fd0" stroke-width="0.85" stroke-linejoin="round"/>
<polyline points="220.3,665.3 234.2,665.5 237.5,645.2 241.5,653.0 246.6,656.2" fill="none" stroke="#ff8fd0" stroke-width="0.85"/>
<polyline points="94.8,652.1 98.2,652.7 101.6,655.2 104.9,655.0 108.3,656.6 111.7,657.9 115.0,657.1 118.3,657.5 121.6,657.3 124.9,658.9 128.3,658.5 131.6,659.3 134.9,658.4 138.2,659.8 141.6,659.3 145.1,660.0 148.5,659.7 152.0,660.6 155.4,661.5 158.8,661.3 162.3,661.7 165.7,662.3 169.2,662.1 172.6,662.8 176.1,662.8 179.5,663.5 182.9,663.0 186.4,663.6 189.6,663.9 192.8,664.8 196.0,664.5 199.2,664.0 202.4,664.2 205.7,665.1 208.9,665.2 212.1,665.2 215.3,665.9" fill="none" stroke="#5ce1e6" stroke-width="0.85" stroke-linejoin="round"/>
<polyline points="220.3,671.2 234.2,671.6 237.5,650.0 241.5,654.2 246.6,661.4" fill="none" stroke="#5ce1e6" stroke-width="0.85"/>
<polyline points="94.8,645.9 98.0,649.1 101.2,649.1 104.5,651.9 107.7,653.6 110.9,655.3 114.1,657.1 117.3,657.6 120.5,656.3 123.7,656.5 126.9,656.5 130.2,657.0 133.4,657.0 136.6,657.6 139.8,657.6 143.0,657.5 146.2,657.2 149.4,657.4 152.7,658.2 155.9,658.2 159.1,657.8 162.3,657.7 165.5,658.8 168.7,657.6 171.9,658.4 175.1,658.7 178.4,658.0 181.6,658.2 186.4,657.0 190.0,654.6 192.4,661.1 195.7,661.2 199.0,663.6 202.2,664.3 205.5,664.5 208.8,667.0 212.0,667.3 215.3,669.0" fill="none" stroke="#ff4466" stroke-width="0.85" stroke-linejoin="round"/>
<polyline points="220.3,668.2 234.2,668.6 237.5,645.0 241.5,649.4 246.6,656.3" fill="none" stroke="#ff4466" stroke-width="0.85"/>
<polyline points="94.8,650.5 98.2,651.3 101.6,652.9 104.9,654.7 108.3,656.8 111.7,657.5 114.9,657.6 118.1,657.2 121.3,658.0 124.5,658.2 127.8,657.9 131.0,657.9 134.2,658.6 137.4,659.0 140.6,658.5 143.8,659.5 147.0,659.1 150.2,659.6 153.5,660.7 156.8,660.0 160.1,660.7 163.4,661.0 166.7,661.4 170.0,662.2 173.2,661.6 176.5,663.1 179.8,662.6 183.1,663.4 186.4,664.7 189.6,663.7 192.8,665.7 196.0,666.4 199.2,666.4 202.4,666.6 205.7,666.7 208.9,666.9 212.1,668.6 215.3,667.8" fill="none" stroke="#f4a261" stroke-width="0.85" stroke-linejoin="round"/>
<polyline points="220.3,667.8 234.2,668.2 237.5,646.4 241.5,651.3 246.6,656.2" fill="none" stroke="#f4a261" stroke-width="0.85"/>
<polyline points="94.8,649.6 98.2,651.6 101.6,653.0 104.9,653.4 108.3,655.2 111.7,657.1 115.0,657.5 118.3,658.0 121.6,656.8 124.9,656.7 128.3,657.9 131.6,658.3 134.9,658.1 138.2,657.5 141.6,658.8 145.1,659.0 148.5,659.0 152.0,658.6 155.4,659.2 158.8,659.7 162.3,659.1 165.7,658.7 169.2,660.3 172.6,660.7 176.1,660.8 179.5,661.6 182.9,661.1 186.4,661.8 189.6,661.8 192.8,662.5 196.0,663.2 199.2,662.4 202.4,663.9 205.7,663.8 208.9,663.6 212.1,663.6 215.3,663.5" fill="none" stroke="#9be36d" stroke-width="0.85" stroke-linejoin="round"/>
<polyline points="220.3,673.0 234.2,673.2 237.5,649.8 241.5,655.5 246.6,658.6" fill="none" stroke="#9be36d" stroke-width="0.85"/>
<polyline points="94.0,652.0 97.5,654.3 101.0,655.5 105.0,657.2 108.0,658.0 114.0,657.8 120.0,657.0 125.0,656.3 129.7,655.2 133.0,653.3 136.0,654.0 140.2,650.0 143.0,652.6 145.4,653.4 150.0,655.8 155.0,656.7 163.8,659.4 170.0,660.4 176.0,662.6 180.0,662.2 190.0,664.6 197.0,665.2 203.0,666.6 208.0,666.1 215.6,667.0" fill="none" stroke="#000" stroke-width="2.4" stroke-linecap="round" stroke-linejoin="round"/>
<polyline points="220.3,673.0 234.2,673.0 238.0,651.5 241.9,656.0 246.6,657.3" fill="none" stroke="#000" stroke-width="2.4" stroke-linejoin="round" stroke-linecap="round"/>
<polyline points="262.2,591.8 268.3,587.0 273.1,594.2 277.9,591.8 281.5,571.3 286.3,558.1 291.1,556.9 296.0,559.5 300.8,562.9 306.8,550.8 314.0,555.7 320.1,558.1 327.3,562.9 334.5,568.9 341.7,562.9 349.0,566.5 356.2,571.3 363.4,579.8 370.7,577.3 377.9,573.7 382.7,570.1" fill="none" stroke="#3a55ff" stroke-width="0.85" stroke-linejoin="round"/>
<polyline points="388.3,561.7 393.9,562.6 399.6,564.1 404.4,571.5 409.2,578.6 414.0,583.4" fill="none" stroke="#3a55ff" stroke-width="0.85" stroke-linejoin="round"/>
<polyline points="262.2,589.4 268.3,593.0 274.3,594.2 281.5,578.6 288.7,560.5 296.0,556.9 303.2,555.7 309.2,556.3 315.2,554.5 321.3,554.1 327.3,553.3 333.3,553.2 339.3,552.0 345.4,550.7 351.4,553.3 357.4,550.8 363.4,552.0 369.5,551.4 375.5,550.8 382.7,551.6" fill="none" stroke="#ff5fa2" stroke-width="0.85" stroke-linejoin="round"/>
<polyline points="388.3,550.8 393.6,550.8 399.0,551.7 404.4,552.0 409.2,554.4 414.0,558.1" fill="none" stroke="#ff5fa2" stroke-width="0.85" stroke-linejoin="round"/>
<polyline points="262.2,588.2 268.3,589.8 274.3,593.0 281.5,581.0 287.5,562.9 294.8,555.7 299.0,554.9 303.2,554.5 309.2,551.0 315.2,553.3 321.3,548.1 327.3,546.0 334.5,547.2 339.3,550.8 345.4,552.2 351.4,552.0 358.6,549.6 363.4,550.2 368.3,550.8 373.1,549.1 377.9,550.3 382.7,549.6" fill="none" stroke="#ff6b6b" stroke-width="0.85" stroke-linejoin="round"/>
<polyline points="388.3,550.1 393.6,551.2 399.0,550.8 404.4,549.6 409.2,548.9 414.0,550.1" fill="none" stroke="#ff6b6b" stroke-width="0.85" stroke-linejoin="round"/>
<polyline points="262.2,590.6 266.6,591.0 271.1,590.6 275.5,594.2 282.7,576.1 286.9,567.5 291.1,560.5 296.0,556.4 300.8,555.7 306.8,552.8 312.8,552.0 318.9,552.4 324.9,552.0 330.9,551.4 336.9,551.6 341.7,551.3 346.6,549.9 351.4,552.0 357.4,552.5 363.4,550.8 368.3,549.2 373.1,548.4 379.1,545.3" fill="none" stroke="#c77dff" stroke-width="0.85" stroke-linejoin="round"/>
<polyline points="388.3,556.9 393.6,555.4 399.0,556.1 404.4,555.7 409.2,557.1 414.0,556.9" fill="none" stroke="#c77dff" stroke-width="0.85" stroke-linejoin="round"/>
<polyline points="262.2,601.4 268.3,597.9 274.3,597.8 281.5,583.4 288.7,573.7 296.0,566.5 303.2,561.7 310.4,562.9 317.7,556.9 324.9,560.5 332.1,558.1 339.3,555.7 344.2,559.3 349.0,553.3 356.2,556.9 361.0,556.2 365.8,554.5 370.7,552.2 375.5,553.3 382.7,556.9" fill="none" stroke="#00c878" stroke-width="0.85" stroke-linejoin="round"/>
<polyline points="388.3,572.5 393.9,573.8 399.6,573.7 404.4,577.8 409.2,581.0 414.0,582.2" fill="none" stroke="#00c878" stroke-width="0.85" stroke-linejoin="round"/>
<polyline points="262.2,596.6 267.0,595.9 271.9,594.5 276.7,595.4 283.9,590.6 291.1,587.0 297.2,584.5 303.2,585.8 309.2,584.4 315.2,585.3 321.3,585.9 327.3,584.6 333.3,584.7 339.3,584.1 345.4,583.7 351.4,583.4 357.4,582.4 363.4,582.9 369.5,581.7 375.5,581.0 382.7,580.5" fill="none" stroke="#3fd6a0" stroke-width="0.85" stroke-linejoin="round"/>
<polyline points="262.2,591.8 267.0,593.0 271.9,589.9 276.7,593.5 282.7,585.8 288.7,581.0 293.6,582.2 298.4,584.6 303.2,581.0 310.4,583.4 317.7,579.8 324.9,577.3 332.1,579.8 339.3,578.6 346.6,577.3 351.4,584.6 358.6,582.2 365.8,584.6 373.1,582.2 379.1,578.6 382.7,583.4" fill="none" stroke="#f4a261" stroke-width="0.85" stroke-linejoin="round"/>
<polyline points="388.3,576.1 393.9,574.6 399.6,573.7 406.8,584.6 414.0,588.2" fill="none" stroke="#f4a261" stroke-width="0.85" stroke-linejoin="round"/>
<polyline points="262.2,594.2 267.0,594.4 271.9,593.3 276.7,594.9 283.9,584.6 291.1,582.2 298.4,585.8 305.6,583.4 310.4,583.8 315.2,585.8 320.1,583.7 324.9,582.2 332.1,584.6 339.3,581.0 346.6,585.8 351.4,583.7 356.2,584.6 363.4,587.0 370.7,585.8 377.9,589.4 382.7,588.2" fill="none" stroke="#5aa9f5" stroke-width="0.85" stroke-linejoin="round"/>
<polyline points="262.2,588.2 269.5,587.0 275.5,594.9 281.5,576.1 288.7,566.5 296.0,567.7 303.2,564.1 310.4,568.9 317.7,565.3 324.9,571.3 332.1,564.1 339.3,570.1 346.6,571.3 353.8,576.1 361.0,570.1 368.3,573.7 375.5,571.3 382.7,566.5" fill="none" stroke="#5b5bf0" stroke-width="0.85" stroke-linejoin="round"/>
<polyline points="388.3,566.5 393.9,566.7 399.6,568.9 404.4,571.4 409.2,576.1 414.0,581.0" fill="none" stroke="#5b5bf0" stroke-width="0.85" stroke-linejoin="round"/>
<polyline points="262.2,589.4 266.6,589.7 271.1,592.4 275.5,594.2 282.7,583.4 286.9,575.8 291.1,566.5 296.0,563.8 300.8,561.7 306.8,560.0 312.8,559.3 317.7,557.7 322.5,558.5 327.3,558.1 332.1,557.2 336.9,558.8 341.7,557.3 346.6,557.5 351.4,558.8 356.2,558.1 361.0,558.0 365.8,557.1 370.7,556.9 376.7,557.2 382.7,557.3" fill="none" stroke="#ffe066" stroke-width="0.85" stroke-linejoin="round"/>
<polyline points="388.3,567.7 393.6,567.4 399.0,568.9 404.4,568.9 409.2,569.3 414.0,570.1" fill="none" stroke="#ffe066" stroke-width="0.85" stroke-linejoin="round"/>
<polyline points="262.2,587.0 266.6,588.3 271.1,591.9 275.5,594.5 281.5,579.8 288.7,572.5 296.0,574.9 303.2,576.1 308.0,575.9 312.8,573.7 317.7,572.4 322.5,571.3 327.3,567.0 332.1,568.9 336.9,566.8 341.7,566.5 346.6,567.0 351.4,567.7 356.2,566.3 361.0,564.1 365.8,561.1 370.7,560.5 376.7,559.4 382.7,558.1" fill="none" stroke="#e040fb" stroke-width="0.85" stroke-linejoin="round"/>
<polyline points="388.3,560.5 393.6,560.1 399.0,559.1 404.4,558.1 409.2,559.0 414.0,562.9" fill="none" stroke="#e040fb" stroke-width="0.85" stroke-linejoin="round"/>
<polyline points="262.2,591.8 266.6,591.7 271.1,592.5 275.5,594.5 282.7,578.6 286.9,571.1 291.1,565.3 296.0,562.5 300.8,560.5 305.6,560.5 310.4,558.1 316.4,557.2 322.5,556.9 328.5,554.4 334.5,554.9 340.5,553.5 346.6,555.7 352.6,555.7 358.6,554.5 364.6,552.5 370.7,553.3 376.7,552.2 382.7,552.0" fill="none" stroke="#ff8fd0" stroke-width="0.85" stroke-linejoin="round"/>
<polyline points="388.3,554.5 393.6,555.6 399.0,555.8 404.4,554.9 409.2,559.4 414.0,561.7" fill="none" stroke="#ff8fd0" stroke-width="0.85" stroke-linejoin="round"/>
<polyline points="262.2,595.4 266.6,593.5 271.1,596.8 275.5,594.5 279.7,586.4 283.9,578.6 288.7,570.2 293.6,559.3 299.6,547.2 303.2,544.8" fill="none" stroke="#9be36d" stroke-width="0.85" stroke-linejoin="round"/>
<polyline points="388.3,572.5 393.9,573.7 399.6,574.9 405.6,570.1" fill="none" stroke="#9be36d" stroke-width="0.85" stroke-linejoin="round"/>
<polyline points="262.2,593.5 266.6,595.3 271.1,594.5 275.5,594.9 279.7,585.6 283.9,576.1 288.7,568.7 293.6,561.7 298.4,557.0 303.2,554.5 308.0,552.7 312.8,550.8 318.9,547.2 322.5,553.3 328.5,555.0 334.5,554.5 338.7,553.0 343.0,554.4 347.2,552.9 351.4,554.0 355.6,552.3 359.8,551.7 364.0,555.7 368.3,553.3 373.1,553.3 377.9,552.4 382.7,552.5" fill="none" stroke="#c0c0c0" stroke-width="0.85" stroke-linejoin="round"/>
<polyline points="388.3,564.1 393.6,565.3 399.0,563.4 404.4,565.3 409.2,568.4 414.0,571.3" fill="none" stroke="#c0c0c0" stroke-width="0.85" stroke-linejoin="round"/>
<polyline points="262.2,590.6 266.6,591.3 271.1,594.2 275.5,594.7 282.0,581.0 289.9,568.9 294.8,565.5 299.6,565.3 305.0,564.9 310.4,564.1 316.4,563.5 322.5,562.9 327.3,564.5 332.1,561.8 336.9,562.2 341.7,561.6 346.6,561.6 351.4,560.5 356.2,561.5 361.0,562.0 365.8,561.7 370.1,561.8 374.3,560.3 378.5,562.9 382.7,561.2" fill="none" stroke="#ff9aa2" stroke-width="0.85" stroke-linejoin="round"/>
<polyline points="388.3,559.3 393.6,561.1 399.0,560.2 404.4,560.5 409.2,564.2 414.0,568.9" fill="none" stroke="#ff9aa2" stroke-width="0.85" stroke-linejoin="round"/>
<polyline points="262.2,593.0 266.6,594.9 271.1,592.9 275.5,594.5 282.0,582.2 286.6,577.1 291.1,571.3 296.0,568.2 300.8,568.9 306.8,571.3 312.8,570.1 317.7,567.9 322.5,569.0 327.3,567.7 333.3,565.2 339.3,564.1 345.4,565.9 351.4,568.9 357.4,565.6 363.4,565.3 369.5,563.4 375.5,561.7 382.7,554.5" fill="none" stroke="#3a86ff" stroke-width="0.85" stroke-linejoin="round"/>
<polyline points="388.3,562.9 393.9,563.8 399.6,566.5 404.4,570.9 409.2,573.7 414.0,579.8" fill="none" stroke="#3a86ff" stroke-width="0.85" stroke-linejoin="round"/>
<path d="M262.0,595.4 C263.1,595.5 267.0,595.9 269.0,595.8 C271.0,595.7 273.9,596.3 275.5,595.0 C277.1,593.7 278.7,589.4 280.0,587.0 C281.3,584.6 282.8,581.1 284.2,579.0 C285.6,576.9 287.4,574.4 289.0,573.0 C290.6,571.6 292.8,570.4 294.7,569.4 C296.6,568.4 299.6,567.2 302.0,566.5 C304.4,565.8 306.9,565.2 310.4,564.7 C313.8,564.2 320.7,563.4 325.0,563.0 C329.3,562.6 334.1,562.2 339.3,562.0 C344.6,561.8 353.3,561.6 360.0,561.4 C366.7,561.2 380.4,560.8 384.0,560.7" fill="none" stroke="#000" stroke-width="2.4" stroke-linecap="round"/>
<path d="M388.0,560.0 C390.2,560.0 397.7,559.9 401.0,560.2 C404.3,560.5 405.8,561.2 408.0,562.0 C410.2,562.8 413.2,564.7 414.2,565.2" fill="none" stroke="#000" stroke-width="2.4" stroke-linecap="round"/>
<polyline points="262.5,651.6 265.5,651.9 268.7,654.8 271.2,655.6 274.5,656.6 276.9,655.6 279.8,657.2 282.4,655.5 286.0,656.5 289.1,656.7 292.3,656.7 294.5,655.6 298.1,655.4 301.4,657.2 304.7,657.0 307.1,656.8 309.5,657.3 311.8,656.3 315.1,656.2 318.0,657.2 320.7,656.5 323.3,657.3 326.0,657.0 328.9,655.8 332.3,658.6 335.0,657.1 337.3,657.7 339.8,656.8 343.4,656.6 345.7,657.7 348.7,657.0 351.4,656.4 353.8,656.8 356.1,657.6 359.3,656.6 361.6,656.5 364.3,657.5 366.7,657.1 370.2,656.8 372.5,658.7 375.6,658.1 378.0,657.2 380.8,656.9 383.1,658.3" fill="none" stroke="#ff6b6b" stroke-width="0.75" stroke-linejoin="round"/>
<polyline points="388.0,661.1 397.1,661.1 401.6,647.9 414.2,659.6" fill="none" stroke="#ff6b6b" stroke-width="0.75"/>
<polyline points="263.7,652.7 266.5,652.9 268.8,653.4 271.8,655.6 275.1,656.0 278.1,656.8 280.4,655.2 283.1,653.0 286.7,655.2 289.5,656.0 292.6,656.5 295.1,656.4 297.3,656.5 300.5,657.7 302.8,657.7 306.2,656.5 309.5,656.6 312.0,656.4 314.3,656.0 317.5,656.2 320.8,655.2 323.1,655.8 325.9,655.7 329.4,656.5 332.6,658.3 334.9,657.6 338.2,656.6 340.5,656.1 342.9,657.6 346.3,656.3 349.1,656.6 352.1,655.7 354.5,657.1 357.8,656.2 360.9,657.7 363.7,656.1 367.2,658.0 370.5,656.8 372.8,657.1 376.3,657.1 379.0,656.3 382.0,659.0" fill="none" stroke="#3fd6a0" stroke-width="0.75" stroke-linejoin="round"/>
<polyline points="388.0,660.0 397.1,660.0 401.6,631.5 414.2,651.5" fill="none" stroke="#3fd6a0" stroke-width="0.75"/>
<polyline points="263.8,652.6 267.2,654.4 269.4,654.3 272.0,654.5 275.3,656.4 278.8,657.4 282.1,656.6 285.5,655.9 288.9,656.3 292.3,656.0 294.9,655.3 297.3,655.6 299.7,656.4 303.0,657.4 306.0,656.8 309.2,656.7 311.7,657.3 315.0,657.5 317.3,656.6 320.7,657.5 323.7,657.0 327.1,658.3 330.0,657.1 333.0,657.9 335.5,658.1 338.6,654.6 341.4,656.0 344.3,658.0 347.9,658.3 350.7,659.0 354.0,659.0 356.4,657.9 359.3,658.2 361.5,660.7 364.9,659.2 367.8,658.3 371.1,658.7 373.9,660.2 377.3,658.8 380.8,659.3 383.3,659.6" fill="none" stroke="#3a55ff" stroke-width="0.75" stroke-linejoin="round"/>
<polyline points="388.0,660.7 397.1,660.7 401.6,643.8 414.2,654.3" fill="none" stroke="#3a55ff" stroke-width="0.75"/>
<polyline points="263.7,651.7 266.9,652.8 269.3,654.5 271.6,655.7 275.1,655.5 278.5,656.1 281.2,656.4 283.6,657.5 287.1,655.4 290.1,651.4 292.4,655.1 295.3,656.6 298.5,657.1 300.8,656.3 303.5,657.7 306.7,657.4 309.8,656.5 312.6,657.9 315.3,657.2 318.1,658.2 320.9,658.4 324.3,656.5 327.2,659.2 329.6,657.5 333.0,659.2 335.7,658.9 339.0,658.8 342.5,656.9 345.2,659.0 348.8,658.9 351.4,659.0 354.1,659.4 356.8,659.1 359.6,658.8 363.1,659.0 365.8,659.6 368.4,660.4 371.0,659.8 374.3,659.7 377.2,660.2 380.0,660.4 383.1,660.8" fill="none" stroke="#c77dff" stroke-width="0.75" stroke-linejoin="round"/>
<polyline points="388.0,667.4 397.1,667.4 401.6,652.0 414.2,664.6" fill="none" stroke="#c77dff" stroke-width="0.75"/>
<polyline points="262.2,652.1 264.8,653.7 267.5,653.9 270.9,655.3 274.5,656.4 277.3,656.9 280.2,655.5 283.5,656.5 287.0,656.6 289.3,657.6 292.0,657.1 295.4,657.9 298.3,657.7 301.4,658.3 304.8,659.0 308.0,657.7 310.5,659.3 313.5,659.6 316.0,658.9 319.2,656.8 322.1,651.3 325.0,656.3 327.7,659.6 331.2,661.1 333.6,659.2 336.0,661.1 339.1,660.6 342.7,661.8 344.9,660.8 348.3,660.4 351.0,663.1 353.3,660.8 356.0,661.7 359.5,663.1 362.8,662.5 366.2,661.3 368.9,663.0 371.7,662.9 373.9,662.4 376.5,662.0 378.8,662.1 381.4,662.2" fill="none" stroke="#ffe066" stroke-width="0.75" stroke-linejoin="round"/>
<polyline points="388.0,667.6 397.1,667.6 401.6,643.3 414.2,656.7" fill="none" stroke="#ffe066" stroke-width="0.75"/>
<polyline points="263.5,652.5 266.9,653.7 270.1,655.3 273.0,655.6 275.9,656.0 278.7,656.5 281.1,655.1 283.5,655.5 286.5,656.3 289.8,656.0 293.3,655.9 296.7,657.0 299.6,655.3 302.9,657.7 305.6,656.7 308.4,657.4 312.0,657.3 315.3,655.4 318.7,657.7 322.3,657.2 325.8,657.0 328.8,657.7 331.6,656.8 334.4,657.0 337.3,657.5 340.8,657.2 344.1,658.1 347.4,655.7 350.9,654.6 354.0,657.0 356.6,657.2 359.5,657.1 363.0,657.3 365.9,657.4 368.7,658.4 371.4,657.8 374.5,658.8 378.0,658.9 380.9,658.2 383.9,659.2" fill="none" stroke="#ff8fd0" stroke-width="0.75" stroke-linejoin="round"/>
<polyline points="388.0,661.0 397.1,661.0 401.6,645.1 414.2,653.5" fill="none" stroke="#ff8fd0" stroke-width="0.75"/>
<polyline points="262.8,652.3 265.6,652.9 268.8,654.8 271.8,655.9 274.5,656.3 277.4,655.7 280.7,656.9 283.2,656.4 286.1,657.1 289.6,656.3 292.1,657.1 294.7,656.4 297.3,657.0 299.6,656.3 301.8,655.7 304.5,654.8 307.6,651.3 310.3,656.0 313.6,654.8 316.7,656.7 320.2,656.1 322.6,657.6 325.1,656.7 328.5,656.8 330.8,658.2 334.4,656.0 337.0,656.6 340.2,656.6 343.0,657.9 345.9,657.8 348.3,655.7 350.7,658.8 354.1,657.4 356.4,658.6 359.8,657.6 362.5,657.4 365.2,657.1 368.3,657.9 370.5,658.1 373.3,656.2 375.9,657.1 378.7,658.2 381.4,658.7" fill="none" stroke="#00c878" stroke-width="0.75" stroke-linejoin="round"/>
<polyline points="388.0,667.8 397.1,667.8 401.6,652.7 414.2,660.7" fill="none" stroke="#00c878" stroke-width="0.75"/>
<polyline points="262.7,653.6 264.9,653.1 267.5,655.8 270.5,654.6 273.3,656.5 276.6,656.0 279.5,655.5 281.7,656.1 283.9,656.0 286.2,657.0 289.1,657.9 292.3,657.9 294.7,657.6 297.5,657.1 301.0,659.1 304.0,658.3 306.3,657.9 309.0,659.1 311.7,659.7 314.1,659.4 316.8,659.5 320.3,658.5 323.4,660.6 326.3,661.1 329.8,660.9 332.5,662.4 334.9,662.1 337.9,661.3 341.1,661.6 343.3,663.7 346.2,662.9 349.7,663.0 351.9,663.5 354.2,664.0 357.2,664.6 360.6,664.3 363.0,663.2 365.5,663.5 368.4,663.7 371.3,664.3 374.8,664.2 377.7,663.5 381.1,664.5" fill="none" stroke="#3a86ff" stroke-width="0.75" stroke-linejoin="round"/>
<polyline points="388.0,665.5 397.1,665.5 401.6,652.3 414.2,659.4" fill="none" stroke="#3a86ff" stroke-width="0.75"/>
<polyline points="262.5,652.2 265.9,654.0 269.0,654.2 271.7,655.9 274.0,656.4 277.5,655.5 280.3,655.9 282.6,655.9 286.1,656.7 289.6,655.9 292.9,656.2 296.4,657.5 299.3,657.1 302.1,656.5 305.3,656.8 308.7,657.4 311.6,657.0 314.0,656.4 316.7,657.6 319.3,658.7 322.3,657.6 325.1,657.6 327.8,657.4 331.2,657.2 333.9,657.1 336.5,657.6 339.0,658.2 341.7,657.5 344.1,657.2 346.7,657.0 350.1,657.9 353.4,658.0 356.8,657.9 360.0,658.2 362.7,658.3 366.2,657.8 369.1,658.1 371.5,658.9 374.7,658.1 377.7,659.8 380.4,658.4 382.9,659.5" fill="none" stroke="#ff9aa2" stroke-width="0.75" stroke-linejoin="round"/>
<polyline points="388.0,661.0 397.1,661.0 401.6,651.2 414.2,661.5" fill="none" stroke="#ff9aa2" stroke-width="0.75"/>
<polyline points="262.5,653.3 264.9,653.4 267.2,653.9 270.5,653.9 273.0,656.1 275.3,657.3 278.8,656.6 281.2,655.2 284.4,657.1 287.8,657.2 290.5,656.2 293.4,658.4 296.5,656.6 300.0,656.8 302.4,657.2 305.6,659.2 309.0,659.6 311.9,658.9 315.5,657.8 317.8,660.1 320.4,659.3 322.9,660.5 326.1,659.0 328.9,660.6 332.1,660.9 335.1,661.4 338.2,661.5 340.7,660.6 343.6,659.5 346.8,661.1 349.8,661.9 353.0,661.5 356.2,662.9 359.2,661.1 362.3,663.0 364.6,661.9 367.2,662.3 370.7,661.7 373.5,662.3 376.6,660.0 379.1,661.9 382.6,662.6" fill="none" stroke="#9be36d" stroke-width="0.75" stroke-linejoin="round"/>
<polyline points="388.0,662.7 397.1,662.7 401.6,651.0 414.2,662.6" fill="none" stroke="#9be36d" stroke-width="0.75"/>
<polyline points="263.7,652.5 266.8,653.6 270.2,655.1 272.7,654.6 276.2,656.4 278.6,655.4 281.1,656.4 283.6,656.0 287.2,657.0 289.5,657.4 292.6,657.7 295.5,658.0 298.4,657.4 301.5,657.5 303.9,657.0 306.3,657.0 309.5,657.6 312.6,658.0 314.9,656.9 318.1,659.3 320.5,660.0 323.3,658.7 325.8,658.9 328.6,659.0 330.9,659.7 333.3,659.0 335.9,659.9 338.7,659.6 341.7,659.6 344.0,660.9 346.8,660.9 350.1,660.2 352.7,660.4 355.9,660.0 359.4,659.4 362.0,660.8 364.7,661.3 367.8,661.3 371.0,660.7 373.3,660.2 376.6,662.0 379.0,661.5 381.7,662.3" fill="none" stroke="#f4a261" stroke-width="0.75" stroke-linejoin="round"/>
<polyline points="388.0,665.5 397.1,665.5 401.6,644.6 414.2,656.4" fill="none" stroke="#f4a261" stroke-width="0.75"/>
<polyline points="262.6,652.1 265.1,653.6 267.8,653.9 270.8,654.2 273.3,656.5 275.6,655.1 278.9,655.8 282.1,657.8 285.0,655.6 287.9,657.0 290.9,657.4 293.2,656.9 296.0,656.8 299.6,657.6 302.4,657.7 304.9,657.7 308.3,657.9 311.6,658.3 314.2,657.6 317.4,657.7 320.0,658.5 322.9,658.1 326.3,657.8 328.8,658.9 331.7,660.0 334.4,659.5 337.1,659.8 339.9,661.2 343.3,659.6 346.9,661.0 350.2,660.0 352.5,659.9 355.1,659.6 358.1,661.3 361.2,660.4 363.9,659.9 366.1,662.0 368.6,660.6 370.9,660.3 374.0,660.4 376.8,661.9 379.7,660.6 382.1,661.1" fill="none" stroke="#e040fb" stroke-width="0.75" stroke-linejoin="round"/>
<polyline points="388.0,667.1 397.1,667.1 401.6,651.8 414.2,658.7" fill="none" stroke="#e040fb" stroke-width="0.75"/>
<polyline points="263.7,653.1 266.9,655.0 269.4,653.9 272.6,655.6 275.8,656.8 279.2,655.7 282.4,656.4 285.3,656.0 288.2,657.3 291.3,655.0 294.8,655.7 298.0,656.5 300.9,657.0 303.8,656.5 306.1,656.0 308.9,657.4 311.2,657.8 314.7,657.1 317.6,657.1 321.0,657.1 323.3,657.4 325.7,656.9 328.9,656.5 332.3,657.5 335.6,657.0 338.2,656.9 340.7,656.2 343.4,657.0 346.3,657.4 349.0,656.5 351.7,657.1 355.1,657.2 357.7,656.8 359.9,658.4 363.5,656.5 366.4,658.2 368.7,657.8 372.2,658.3 375.6,657.4 378.6,657.0 381.2,659.4 383.8,658.3" fill="none" stroke="#5b5bf0" stroke-width="0.75" stroke-linejoin="round"/>
<polyline points="388.0,660.2 397.1,660.2 401.6,658.9 414.2,668.8" fill="none" stroke="#5b5bf0" stroke-width="0.75"/>
<path d="M262.0,652.0 C262.8,652.3 266.2,654.0 268.0,654.5 C269.8,655.0 271.9,655.7 275.5,656.0 C279.1,656.3 289.6,656.7 295.0,657.0 C300.4,657.3 308.4,657.7 315.7,658.0 C323.0,658.3 340.9,659.1 350.0,659.5 C359.1,659.9 379.5,660.5 384.0,660.7" fill="none" stroke="#000" stroke-width="2.4" stroke-linecap="round"/>
<polyline points="388.0,663.9 397.1,663.9 401.6,649.4 406.3,657.3 414.2,660.7" fill="none" stroke="#000" stroke-width="2.4" stroke-linejoin="round" stroke-linecap="round"/>
</g>
<g id="pi">
<text x="462.8" y="542.8" font-size="16" font-weight="bold">i</text>
<line x1="485.2" y1="536.5" x2="492.0" y2="536.5" stroke="#595959" stroke-width="1.4"/>
<text x="494.6" y="537.9" font-size="9.8" stroke="#000" stroke-width="0.22">Cell 1</text>
<line x1="525.5" y1="536.5" x2="532.0" y2="536.5" stroke="#e0185f" stroke-width="1.4"/>
<text x="535.6" y="537.9" font-size="9.8" fill="#e0185f" stroke="#e0185f" stroke-width="0.11">Cell 2</text>
<line x1="567.5" y1="536.5" x2="574.0" y2="536.5" stroke="#b35ce6" stroke-width="1.4"/>
<text x="576.6" y="537.9" font-size="9.8" fill="#b35ce6" stroke="#b35ce6" stroke-width="0.11">Cell 3</text>
<text x="591.0" y="525.8" font-size="9.8" fill="#c9a13c" stroke="#c9a13c" stroke-width="0.11">10 µM ATP</text>
<rect x="627.3" y="531.8" width="14.1" height="5.7" fill="#f2b93f"/>
<rect x="505.4" y="538.7" width="136.0" height="141.2" fill="#e6e7e8"/>
<text x="508.7" y="550.0" font-size="10" stroke="#000" stroke-width="0.22">Hypotonic</text>
<line x1="488.6" y1="548.6" x2="488.6" y2="605.3" stroke="#000" stroke-width="1.4"/>
<line x1="485.8" y1="604.8" x2="488.6" y2="604.8" stroke="#000" stroke-width="1.1"/>
<line x1="485.8" y1="558.0" x2="488.6" y2="558.0" stroke="#000" stroke-width="1.1"/>
<line x1="485.8" y1="576.8" x2="488.6" y2="576.8" stroke="#000" stroke-width="1.1"/>
<line x1="485.8" y1="595.6" x2="488.6" y2="595.6" stroke="#000" stroke-width="1.1"/>
<text x="481.9" y="562.7" font-size="9.8" text-anchor="end" stroke="#000" stroke-width="0.22">1.2</text>
<text x="481.9" y="599.6" font-size="9.8" text-anchor="end" stroke="#000" stroke-width="0.22">1</text>
<line x1="488.6" y1="623.8" x2="488.6" y2="679.3" stroke="#000" stroke-width="1.4"/>
<line x1="485.8" y1="624.3" x2="488.6" y2="624.3" stroke="#000" stroke-width="1.1"/>
<line x1="485.8" y1="644.3" x2="488.6" y2="644.3" stroke="#000" stroke-width="1.1"/>
<line x1="485.8" y1="664.5" x2="488.6" y2="664.5" stroke="#000" stroke-width="1.1"/>
<text x="481.9" y="628.5" font-size="9.8" text-anchor="end" stroke="#000" stroke-width="0.22">0.2</text>
<text x="481.9" y="668.8" font-size="9.8" text-anchor="end" stroke="#000" stroke-width="0.22">0</text>
<line x1="492.6" y1="680.6" x2="609.5" y2="680.6" stroke="#000" stroke-width="1.4"/>
<line x1="493.2" y1="680.6" x2="493.2" y2="684.0" stroke="#000" stroke-width="1.2"/>
<line x1="612.0" y1="680.6" x2="641.4" y2="680.6" stroke="#000" stroke-width="1.4"/>
<line x1="521.5" y1="680.6" x2="521.5" y2="684.0" stroke="#000" stroke-width="1.2"/>
<line x1="552.4" y1="680.6" x2="552.4" y2="684.0" stroke="#000" stroke-width="1.2"/>
<line x1="583.3" y1="680.6" x2="583.3" y2="684.0" stroke="#000" stroke-width="1.2"/>
<line x1="609.0" y1="680.6" x2="609.0" y2="684.0" stroke="#000" stroke-width="1.2"/>
<line x1="612.5" y1="680.6" x2="612.5" y2="684.0" stroke="#000" stroke-width="1.2"/>
<line x1="634.6" y1="680.6" x2="634.6" y2="684.0" stroke="#000" stroke-width="1.2"/>
<line x1="641.0" y1="680.6" x2="641.0" y2="684.0" stroke="#000" stroke-width="1.2"/>
<text x="521.5" y="694.0" font-size="9.8" text-anchor="middle" stroke="#000" stroke-width="0.22">10</text>
<text x="552.4" y="694.0" font-size="9.8" text-anchor="middle" stroke="#000" stroke-width="0.22">20</text>
<text x="583.3" y="694.0" font-size="9.8" text-anchor="middle" stroke="#000" stroke-width="0.22">30</text>
<text x="634.6" y="694.0" font-size="9.8" text-anchor="middle" stroke="#000" stroke-width="0.22">70</text>
<text x="565.5" y="705.8" font-size="9.8" text-anchor="middle" stroke="#000" stroke-width="0.22">Time (min)</text>
<line x1="489.0" y1="595.6" x2="641.4" y2="595.6" stroke="#111" stroke-width="0.8" stroke-dasharray="1.3,1.3"/>
<line x1="524.5" y1="571.0" x2="524.5" y2="631.0" stroke="#333" stroke-width="0.7" stroke-dasharray="2.5,1.8"/>
<line x1="533.2" y1="582.0" x2="533.2" y2="632.6" stroke="#e0185f" stroke-width="0.7" stroke-dasharray="2.5,1.8"/>
<line x1="592.0" y1="571.0" x2="592.0" y2="653.0" stroke="#b35ce6" stroke-width="0.7" stroke-dasharray="2.5,1.8"/>
<polyline points="493.0,594.0 496.0,593.0 499.0,594.5 502.0,597.0 505.0,599.0 508.0,588.0 512.0,572.0 517.0,563.7 523.0,561.5 530.6,559.4 537.0,558.5 544.0,557.7 550.0,559.0 555.7,560.4 562.0,562.0 569.2,563.0 576.0,565.0 582.6,565.4 588.0,567.5 592.7,569.8 594.0,574.0 595.4,580.5 599.4,590.6 604.4,594.6 607.8,594.6" fill="none" stroke="#b35ce6" stroke-width="1.45" stroke-linejoin="round" stroke-linecap="round"/>
<polyline points="612.8,581.5 620.0,582.5 628.0,580.5 634.0,582.6 641.4,582.2" fill="none" stroke="#b35ce6" stroke-width="1.45" stroke-linejoin="round" stroke-linecap="round"/>
<polyline points="493.0,596.6 499.0,595.5 505.0,592.3 510.4,575.5 514.0,571.0 517.0,569.8 522.2,569.1 524.8,572.0 527.2,580.5 530.0,585.5 534.0,588.0 539.0,587.8 544.0,587.2 550.0,586.5 555.7,584.5 561.0,582.5 565.8,581.2 572.0,582.0 580.0,581.0 589.3,580.5 596.0,580.0 602.8,579.8 606.0,580.8 611.0,578.8" fill="none" stroke="#595959" stroke-width="1.45" stroke-linejoin="round" stroke-linecap="round"/>
<polyline points="612.8,577.2 621.0,577.2 629.6,576.5 636.3,578.8 641.4,585.6" fill="none" stroke="#595959" stroke-width="1.45" stroke-linejoin="round" stroke-linecap="round"/>
<polyline points="493.0,598.0 499.0,596.0 505.0,593.3 510.4,582.2 514.0,582.5 517.0,581.2 522.2,579.8 527.2,581.2 532.9,579.8 537.3,584.5 544.0,588.9 550.7,592.3 558.0,592.8 565.8,592.6 575.0,592.0 582.0,591.0 589.3,590.6 596.0,590.2 602.8,589.0 611.0,589.6" fill="none" stroke="#e0185f" stroke-width="1.45" stroke-linejoin="round" stroke-linecap="round"/>
<polyline points="612.8,591.6 621.0,592.0 629.6,591.6 636.0,595.0 641.4,598.0" fill="none" stroke="#e0185f" stroke-width="1.45" stroke-linejoin="round" stroke-linecap="round"/>
<polyline points="493.0,662.0 499.0,663.5 505.4,664.5 511.0,667.0 517.0,668.8 530.0,669.3 545.7,669.5 549.0,667.2 552.4,669.8 560.0,672.0 569.2,673.9 578.0,675.3 587.6,676.6 590.3,667.2 592.0,653.7 595.4,655.4 597.0,663.0 598.7,670.5 604.0,671.2 609.5,671.5" fill="none" stroke="#b35ce6" stroke-width="1.45" stroke-linejoin="round" stroke-linecap="round"/>
<polyline points="612.0,673.9 629.0,674.5 630.3,680.6 634.6,648.7 641.4,651.0" fill="none" stroke="#b35ce6" stroke-width="1.45" stroke-linejoin="round" stroke-linecap="round"/>
<polyline points="493.0,661.5 499.0,663.0 505.0,664.8 511.0,666.0 517.0,667.2 520.5,657.0 522.2,643.0 523.8,632.0 527.2,631.0 530.6,635.3 533.0,645.3 535.6,643.7 537.5,652.0 539.0,658.8 542.3,662.0 547.3,667.2 551.0,668.5 555.7,668.2 559.0,668.0 562.5,666.5 566.0,668.6 569.2,669.8 580.0,670.2 589.3,670.5 600.0,671.0 609.5,671.2" fill="none" stroke="#595959" stroke-width="1.45" stroke-linejoin="round" stroke-linecap="round"/>
<polyline points="612.0,673.2 629.6,673.2 634.6,642.0 641.4,644.3" fill="none" stroke="#595959" stroke-width="1.45" stroke-linejoin="round" stroke-linecap="round"/>
<polyline points="493.0,660.4 499.0,663.0 505.4,664.5 512.0,663.0 516.0,663.6 520.5,663.8 525.5,658.8 529.5,643.7 533.2,632.6 537.3,632.6 542.3,640.3 549.0,653.7 555.7,663.8 562.5,668.2 569.0,670.0 575.9,671.2 586.0,671.8 596.0,672.2 609.5,673.2" fill="none" stroke="#e0185f" stroke-width="1.45" stroke-linejoin="round" stroke-linecap="round"/>
<polyline points="612.0,675.9 629.6,675.6 634.6,639.6 641.4,642.0" fill="none" stroke="#e0185f" stroke-width="1.45" stroke-linejoin="round" stroke-linecap="round"/>
</g>
<g id="pj">
<text x="20.0" y="730.0" font-size="16" font-weight="bold">j</text>
<line x1="85.7" y1="731.3" x2="85.7" y2="850.0" stroke="#000" stroke-width="1.4"/>
<line x1="85.0" y1="849.3" x2="200.3" y2="849.3" stroke="#000" stroke-width="1.4"/>
<line x1="83.3" y1="834.3" x2="85.7" y2="834.3" stroke="#000" stroke-width="1.1"/>
<line x1="83.3" y1="805.0" x2="85.7" y2="805.0" stroke="#000" stroke-width="1.1"/>
<line x1="83.3" y1="775.7" x2="85.7" y2="775.7" stroke="#000" stroke-width="1.1"/>
<line x1="83.3" y1="746.4" x2="85.7" y2="746.4" stroke="#000" stroke-width="1.1"/>
<line x1="99.4" y1="849.3" x2="99.4" y2="852.0" stroke="#000" stroke-width="1.1"/>
<line x1="128.0" y1="849.3" x2="128.0" y2="852.0" stroke="#000" stroke-width="1.1"/>
<line x1="156.6" y1="849.3" x2="156.6" y2="852.0" stroke="#000" stroke-width="1.1"/>
<line x1="185.2" y1="849.3" x2="185.2" y2="852.0" stroke="#000" stroke-width="1.1"/>
<text x="82.2" y="750.2" font-size="9.8" text-anchor="end" stroke="#000" stroke-width="0.22">40</text>
<text x="82.2" y="808.5" font-size="9.8" text-anchor="end" stroke="#000" stroke-width="0.22">20</text>
<text x="82.2" y="855.3" font-size="9.8" text-anchor="end" stroke="#000" stroke-width="0.22">0</text>
<text x="128.0" y="861.9" font-size="9.8" text-anchor="middle" stroke="#000" stroke-width="0.22">20</text>
<text x="185.2" y="861.9" font-size="9.8" text-anchor="middle" stroke="#000" stroke-width="0.22">40</text>
<text x="140.5" y="874.4" font-size="9.8" text-anchor="middle" stroke="#000" stroke-width="0.22">Starting RVD (min)</text>
<text x="50.3" y="799.0" font-size="9.8" text-anchor="middle" stroke="#000" stroke-width="0.22" transform="rotate(-90 50.3 799.0)">Maximal ATP release</text>
<text x="62.5" y="797.5" font-size="9.8" text-anchor="middle" stroke="#000" stroke-width="0.22" transform="rotate(-90 62.5 797.5)">(min)</text>
<text x="99.2" y="741.7" font-size="9.8" stroke="#000" stroke-width="0.22">R<tspan font-size="6" dy="-3.5">2</tspan><tspan dy="3.5"> = 0.9762</tspan></text>
<line x1="93.5" y1="839.0" x2="200.3" y2="731.3" stroke="#ed1c24" stroke-width="1.2"/>
<circle cx="93.7" cy="843.1" r="1.15" fill="#000"/>
<circle cx="96.5" cy="843.1" r="1.15" fill="#000"/>
<circle cx="96.5" cy="834.3" r="1.15" fill="#000"/>
<circle cx="99.4" cy="831.4" r="1.15" fill="#000"/>
<circle cx="99.4" cy="828.4" r="1.15" fill="#000"/>
<circle cx="102.3" cy="831.4" r="1.15" fill="#000"/>
<circle cx="102.3" cy="825.5" r="1.15" fill="#000"/>
<circle cx="105.1" cy="828.4" r="1.15" fill="#000"/>
<circle cx="105.1" cy="825.5" r="1.15" fill="#000"/>
<circle cx="105.1" cy="822.6" r="1.15" fill="#000"/>
<circle cx="108.0" cy="835.8" r="1.15" fill="#000"/>
<circle cx="108.0" cy="828.4" r="1.15" fill="#000"/>
<circle cx="108.0" cy="825.5" r="1.15" fill="#000"/>
<circle cx="108.0" cy="819.6" r="1.15" fill="#000"/>
<circle cx="110.8" cy="825.5" r="1.15" fill="#000"/>
<circle cx="110.8" cy="822.6" r="1.15" fill="#000"/>
<circle cx="110.8" cy="819.6" r="1.15" fill="#000"/>
<circle cx="110.8" cy="816.7" r="1.15" fill="#000"/>
<circle cx="110.8" cy="813.8" r="1.15" fill="#000"/>
<circle cx="113.7" cy="825.5" r="1.15" fill="#000"/>
<circle cx="113.7" cy="816.7" r="1.15" fill="#000"/>
<circle cx="113.7" cy="810.9" r="1.15" fill="#000"/>
<circle cx="116.6" cy="816.7" r="1.15" fill="#000"/>
<circle cx="116.6" cy="813.8" r="1.15" fill="#000"/>
<circle cx="119.4" cy="819.6" r="1.15" fill="#000"/>
<circle cx="119.4" cy="816.7" r="1.15" fill="#000"/>
<circle cx="119.4" cy="813.8" r="1.15" fill="#000"/>
<circle cx="128.0" cy="802.1" r="1.15" fill="#000"/>
<circle cx="130.9" cy="805.0" r="1.15" fill="#000"/>
<circle cx="130.9" cy="799.1" r="1.15" fill="#000"/>
<circle cx="156.6" cy="775.7" r="1.15" fill="#000"/>
<circle cx="168.0" cy="769.8" r="1.15" fill="#000"/>
<circle cx="193.8" cy="734.7" r="1.15" fill="#000"/>
</g>
<g id="pk">
<text x="239.0" y="731.1" font-size="16" font-weight="bold">k</text>
<line x1="323.0" y1="733.4" x2="323.0" y2="850.0" stroke="#000" stroke-width="1.4"/>
<line x1="318.0" y1="849.3" x2="323.0" y2="849.3" stroke="#000" stroke-width="1.4"/>
<text x="313.0" y="853.3" font-size="9.8" text-anchor="end" stroke="#000" stroke-width="0.22">0</text>
<line x1="318.0" y1="810.9" x2="323.0" y2="810.9" stroke="#000" stroke-width="1.4"/>
<text x="313.0" y="814.9" font-size="9.8" text-anchor="end" stroke="#000" stroke-width="0.22">0.1</text>
<line x1="318.0" y1="772.5" x2="323.0" y2="772.5" stroke="#000" stroke-width="1.4"/>
<text x="313.0" y="776.5" font-size="9.8" text-anchor="end" stroke="#000" stroke-width="0.22">0.2</text>
<line x1="318.0" y1="734.1" x2="323.0" y2="734.1" stroke="#000" stroke-width="1.4"/>
<text x="313.0" y="738.1" font-size="9.8" text-anchor="end" stroke="#000" stroke-width="0.22">0.3</text>
<text x="288.8" y="791.0" font-size="9.8" text-anchor="middle" stroke="#000" stroke-width="0.22" transform="rotate(-90 288.8 791.0)">ATP (µmol/g prot.)</text>
<rect x="333.4" y="841.0" width="21.6" height="8.3" fill="#4d4d4d" stroke="#222" stroke-width="0.9"/>
<line x1="344.2" y1="834.2" x2="344.2" y2="848.5" stroke="#000" stroke-width="0.8"/>
<line x1="339.4" y1="834.2" x2="349.0" y2="834.2" stroke="#000" stroke-width="0.8"/>
<line x1="339.4" y1="848.5" x2="349.0" y2="848.5" stroke="#000" stroke-width="0.8"/>
<circle cx="344.2" cy="847.8" r="1.6" fill="#000"/>
<circle cx="341.0" cy="847.8" r="1.6" fill="#000"/>
<circle cx="347.4" cy="847.7" r="1.6" fill="#000"/>
<circle cx="337.8" cy="847.7" r="1.6" fill="#000"/>
<circle cx="350.6" cy="847.3" r="1.6" fill="#000"/>
<circle cx="352.8" cy="845.5" r="1.6" fill="#000"/>
<circle cx="344.2" cy="844.2" r="1.6" fill="#000"/>
<circle cx="341.0" cy="843.1" r="1.6" fill="#000"/>
<circle cx="347.4" cy="843.0" r="1.6" fill="#000"/>
<circle cx="337.8" cy="842.1" r="1.6" fill="#000"/>
<circle cx="350.6" cy="841.9" r="1.6" fill="#000"/>
<circle cx="344.2" cy="839.7" r="1.6" fill="#000"/>
<circle cx="341.0" cy="839.3" r="1.6" fill="#000"/>
<circle cx="347.4" cy="839.2" r="1.6" fill="#000"/>
<circle cx="337.8" cy="838.1" r="1.6" fill="#000"/>
<circle cx="350.6" cy="836.7" r="1.6" fill="#000"/>
<circle cx="352.8" cy="836.7" r="1.6" fill="#000"/>
<circle cx="344.2" cy="836.1" r="1.6" fill="#000"/>
<circle cx="341.0" cy="834.0" r="1.6" fill="#000"/>
<circle cx="344.2" cy="828.8" r="1.6" fill="#000"/>
<rect x="364.3" y="835.2" width="21.2" height="14.1" fill="#e2e2e2" stroke="#8a8a8a" stroke-width="0.9"/>
<line x1="374.9" y1="829.0" x2="374.9" y2="841.0" stroke="#000" stroke-width="0.8"/>
<line x1="370.1" y1="829.0" x2="379.7" y2="829.0" stroke="#000" stroke-width="0.8"/>
<line x1="370.1" y1="841.0" x2="379.7" y2="841.0" stroke="#000" stroke-width="0.8"/>
<circle cx="374.9" cy="842.7" r="1.6" fill="#000"/>
<circle cx="371.7" cy="841.3" r="1.6" fill="#000"/>
<circle cx="378.1" cy="841.1" r="1.6" fill="#000"/>
<circle cx="374.9" cy="838.4" r="1.6" fill="#000"/>
<circle cx="371.7" cy="836.5" r="1.6" fill="#000"/>
<circle cx="378.1" cy="835.8" r="1.6" fill="#000"/>
<circle cx="368.5" cy="835.4" r="1.6" fill="#000"/>
<circle cx="374.9" cy="835.1" r="1.6" fill="#000"/>
<circle cx="381.3" cy="834.7" r="1.6" fill="#000"/>
<circle cx="383.5" cy="834.5" r="1.6" fill="#000"/>
<circle cx="383.5" cy="834.2" r="1.6" fill="#000"/>
<circle cx="383.5" cy="833.9" r="1.6" fill="#000"/>
<circle cx="371.7" cy="832.2" r="1.6" fill="#000"/>
<circle cx="378.1" cy="832.1" r="1.6" fill="#000"/>
<circle cx="374.9" cy="830.5" r="1.6" fill="#000"/>
<rect x="394.5" y="840.3" width="21.9" height="9.0" fill="#a6a6a6" stroke="#777" stroke-width="0.9"/>
<line x1="405.4" y1="835.0" x2="405.4" y2="847.0" stroke="#000" stroke-width="0.8"/>
<line x1="400.6" y1="835.0" x2="410.2" y2="835.0" stroke="#000" stroke-width="0.8"/>
<line x1="400.6" y1="847.0" x2="410.2" y2="847.0" stroke="#000" stroke-width="0.8"/>
<circle cx="405.4" cy="846.2" r="1.6" fill="#000"/>
<circle cx="402.2" cy="844.7" r="1.6" fill="#000"/>
<circle cx="408.6" cy="843.8" r="1.6" fill="#000"/>
<circle cx="405.4" cy="842.9" r="1.6" fill="#000"/>
<circle cx="399.1" cy="842.4" r="1.6" fill="#000"/>
<circle cx="402.2" cy="841.4" r="1.6" fill="#000"/>
<circle cx="408.6" cy="840.5" r="1.6" fill="#000"/>
<circle cx="411.8" cy="840.3" r="1.6" fill="#000"/>
<circle cx="396.8" cy="840.1" r="1.6" fill="#000"/>
<circle cx="405.4" cy="839.6" r="1.6" fill="#000"/>
<circle cx="414.1" cy="839.1" r="1.6" fill="#000"/>
<circle cx="414.1" cy="838.4" r="1.6" fill="#000"/>
<circle cx="402.2" cy="837.5" r="1.6" fill="#000"/>
<circle cx="408.6" cy="837.0" r="1.6" fill="#000"/>
<circle cx="399.1" cy="836.9" r="1.6" fill="#000"/>
<circle cx="405.4" cy="836.2" r="1.6" fill="#000"/>
<circle cx="411.8" cy="835.7" r="1.6" fill="#000"/>
<circle cx="414.1" cy="835.5" r="1.6" fill="#000"/>
<circle cx="405.4" cy="831.5" r="1.6" fill="#000"/>
<circle cx="405.4" cy="824.9" r="1.6" fill="#000"/>
<rect x="430.0" y="818.4" width="21.4" height="30.9" fill="#ff0000" stroke="#000" stroke-width="0.9"/>
<line x1="440.7" y1="805.0" x2="440.7" y2="832.5" stroke="#000" stroke-width="0.8"/>
<line x1="435.9" y1="805.0" x2="445.5" y2="805.0" stroke="#000" stroke-width="0.8"/>
<line x1="435.9" y1="832.5" x2="445.5" y2="832.5" stroke="#000" stroke-width="0.8"/>
<circle cx="440.7" cy="830.2" r="1.6" fill="#000"/>
<circle cx="437.5" cy="828.2" r="1.6" fill="#000"/>
<circle cx="440.7" cy="826.7" r="1.6" fill="#000"/>
<circle cx="437.5" cy="825.0" r="1.6" fill="#000"/>
<circle cx="443.9" cy="824.8" r="1.6" fill="#000"/>
<circle cx="440.7" cy="822.7" r="1.6" fill="#000"/>
<circle cx="437.5" cy="820.5" r="1.6" fill="#000"/>
<circle cx="443.9" cy="820.1" r="1.6" fill="#000"/>
<circle cx="434.3" cy="819.9" r="1.6" fill="#000"/>
<circle cx="440.7" cy="819.3" r="1.6" fill="#000"/>
<circle cx="447.1" cy="817.7" r="1.6" fill="#000"/>
<circle cx="437.5" cy="817.4" r="1.6" fill="#000"/>
<circle cx="443.9" cy="817.0" r="1.6" fill="#000"/>
<circle cx="434.3" cy="816.7" r="1.6" fill="#000"/>
<circle cx="449.3" cy="816.4" r="1.6" fill="#000"/>
<circle cx="440.7" cy="815.2" r="1.6" fill="#000"/>
<circle cx="440.7" cy="811.0" r="1.6" fill="#000"/>
<circle cx="440.7" cy="807.8" r="1.6" fill="#000"/>
<rect x="461.0" y="834.2" width="21.0" height="15.1" fill="#f9bcbc" stroke="#8a8a8a" stroke-width="0.9"/>
<line x1="471.5" y1="828.5" x2="471.5" y2="840.0" stroke="#000" stroke-width="0.8"/>
<line x1="466.7" y1="828.5" x2="476.3" y2="828.5" stroke="#000" stroke-width="0.8"/>
<line x1="466.7" y1="840.0" x2="476.3" y2="840.0" stroke="#000" stroke-width="0.8"/>
<circle cx="471.5" cy="833.5" r="1.6" fill="#000"/>
<circle cx="468.3" cy="831.4" r="1.6" fill="#000"/>
<circle cx="474.7" cy="831.1" r="1.6" fill="#000"/>
<circle cx="465.1" cy="831.0" r="1.6" fill="#000"/>
<circle cx="471.5" cy="830.2" r="1.6" fill="#000"/>
<circle cx="477.9" cy="829.9" r="1.6" fill="#000"/>
<circle cx="468.3" cy="827.9" r="1.6" fill="#000"/>
<circle cx="471.5" cy="826.8" r="1.6" fill="#000"/>
<rect x="491.2" y="837.6" width="21.1" height="11.7" fill="#f08484" stroke="#c06060" stroke-width="0.9"/>
<line x1="501.8" y1="832.5" x2="501.8" y2="842.6" stroke="#000" stroke-width="0.8"/>
<line x1="496.9" y1="832.5" x2="506.6" y2="832.5" stroke="#000" stroke-width="0.8"/>
<line x1="496.9" y1="842.6" x2="506.6" y2="842.6" stroke="#000" stroke-width="0.8"/>
<circle cx="501.8" cy="841.7" r="1.6" fill="#000"/>
<circle cx="498.6" cy="840.8" r="1.6" fill="#000"/>
<circle cx="504.9" cy="840.2" r="1.6" fill="#000"/>
<circle cx="495.4" cy="838.9" r="1.6" fill="#000"/>
<circle cx="501.8" cy="838.2" r="1.6" fill="#000"/>
<circle cx="498.6" cy="837.3" r="1.6" fill="#000"/>
<circle cx="508.1" cy="837.2" r="1.6" fill="#000"/>
<circle cx="504.9" cy="836.9" r="1.6" fill="#000"/>
<circle cx="495.4" cy="835.2" r="1.6" fill="#000"/>
<circle cx="501.8" cy="834.8" r="1.6" fill="#000"/>
<circle cx="510.4" cy="834.4" r="1.6" fill="#000"/>
<circle cx="501.8" cy="831.6" r="1.6" fill="#000"/>
<circle cx="498.6" cy="831.0" r="1.6" fill="#000"/>
<circle cx="504.9" cy="829.4" r="1.6" fill="#000"/>
<rect x="526.8" y="768.0" width="20.8" height="81.3" fill="#0000ff" stroke="#000" stroke-width="0.9"/>
<line x1="537.2" y1="752.0" x2="537.2" y2="784.8" stroke="#000" stroke-width="0.8"/>
<line x1="532.4" y1="752.0" x2="542.0" y2="752.0" stroke="#000" stroke-width="0.8"/>
<line x1="532.4" y1="784.8" x2="542.0" y2="784.8" stroke="#000" stroke-width="0.8"/>
<rect x="557.0" y="827.5" width="21.5" height="21.8" fill="#c9c9f7" stroke="#8a8ad0" stroke-width="0.9"/>
<line x1="567.8" y1="815.7" x2="567.8" y2="838.6" stroke="#000" stroke-width="0.8"/>
<line x1="563.0" y1="815.7" x2="572.5" y2="815.7" stroke="#000" stroke-width="0.8"/>
<line x1="563.0" y1="838.6" x2="572.5" y2="838.6" stroke="#000" stroke-width="0.8"/>
<rect x="587.9" y="828.5" width="21.1" height="20.8" fill="#8282ee" stroke="#6a6ad8" stroke-width="0.9"/>
<line x1="598.5" y1="817.4" x2="598.5" y2="840.0" stroke="#000" stroke-width="0.8"/>
<line x1="593.7" y1="817.4" x2="603.2" y2="817.4" stroke="#000" stroke-width="0.8"/>
<line x1="593.7" y1="840.0" x2="603.2" y2="840.0" stroke="#000" stroke-width="0.8"/>
<circle cx="341.0" cy="819.5" r="1.6" fill="#000"/>
<circle cx="341.0" cy="824.0" r="1.6" fill="#000"/>
<circle cx="440.7" cy="779.8" r="1.6" fill="#000"/>
<circle cx="440.7" cy="800.6" r="1.6" fill="#000"/>
<circle cx="533.2" cy="747.0" r="1.7" fill="#000"/>
<circle cx="541.0" cy="747.0" r="1.7" fill="#000"/>
<circle cx="537.2" cy="755.0" r="1.7" fill="#000"/>
<circle cx="537.2" cy="762.0" r="1.7" fill="#000"/>
<circle cx="537.2" cy="768.0" r="1.7" fill="#000"/>
<circle cx="537.2" cy="773.0" r="1.7" fill="#000"/>
<circle cx="537.2" cy="778.0" r="1.7" fill="#000"/>
<circle cx="537.2" cy="784.0" r="1.7" fill="#000"/>
<circle cx="533.0" cy="788.0" r="1.7" fill="#000"/>
<circle cx="541.0" cy="788.0" r="1.7" fill="#000"/>
<circle cx="563.5" cy="810.7" r="1.7" fill="#000"/>
<circle cx="572.0" cy="812.0" r="1.7" fill="#000"/>
<circle cx="567.0" cy="823.0" r="1.7" fill="#000"/>
<circle cx="567.7" cy="828.0" r="1.7" fill="#000"/>
<circle cx="561.0" cy="833.0" r="1.7" fill="#000"/>
<circle cx="572.5" cy="833.0" r="1.7" fill="#000"/>
<circle cx="559.5" cy="838.0" r="1.7" fill="#000"/>
<circle cx="575.5" cy="838.5" r="1.7" fill="#000"/>
<circle cx="598.5" cy="809.0" r="1.7" fill="#000"/>
<circle cx="593.0" cy="820.0" r="1.7" fill="#000"/>
<circle cx="603.5" cy="820.0" r="1.7" fill="#000"/>
<circle cx="598.5" cy="825.0" r="1.7" fill="#000"/>
<circle cx="596.0" cy="831.0" r="1.7" fill="#000"/>
<circle cx="603.5" cy="831.0" r="1.7" fill="#000"/>
<circle cx="598.5" cy="837.0" r="1.7" fill="#000"/>
<circle cx="598.5" cy="842.0" r="1.7" fill="#000"/>
<circle cx="598.5" cy="848.0" r="1.7" fill="#000"/>
<text x="330.7" y="862.8" font-size="9.8" text-anchor="end" stroke="#000" stroke-width="0.22">DCPIB:</text>
<text x="330.7" y="875.2" font-size="9.8" text-anchor="end" stroke="#000" stroke-width="0.22">LRRC8A-KD:</text>
<text x="344.2" y="862.3" font-size="9" text-anchor="middle" stroke="#000" stroke-width="0.22">-</text>
<text x="344.2" y="874.7" font-size="9" text-anchor="middle" stroke="#000" stroke-width="0.22">-</text>
<text x="374.9" y="862.3" font-size="9" text-anchor="middle" stroke="#000" stroke-width="0.22">+</text>
<text x="374.9" y="874.7" font-size="9" text-anchor="middle" stroke="#000" stroke-width="0.22">-</text>
<text x="405.5" y="862.3" font-size="9" text-anchor="middle" stroke="#000" stroke-width="0.22">-</text>
<text x="405.5" y="874.7" font-size="9" text-anchor="middle" stroke="#000" stroke-width="0.22">+</text>
<text x="440.7" y="862.3" font-size="9" text-anchor="middle" stroke="#000" stroke-width="0.22">-</text>
<text x="440.7" y="874.7" font-size="9" text-anchor="middle" stroke="#000" stroke-width="0.22">-</text>
<text x="471.5" y="862.3" font-size="9" text-anchor="middle" stroke="#000" stroke-width="0.22">+</text>
<text x="471.5" y="874.7" font-size="9" text-anchor="middle" stroke="#000" stroke-width="0.22">-</text>
<text x="501.7" y="862.3" font-size="9" text-anchor="middle" stroke="#000" stroke-width="0.22">-</text>
<text x="501.7" y="874.7" font-size="9" text-anchor="middle" stroke="#000" stroke-width="0.22">+</text>
<text x="537.2" y="862.3" font-size="9" text-anchor="middle" stroke="#000" stroke-width="0.22">-</text>
<text x="537.2" y="874.7" font-size="9" text-anchor="middle" stroke="#000" stroke-width="0.22">-</text>
<text x="567.7" y="862.3" font-size="9" text-anchor="middle" stroke="#000" stroke-width="0.22">+</text>
<text x="567.7" y="874.7" font-size="9" text-anchor="middle" stroke="#000" stroke-width="0.22">-</text>
<text x="598.5" y="862.3" font-size="9" text-anchor="middle" stroke="#000" stroke-width="0.22">-</text>
<text x="598.5" y="874.7" font-size="9" text-anchor="middle" stroke="#000" stroke-width="0.22">+</text>
<line x1="341.8" y1="879.5" x2="408.0" y2="879.5" stroke="#222" stroke-width="1"/>
<line x1="438.5" y1="879.5" x2="504.0" y2="879.5" stroke="#222" stroke-width="1"/>
<line x1="536.5" y1="879.5" x2="602.0" y2="879.5" stroke="#222" stroke-width="1"/>
<text x="371.4" y="893.0" font-size="9.8" text-anchor="middle" fill="#8c8c8c" stroke="#8c8c8c" stroke-width="0.11">PBS</text>
<text x="470.5" y="893.0" font-size="9.8" text-anchor="middle" fill="#ff0000" stroke="#ff0000" stroke-width="0.11">MSU</text>
<text x="567.7" y="893.0" font-size="9.8" text-anchor="middle" fill="#1a1aff" stroke="#1a1aff" stroke-width="0.11">CPP</text>
<path d="M345.2,755.3 V726.8 H536.5 V746" fill="none" stroke="#8a8a8a" stroke-width="0.7"/>
<path d="M345.2,739.2 H441.8 V741.9" fill="none" stroke="#8a8a8a" stroke-width="0.7"/>
<text x="442.3" y="724.0" font-size="7.4" text-anchor="middle" font-style="italic" fill="#111" stroke="#111" stroke-width="0.11" letter-spacing="0.1">p &lt; 0,0001</text>
<text x="389.6" y="736.2" font-size="7.4" text-anchor="middle" font-style="italic" fill="#111" stroke="#111" stroke-width="0.11" letter-spacing="0.1">p &lt; 0,0001</text>
<path d="M440.8,771 V759.7 H502.3 V767.7" fill="none" stroke="#8a8a8a" stroke-width="0.7"/>
<path d="M440.8,769.7 H471 V777.8" fill="none" stroke="#8a8a8a" stroke-width="0.7"/>
<text x="471.7" y="757.6" font-size="7.4" text-anchor="middle" font-style="italic" fill="#111" stroke="#111" stroke-width="0.11" letter-spacing="0.1">p &lt; 0,0001</text>
<text x="456.8" y="768.0" font-size="7.4" text-anchor="middle" font-style="italic" fill="#111" stroke="#111" stroke-width="0.11" letter-spacing="0.1">p =0,0074</text>
<path d="M536.5,734.1 H598 V741.9" fill="none" stroke="#8a8a8a" stroke-width="0.7"/>
<path d="M536.5,744.2 H567.7 V752" fill="none" stroke="#8a8a8a" stroke-width="0.7"/>
<text x="565.6" y="731.8" font-size="7.4" text-anchor="middle" font-style="italic" fill="#111" stroke="#111" stroke-width="0.11" letter-spacing="0.1">p &lt; 0,0001</text>
<text x="565.6" y="741.9" font-size="7.4" text-anchor="middle" font-style="italic" fill="#111" stroke="#111" stroke-width="0.11" letter-spacing="0.1">p &lt; 0,0001</text>
</g>
</svg>
</body></html>
